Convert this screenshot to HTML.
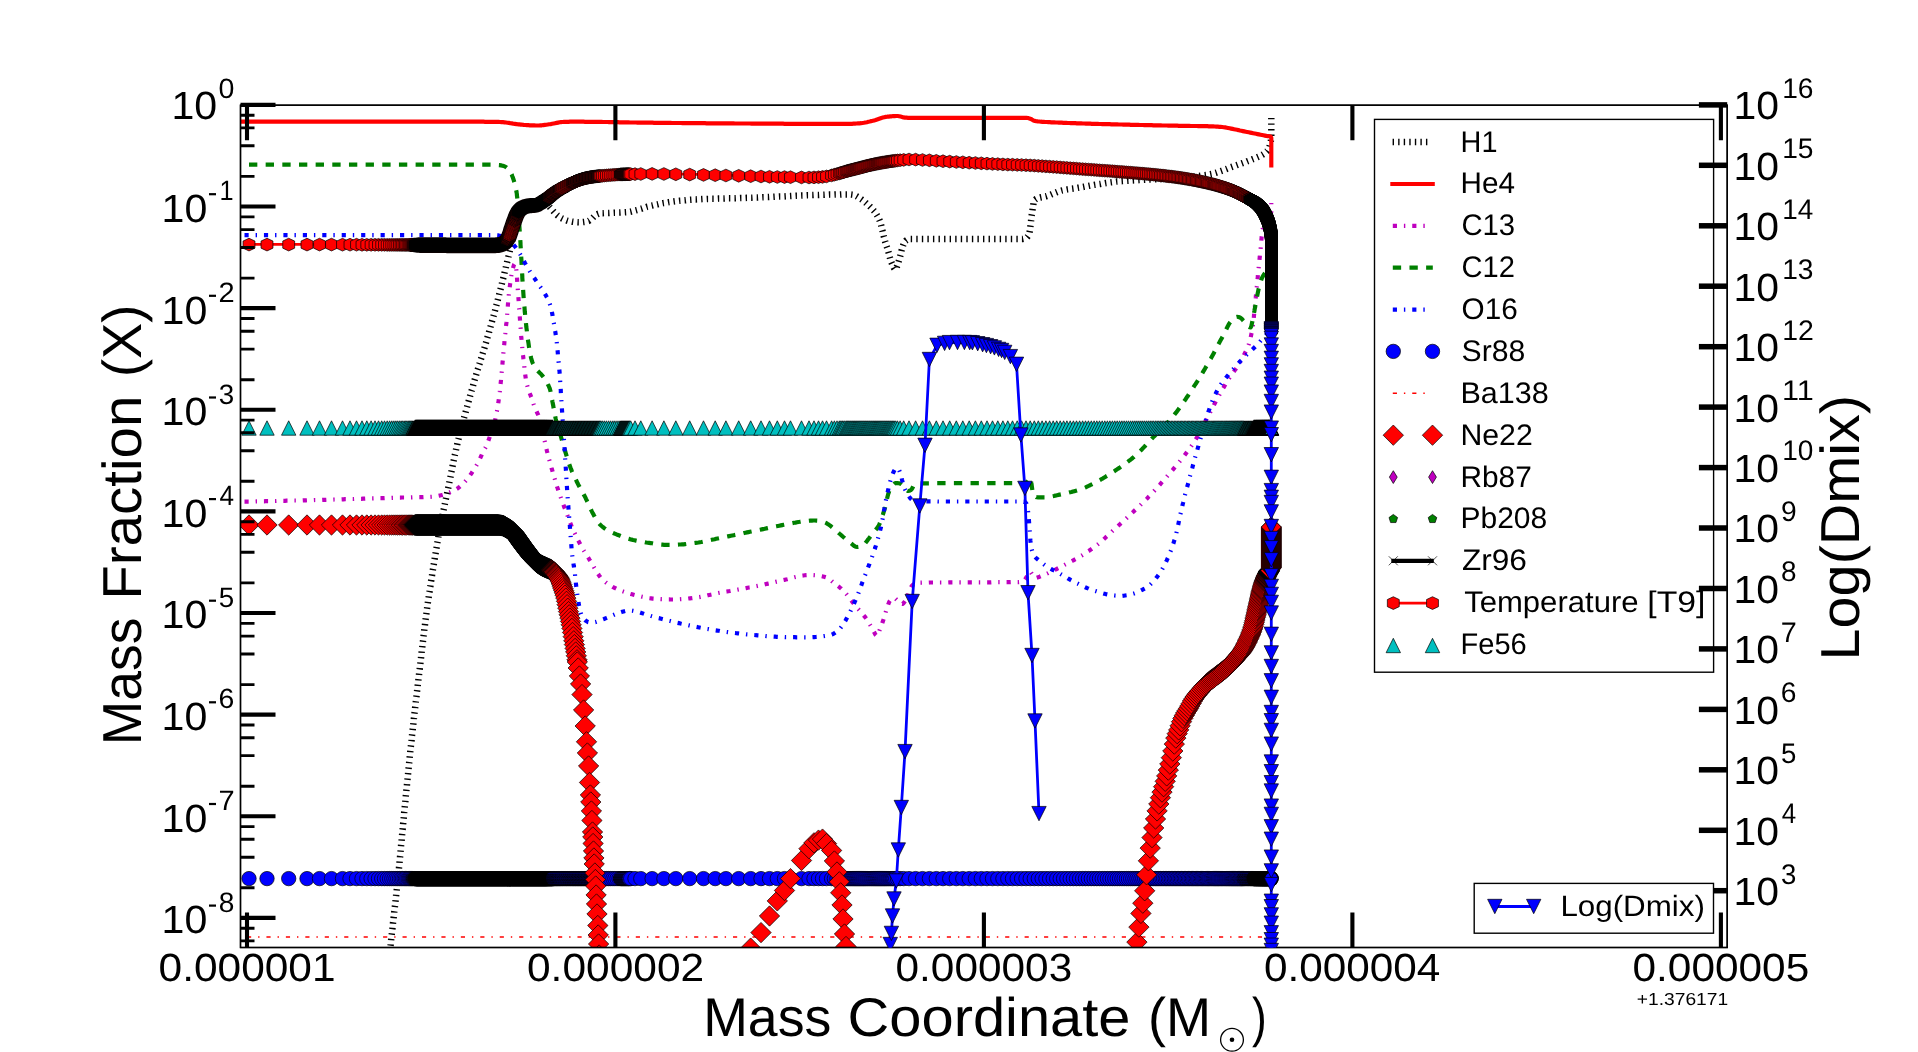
<!DOCTYPE html>
<html><head><meta charset="utf-8"><title>Abundance profile</title>
<style>html,body{margin:0;padding:0;background:#fff;}svg{display:block;will-change:transform;}text{font-family:"Liberation Sans",sans-serif;}</style></head>
<body>
<svg width="1918" height="1052" viewBox="0 0 1918 1052" font-family="'Liberation Sans', sans-serif" text-rendering="geometricPrecision">
<rect width="1918" height="1052" fill="#fff"/>
<defs>
<clipPath id="ax"><rect x="240.5" y="105.2" width="1486.7" height="842.3"/></clipPath>
<marker id="mh" markerUnits="userSpaceOnUse" markerWidth="30" markerHeight="30" refX="0" refY="0" viewBox="-15 -15 30 30" overflow="visible"><polygon points="0,-6.35 5.95,-3.55 5.95,3.55 0,6.35 -5.95,3.55 -5.95,-3.55" fill="#f00" stroke="#000" stroke-width="0.70" stroke-linejoin="round"/></marker>
<marker id="mD" markerUnits="userSpaceOnUse" markerWidth="30" markerHeight="30" refX="0" refY="0" viewBox="-15 -15 30 30" overflow="visible"><polygon points="0,-10.17 10.17,0 0,10.17 -10.17,0" fill="#f00" stroke="#000" stroke-width="0.70"/></marker>
<marker id="mo" markerUnits="userSpaceOnUse" markerWidth="30" markerHeight="30" refX="0" refY="0" viewBox="-15 -15 30 30" overflow="visible"><circle r="7.19" fill="#00f" stroke="#000" stroke-width="0.70"/></marker>
<marker id="mu" markerUnits="userSpaceOnUse" markerWidth="30" markerHeight="30" refX="0" refY="0" viewBox="-15 -15 30 30" overflow="visible"><polygon points="0,-7.19 7.19,7.19 -7.19,7.19" fill="#00bfbf" stroke="#000" stroke-width="0.70"/></marker>
<marker id="mv" markerUnits="userSpaceOnUse" markerWidth="30" markerHeight="30" refX="0" refY="0" viewBox="-15 -15 30 30" overflow="visible"><polygon points="0,7.19 7.19,-7.19 -7.19,-7.19" fill="#00f" stroke="#000" stroke-width="0.70"/></marker>
<marker id="mhj" markerUnits="userSpaceOnUse" markerWidth="30" markerHeight="30" refX="0" refY="0" viewBox="-15 -15 30 30" overflow="visible"><polygon points="0,-6.25 5.85,-3.50 5.85,3.50 0,6.25 -5.85,3.50 -5.85,-3.50" fill="#f00" stroke="#000" stroke-width="0.90" stroke-linejoin="round"/></marker>
<marker id="mDj" markerUnits="userSpaceOnUse" markerWidth="30" markerHeight="30" refX="0" refY="0" viewBox="-15 -15 30 30" overflow="visible"><polygon points="0,-10.03 10.03,0 0,10.03 -10.03,0" fill="#f00" stroke="#000" stroke-width="0.90"/></marker>
<marker id="moj" markerUnits="userSpaceOnUse" markerWidth="30" markerHeight="30" refX="0" refY="0" viewBox="-15 -15 30 30" overflow="visible"><circle r="7.09" fill="#00f" stroke="#000" stroke-width="0.90"/></marker>
<marker id="muj" markerUnits="userSpaceOnUse" markerWidth="30" markerHeight="30" refX="0" refY="0" viewBox="-15 -15 30 30" overflow="visible"><polygon points="0,-7.09 7.09,7.09 -7.09,7.09" fill="#00bfbf" stroke="#000" stroke-width="0.90"/></marker>
<marker id="mvj" markerUnits="userSpaceOnUse" markerWidth="30" markerHeight="30" refX="0" refY="0" viewBox="-15 -15 30 30" overflow="visible"><polygon points="0,7.09 7.09,-7.09 -7.09,-7.09" fill="#00f" stroke="#000" stroke-width="0.90"/></marker>
<marker id="mhk" markerUnits="userSpaceOnUse" markerWidth="30" markerHeight="30" refX="0" refY="0" viewBox="-15 -15 30 30" overflow="visible"><polygon points="0,-5.95 5.55,-3.35 5.55,3.35 0,5.95 -5.55,3.35 -5.55,-3.35" fill="#f00" stroke="#000" stroke-width="1.50" stroke-linejoin="round"/></marker>
<marker id="mDk" markerUnits="userSpaceOnUse" markerWidth="30" markerHeight="30" refX="0" refY="0" viewBox="-15 -15 30 30" overflow="visible"><polygon points="0,-9.61 9.61,0 0,9.61 -9.61,0" fill="#f00" stroke="#000" stroke-width="1.50"/></marker>
<marker id="mok" markerUnits="userSpaceOnUse" markerWidth="30" markerHeight="30" refX="0" refY="0" viewBox="-15 -15 30 30" overflow="visible"><circle r="6.79" fill="#00f" stroke="#000" stroke-width="1.50"/></marker>
<marker id="muk" markerUnits="userSpaceOnUse" markerWidth="30" markerHeight="30" refX="0" refY="0" viewBox="-15 -15 30 30" overflow="visible"><polygon points="0,-6.79 6.79,6.79 -6.79,6.79" fill="#00bfbf" stroke="#000" stroke-width="1.50"/></marker>
<marker id="mvk" markerUnits="userSpaceOnUse" markerWidth="30" markerHeight="30" refX="0" refY="0" viewBox="-15 -15 30 30" overflow="visible"><polygon points="0,6.79 6.79,-6.79 -6.79,-6.79" fill="#00f" stroke="#000" stroke-width="1.50"/></marker>
</defs>
<g clip-path="url(#ax)" fill="none" stroke-linejoin="round">
<polyline points="386,990 386.1,988.5 386.3,987 386.4,985.5 386.6,984 386.7,982.5 386.9,981 387,979.6 387.2,978.1 387.3,976.6 387.5,975.1 387.6,973.6 387.8,972.1 387.9,970.6 388.1,969.1 388.3,967.6 388.4,966.1 388.6,964.6 388.7,963.1 388.9,961.6 389,960.2 389.2,958.7 389.3,957.2 389.5,955.7 389.6,954.2 389.8,952.7 390,951.2 390.1,949.7 390.3,948.2 390.4,946.7 390.6,945.2 390.7,943.7 390.9,942.3 391.1,940.8 391.2,939.3 391.4,937.8 391.5,936.3 391.7,934.8 391.9,933.3 392,931.8 392.2,930.3 392.4,928.8 392.5,927.3 392.7,925.9 392.9,924.4 393,922.9 393.2,921.4 393.4,919.9 393.6,918.4 393.7,916.9 393.9,915.4 394.1,913.9 394.2,912.4 394.4,910.9 394.6,909.5 394.7,908 394.9,906.5 395.1,905 395.2,903.5 395.4,902 395.6,900.5 395.7,899 395.9,897.5 396.1,896 396.2,894.5 396.4,893.1 396.6,891.6 396.7,890.1 396.9,888.6 397,887.1 397.2,885.6 397.4,884.1 397.5,882.6 397.7,881.1 397.8,879.6 398,878.1 398.1,876.6 398.3,875.2 398.4,873.7 398.6,872.2 398.7,870.7 398.9,869.2 399,867.7 399.2,866.2 399.3,864.7 399.5,863.2 399.6,861.7 399.7,860.2 399.9,858.7 400,857.2 400.2,855.7 400.3,854.3 400.5,852.8 400.6,851.3 400.7,849.8 400.9,848.3 401,846.8 401.1,845.3 401.3,843.8 401.4,842.3 401.6,840.8 401.7,839.3 401.8,837.8 402,836.3 402.1,834.8 402.3,833.3 402.4,831.9 402.5,830.4 402.7,828.9 402.8,827.4 403,825.9 403.1,824.4 403.2,822.9 403.4,821.4 403.5,819.9 403.7,818.4 403.8,816.9 404,815.4 404.1,813.9 404.2,812.4 404.4,810.9 404.5,809.5 404.7,808 404.8,806.5 405,805 405.1,803.5 405.3,802 405.4,800.5 405.6,799 405.7,797.5 405.8,796 406,794.5 406.1,793 406.3,791.5 406.4,790 406.6,788.6 406.7,787.1 406.9,785.6 407,784.1 407.2,782.6 407.3,781.1 407.5,779.6 407.6,778.1 407.8,776.6 407.9,775.1 408.1,773.6 408.2,772.1 408.4,770.6 408.5,769.1 408.7,767.7 408.8,766.2 409,764.7 409.1,763.2 409.3,761.7 409.4,760.2 409.6,758.7 409.7,757.2 409.9,755.7 410,754.2 410.2,752.7 410.3,751.2 410.5,749.7 410.7,748.3 410.8,746.8 411,745.3 411.1,743.8 411.3,742.3 411.5,740.8 411.6,739.3 411.8,737.8 411.9,736.3 412.1,734.8 412.3,733.3 412.4,731.9 412.6,730.4 412.8,728.9 412.9,727.4 413.1,725.9 413.3,724.4 413.4,722.9 413.6,721.4 413.8,719.9 413.9,718.4 414.1,716.9 414.3,715.5 414.4,714 414.6,712.5 414.8,711 415,709.5 415.1,708 415.3,706.5 415.5,705 415.7,703.5 415.8,702 416,700.6 416.2,699.1 416.3,697.6 416.5,696.1 416.7,694.6 416.9,693.1 417,691.6 417.2,690.1 417.4,688.6 417.6,687.1 417.7,685.7 417.9,684.2 418.1,682.7 418.3,681.2 418.4,679.7 418.6,678.2 418.8,676.7 419,675.2 419.1,673.7 419.3,672.3 419.5,670.8 419.7,669.3 419.8,667.8 420,666.3 420.2,664.8 420.4,663.3 420.5,661.8 420.7,660.3 420.9,658.8 421.1,657.3 421.2,655.9 421.4,654.4 421.6,652.9 421.7,651.4 421.9,649.9 422.1,648.4 422.3,646.9 422.4,645.4 422.6,643.9 422.8,642.4 423,641 423.2,639.5 423.3,638 423.5,636.5 423.7,635 423.9,633.5 424.1,632 424.2,630.5 424.4,629 424.6,627.6 424.8,626.1 425,624.6 425.2,623.1 425.3,621.6 425.5,620.1 425.7,618.6 425.9,617.1 426.1,615.7 426.3,614.2 426.5,612.7 426.7,611.2 426.9,609.7 427.1,608.2 427.3,606.7 427.5,605.3 427.7,603.8 427.9,602.3 428.1,600.8 428.4,599.3 428.6,597.8 428.8,596.3 429,594.9 429.2,593.4 429.5,591.9 429.7,590.4 429.9,588.9 430.1,587.4 430.4,586 430.6,584.5 430.8,583 431,581.5 431.3,580 431.5,578.5 431.7,577.1 432,575.6 432.2,574.1 432.4,572.6 432.7,571.1 432.9,569.7 433.2,568.2 433.4,566.7 433.6,565.2 433.9,563.7 434.1,562.3 434.3,560.8 434.6,559.3 434.8,557.8 435.1,556.3 435.3,554.8 435.6,553.4 435.8,551.9 436.1,550.4 436.3,548.9 436.6,547.5 436.8,546 437.1,544.5 437.3,543 437.6,541.5 437.8,540.1 438.1,538.6 438.3,537.1 438.6,535.6 438.9,534.2 439.1,532.7 439.4,531.2 439.7,529.7 440,528.3 440.2,526.8 440.5,525.3 440.8,523.8 441.1,522.4 441.4,520.9 441.7,519.4 442,517.9 442.3,516.5 442.6,515 442.9,513.5 443.2,512.1 443.5,510.6 443.8,509.1 444.1,507.7 444.4,506.2 444.7,504.7 445,503.3 445.3,501.8 445.6,500.3 445.9,498.9 446.2,497.4 446.6,495.9 446.9,494.5 447.2,493 447.5,491.5 447.8,490 448.1,488.6 448.4,487.1 448.7,485.6 449,484.2 449.3,482.7 449.6,481.2 449.9,479.8 450.2,478.3 450.5,476.8 450.8,475.3 451.1,473.9 451.3,472.4 451.6,470.9 451.9,469.5 452.2,468 452.5,466.5 452.8,465 453.1,463.6 453.4,462.1 453.7,460.6 454,459.2 454.3,457.7 454.6,456.2 454.9,454.8 455.3,453.3 455.6,451.8 455.9,450.4 456.2,448.9 456.5,447.4 456.9,446 457.2,444.5 457.5,443 457.9,441.6 458.2,440.1 458.6,438.7 458.9,437.2 459.3,435.8 459.6,434.3 460,432.8 460.4,431.4 460.8,429.9 461.1,428.5 461.5,427 461.9,425.6 462.3,424.1 462.7,422.7 463.1,421.2 463.5,419.8 463.9,418.4 464.3,416.9 464.7,415.5 465.1,414 465.5,412.6 465.9,411.1 466.3,409.7 466.7,408.2 467.1,406.8 467.5,405.3 467.9,403.9 468.3,402.5 468.7,401 469.1,399.6 469.5,398.1 469.9,396.7 470.3,395.2 470.7,393.8 471.1,392.3 471.5,390.9 472,389.5 472.4,388 472.8,386.6 473.2,385.1 473.6,383.7 474,382.2 474.4,380.8 474.8,379.4 475.3,377.9 475.7,376.5 476.1,375 476.5,373.6 477,372.2 477.4,370.7 477.8,369.3 478.3,367.9 478.7,366.4 479.1,365 479.6,363.6 480,362.1 480.5,360.7 480.9,359.3 481.4,357.8 481.8,356.4 482.3,355 482.7,353.5 483.2,352.1 483.6,350.7 484,349.2 484.5,347.8 484.9,346.4 485.3,344.9 485.7,343.5 486.2,342 486.6,340.6 487,339.2 487.4,337.7 487.8,336.3 488.2,334.8 488.7,333.4 489.1,331.9 489.5,330.5 489.9,329.1 490.3,327.6 490.7,326.2 491.1,324.7 491.5,323.3 491.9,321.8 492.3,320.4 492.7,318.9 493.1,317.5 493.5,316.1 493.9,314.6 494.3,313.2 494.7,311.7 495.1,310.3 495.5,308.8 495.8,307.4 496.2,305.9 496.6,304.5 497,303 497.4,301.6 497.8,300.1 498.1,298.7 498.5,297.2 498.9,295.8 499.2,294.3 499.6,292.8 500,291.4 500.3,289.9 500.7,288.5 501.1,287 501.4,285.6 501.8,284.1 502.1,282.7 502.5,281.2 502.8,279.7 503.2,278.3 503.6,276.8 503.9,275.4 504.3,273.9 504.6,272.5 505,271 505.3,269.5 505.7,268.1 506,266.6 506.4,265.2 506.7,263.7 507.1,262.2 507.4,260.8 507.8,259.3 508.2,257.9 508.5,256.4 508.9,255 509.2,253.5 509.6,252 509.9,250.6 510.3,249.1 510.6,247.7 511,246.2 511.3,244.8 511.7,243.3 512,241.8 512.4,240.4 512.7,238.9 513.1,237.4 513.4,236 513.7,234.5 514.1,233 514.4,231.6 514.8,230.1 515.2,228.7 515.6,227.2 516.1,225.8 516.5,224.4 517,223 517.6,221.5 518.2,220 518.8,218.6 519.4,217.2 520.1,215.9 520.9,214.6 521.6,213.5 522.5,212.4 523.5,211.3 524.7,210.3 525.9,209.3 527.2,208.4 528.5,207.7 529.9,207 531.2,206.6 532.6,206.1 534.1,205.7 535.6,205.4 537.1,205.1 538.6,204.8 540,204.5 541.6,204.2 543.1,203.9 544.6,203.6 546,203.5 547.1,204 548.2,205.1 549.2,206.5 550.2,207.7 551.2,208.8 552.2,210 553.2,211.1 554.2,212.2 555.3,213.3 556.3,214.4 557.4,215.4 558.6,216.3 559.8,217.2 561.1,218 562.4,218.7 563.7,219.3 565.1,219.9 566.6,220.5 568,220.9 569.4,221.2 570.9,221.4 572.4,221.7 573.9,221.9 575.4,222.1 576.9,222.2 578.4,222.3 579.9,222.3 581.4,222.2 582.9,222.1 584.5,221.9 586,221.6 587.4,221.3 588.8,220.9 590,220.1 591.2,219.1 592.4,218.2 593.5,217.1 594.5,216 595.7,215.1 597,214.3 598.4,213.7 599.8,213.3 601.3,213.2 602.8,213.2 604.3,213.1 605.8,213.1 607.3,213 608.8,213 610.3,212.9 611.8,212.9 613.3,212.8 614.8,212.7 616.3,212.7 617.8,212.6 619.3,212.6 620.8,212.5 622.3,212.4 623.8,212.3 625.3,212.2 626.8,212.1 628.3,212 629.8,211.8 631.2,211.5 632.7,211.1 634.2,210.8 635.6,210.4 637.1,210 638.5,209.6 639.9,209.1 641.4,208.7 642.8,208.2 644.2,207.7 645.7,207.3 647.1,206.8 648.5,206.5 650,206.1 651.4,205.7 652.9,205.4 654.4,205 655.8,204.7 657.3,204.4 658.8,204 660.2,203.7 661.7,203.4 663.2,203.1 664.7,202.9 666.1,202.6 667.6,202.4 669.1,202.1 670.6,201.9 672.1,201.7 673.5,201.5 675,201.3 676.5,201.2 678,201 679.5,200.8 681,200.7 682.5,200.5 684,200.4 685.5,200.3 687,200.1 688.5,200 690,199.8 691.5,199.7 693,199.6 694.5,199.4 695.9,199.4 697.4,199.3 698.9,199.2 700.4,199.2 701.9,199.1 703.4,199 704.9,199 706.4,199 707.9,198.9 709.4,198.9 710.9,198.8 712.4,198.8 713.9,198.8 715.4,198.7 716.9,198.7 718.4,198.6 719.9,198.6 721.4,198.6 722.9,198.5 724.4,198.5 725.9,198.4 727.4,198.4 728.9,198.3 730.4,198.3 731.9,198.3 733.4,198.2 734.9,198.2 736.4,198.1 737.9,198.1 739.4,198.1 740.9,198 742.4,198 743.9,197.9 745.4,197.9 746.9,197.8 748.4,197.8 749.9,197.7 751.4,197.7 752.9,197.6 754.4,197.6 755.9,197.5 757.4,197.5 758.9,197.4 760.4,197.4 761.9,197.3 763.4,197.2 764.9,197.2 766.4,197.1 767.9,197.1 769.4,197 770.9,196.9 772.4,196.9 773.9,196.8 775.4,196.7 776.9,196.7 778.4,196.6 779.9,196.5 781.4,196.5 782.9,196.4 784.4,196.4 785.9,196.3 787.4,196.2 788.9,196.2 790.4,196.1 791.9,196 793.4,196 794.9,195.9 796.4,195.8 797.9,195.8 799.4,195.7 800.9,195.6 802.4,195.5 803.9,195.5 805.4,195.4 806.9,195.3 808.4,195.3 809.9,195.2 811.4,195.1 812.9,195.1 814.4,195 815.9,195 817.4,194.9 818.9,194.9 820.4,194.8 821.9,194.8 823.4,194.8 824.9,194.7 826.4,194.7 827.9,194.7 829.4,194.6 830.9,194.6 832.4,194.6 833.9,194.6 835.4,194.5 836.9,194.5 838.4,194.5 839.9,194.5 841.4,194.4 842.9,194.4 844.4,194.4 845.9,194.4 847.4,194.4 848.9,194.4 850.4,194.4 851.9,194.6 853.4,194.8 854.7,195.2 856.1,196 857.4,196.7 858.7,197.5 860,198.3 861.2,199.1 862.4,200 863.6,201 864.7,201.9 865.9,202.9 867,203.9 868.2,204.8 869.3,205.8 870.4,206.9 871.4,207.9 872.4,209 873.4,210.2 874.4,211.3 875.3,212.5 876.1,213.8 876.9,215.1 877.7,216.4 878.3,217.7 879,219 879.6,220.4 880.1,221.8 880.6,223.3 881,224.7 881.4,226.1 881.7,227.6 882,229.1 882.4,230.5 882.7,232 883.1,233.5 883.5,234.9 883.8,236.4 884.2,237.8 884.5,239.3 884.9,240.7 885.3,242.2 885.8,243.6 886.2,245 886.7,246.5 887.2,247.9 887.6,249.3 888.1,250.7 888.5,252.2 888.9,253.6 889.2,255.1 889.6,256.6 890,258 890.4,259.4 890.9,260.9 891.4,262.3 892,263.7 892.5,265.1 893.2,266.4 894,268.1 894.9,269.3 895.7,269.3 896.4,268.1 897,266.4 897.6,264.8 898.1,263.4 898.6,261.9 899,260.5 899.4,259.1 899.8,257.6 900.2,256.2 900.6,254.7 900.9,253.2 901.3,251.8 901.6,250.3 902,248.9 902.5,247.4 902.9,246 903.4,244.6 904,243.2 904.8,241.8 905.8,240.7 906.9,240 908.4,239.4 909.9,239 911.4,239 912.8,239 914.3,239 915.8,239 917.2,239 918.7,239 920.2,239 921.7,239 923.2,239 924.7,239 926.2,239 927.7,239 929.2,239 930.7,239 932.2,239 933.7,239 935.2,239 936.7,239 938.2,239 939.7,239 941.3,239 942.8,239 944.3,239 945.8,239 947.3,239 948.8,239 950.3,239 951.9,239 953.4,239 954.9,239 956.4,239 957.9,239 959.4,239 960.9,239 962.4,239 963.9,239 965.4,239 966.9,239 968.4,239 969.9,239 971.4,239 972.9,239 974.4,239 976,239 977.5,239 979,239 980.5,239 982,239 983.5,239 985,239 986.5,239 988,239 989.5,239 991,239 992.6,239 994.1,239 995.6,239 997.1,239 998.6,239 1000.1,239 1001.6,239 1003.1,239 1004.6,239 1006.1,239 1007.6,239 1009.1,239 1010.5,239 1012,239 1013.5,239 1015,239 1016.5,239 1018,239 1019.4,239 1020.9,239 1022.4,239 1023.9,238.7 1025.4,238.3 1026.6,237.6 1027.7,236.5 1028.6,235.2 1029.2,233.9 1029.5,232.5 1029.8,231 1030,229.5 1030.2,228 1030.4,226.4 1030.6,225 1030.8,223.5 1031,222 1031.1,220.5 1031.3,219 1031.4,217.5 1031.6,216 1031.8,214.5 1032.1,213 1032.3,211.6 1032.5,210.1 1032.7,208.6 1033,207.1 1033.2,205.6 1033.4,204 1033.6,202.5 1033.9,201.2 1034.7,200 1036,199 1037.3,198.4 1038.7,197.9 1040.1,197.5 1041.6,197.2 1043.2,197 1044.7,196.6 1046.1,196.3 1047.6,195.8 1049,195.3 1050.4,194.8 1051.8,194.2 1053.2,193.6 1054.6,193 1056,192.5 1057.4,191.9 1058.8,191.4 1060.2,191 1061.6,190.6 1063.1,190.3 1064.5,190 1066,189.7 1067.5,189.4 1069,189.2 1070.4,189 1071.9,188.7 1073.4,188.5 1074.9,188.3 1076.4,188.1 1077.9,187.8 1079.4,187.6 1080.9,187.3 1082.3,187.1 1083.8,186.8 1085.3,186.5 1086.8,186.3 1088.2,186 1089.7,185.7 1091.2,185.4 1092.7,185.2 1094.1,184.9 1095.6,184.7 1097.1,184.4 1098.6,184.2 1100.1,184 1101.5,183.7 1103,183.5 1104.5,183.3 1106,183 1107.5,182.8 1109,182.6 1110.4,182.4 1111.9,182.2 1113.4,182 1114.9,181.8 1116.4,181.6 1117.9,181.5 1119.4,181.4 1120.9,181.2 1122.4,181.1 1123.9,181 1125.4,180.9 1126.9,180.8 1128.3,180.7 1129.8,180.6 1131.3,180.5 1132.8,180.4 1134.3,180.3 1135.8,180.3 1137.3,180.2 1138.8,180.1 1140.3,180 1141.8,179.9 1143.3,179.9 1144.8,179.8 1146.3,179.7 1147.8,179.6 1149.3,179.5 1150.8,179.5 1152.3,179.4 1153.8,179.3 1155.3,179.2 1156.8,179.1 1158.3,179 1159.8,178.9 1161.3,178.9 1162.8,178.8 1164.3,178.7 1165.8,178.6 1167.3,178.5 1168.8,178.5 1170.3,178.4 1171.8,178.3 1173.3,178.2 1174.8,178.1 1176.3,178 1177.8,177.9 1179.3,177.8 1180.8,177.6 1182.3,177.5 1183.8,177.4 1185.3,177.3 1186.8,177.2 1188.3,177 1189.8,176.9 1191.3,176.7 1192.8,176.6 1194.3,176.5 1195.8,176.3 1197.3,176.1 1198.8,176 1200.3,175.8 1201.7,175.6 1203.2,175.4 1204.7,175.2 1206.2,175 1207.6,174.7 1209.1,174.5 1210.5,174.2 1212,173.9 1213.4,173.5 1214.9,173.1 1216.3,172.7 1217.7,172.2 1219.1,171.7 1220.6,171.2 1222,170.7 1223.4,170.2 1224.8,169.6 1226.2,169.1 1227.6,168.5 1229,168 1230.5,167.4 1231.9,166.9 1233.3,166.4 1234.7,165.9 1236.1,165.4 1237.5,164.9 1238.9,164.4 1240.4,163.9 1241.8,163.4 1243.2,162.9 1244.6,162.4 1246,161.9 1247.4,161.3 1248.8,160.8 1250.2,160.2 1251.6,159.7 1253,159.1 1254.4,158.6 1255.8,158 1257.1,157.4 1258.5,156.8 1259.9,156.1 1261.2,155.4 1262.5,154.7 1263.8,153.9 1265,153 1266.2,152 1267.3,151 1268.1,149.8 1268.8,148.5 1269.4,147.1 1269.8,145.6 1270.2,144.2 1270.5,142.7 1270.8,141.2 1271.1,139.7 1271.3,138.2 1271.3,136.8 1271.3,135.3 1271.3,133.8 1271.3,132.3 1271.3,130.8 1271.3,129.3 1271.3,127.8 1271.3,126.3 1271.3,124.8 1271.3,123.3 1271.3,121.8 1271.3,120.3 1271.3,118.8 1271.3,118" stroke="#000" stroke-width="6.50" stroke-dasharray="1.39 4.17" />
<polyline points="242,121.6 243.5,121.6 245,121.6 246.5,121.6 248,121.6 249.5,121.6 251,121.6 252.5,121.6 254,121.6 255.5,121.6 257,121.6 258.5,121.6 260,121.6 261.5,121.6 263,121.6 264.5,121.6 266,121.6 267.5,121.6 269,121.6 270.5,121.6 272,121.6 273.5,121.6 275,121.6 276.5,121.6 278,121.6 279.5,121.6 281,121.6 282.5,121.6 284,121.6 285.5,121.6 287,121.6 288.5,121.6 290,121.6 291.5,121.6 293,121.6 294.5,121.6 296,121.6 297.5,121.6 299,121.6 300.5,121.6 302,121.6 303.5,121.6 305,121.6 306.5,121.6 308,121.6 309.5,121.6 311,121.6 312.5,121.6 314,121.6 315.5,121.6 317,121.6 318.5,121.6 320,121.6 321.5,121.6 323,121.6 324.5,121.6 326,121.6 327.5,121.6 329,121.6 330.5,121.6 332,121.6 333.5,121.6 335,121.6 336.5,121.6 338,121.6 339.5,121.6 341,121.6 342.5,121.6 344,121.6 345.5,121.6 347,121.6 348.5,121.6 350,121.6 351.5,121.6 353,121.6 354.5,121.6 356,121.6 357.5,121.6 359,121.6 360.5,121.6 362,121.6 363.5,121.6 365,121.6 366.5,121.6 368,121.6 369.5,121.6 371,121.6 372.5,121.6 374,121.6 375.5,121.6 377,121.6 378.5,121.6 380,121.6 381.5,121.6 383,121.6 384.5,121.6 386,121.6 387.5,121.6 389,121.6 390.5,121.6 392,121.6 393.5,121.6 395,121.6 396.5,121.6 398,121.6 399.5,121.6 401,121.6 402.5,121.6 404,121.6 405.5,121.6 407,121.6 408.5,121.6 410,121.6 411.5,121.6 413,121.6 414.5,121.6 416,121.6 417.5,121.6 419,121.6 420.5,121.6 422,121.6 423.5,121.6 425,121.6 426.5,121.6 428,121.6 429.5,121.6 431,121.6 432.5,121.6 434,121.6 435.5,121.6 437,121.6 438.5,121.6 440,121.6 441.5,121.6 443,121.6 444.5,121.6 446,121.6 447.5,121.6 449,121.6 450.5,121.6 452,121.6 453.5,121.6 455,121.7 456.5,121.7 458,121.7 459.5,121.7 461,121.7 462.5,121.7 464,121.7 465.5,121.7 467,121.7 468.5,121.7 470,121.7 471.5,121.7 473,121.7 474.5,121.7 476,121.7 477.5,121.7 479,121.7 480.5,121.7 482,121.7 483.5,121.7 485,121.8 486.5,121.8 488,121.8 489.5,121.8 491,121.8 492.5,121.8 494,121.8 495.5,121.8 497,121.8 498.5,121.9 500,122 501.5,122.1 503,122.2 504.5,122.3 506,122.5 507.5,122.7 508.9,122.9 510.4,123.2 511.9,123.4 513.4,123.7 514.9,123.9 516.4,124.1 517.8,124.3 519.3,124.4 520.8,124.6 522.3,124.7 523.8,124.9 525.3,125 526.8,125.1 528.3,125.2 529.8,125.3 531.3,125.3 532.8,125.4 534.3,125.4 535.8,125.5 537.3,125.5 538.8,125.5 540.3,125.4 541.8,125.3 543.3,125.1 544.8,124.9 546.3,124.7 547.8,124.5 549.2,124.3 550.7,124.1 552.2,123.8 553.7,123.5 555.1,123.2 556.6,122.9 558.1,122.6 559.6,122.3 561,122.1 562.5,122 564,121.9 565.5,121.9 567,121.8 568.5,121.8 570,121.7 571.5,121.7 573,121.7 574.5,121.7 576,121.7 577.5,121.7 579,121.7 580.5,121.7 582,121.7 583.5,121.7 585,121.8 586.5,121.8 588,121.8 589.5,121.8 591,121.8 592.5,121.8 594,121.8 595.5,121.9 597,121.9 598.5,121.9 600,121.9 601.5,121.9 603,122 604.5,122 606,122 607.5,122 609,122.1 610.5,122.1 612,122.1 613.5,122.1 615,122.2 616.5,122.2 618,122.2 619.5,122.3 621,122.3 622.5,122.3 624,122.3 625.5,122.4 627,122.4 628.5,122.4 630,122.5 631.5,122.5 633,122.5 634.5,122.5 636,122.5 637.5,122.6 639,122.6 640.5,122.6 642,122.6 643.5,122.6 645,122.7 646.5,122.7 648,122.7 649.5,122.7 651,122.7 652.5,122.7 654,122.8 655.5,122.8 657,122.8 658.5,122.8 660,122.8 661.5,122.8 663,122.9 664.5,122.9 666,122.9 667.5,122.9 669,122.9 670.5,122.9 672,123 673.5,123 675,123 676.5,123 678,123 679.5,123 681,123 682.5,123.1 684,123.1 685.5,123.1 687,123.1 688.5,123.1 690,123.1 691.5,123.1 693,123.1 694.5,123.2 696,123.2 697.5,123.2 699,123.2 700.5,123.2 702,123.2 703.5,123.2 705,123.2 706.5,123.3 708,123.3 709.5,123.3 711,123.3 712.5,123.3 714,123.3 715.5,123.3 717,123.3 718.5,123.3 720,123.3 721.5,123.4 723,123.4 724.5,123.4 726,123.4 727.5,123.4 729,123.4 730.5,123.4 732,123.4 733.5,123.4 735,123.5 736.5,123.5 738,123.5 739.5,123.5 741,123.5 742.5,123.5 744,123.5 745.5,123.5 747,123.5 748.5,123.5 750,123.5 751.5,123.6 753,123.6 754.5,123.6 756,123.6 757.5,123.6 759,123.6 760.5,123.6 762,123.6 763.5,123.6 765,123.6 766.5,123.6 768,123.6 769.5,123.7 771,123.7 772.5,123.7 774,123.7 775.5,123.7 777,123.7 778.5,123.7 780,123.7 781.5,123.7 783,123.7 784.5,123.8 786,123.8 787.5,123.8 789,123.8 790.5,123.8 792,123.8 793.5,123.8 795,123.8 796.5,123.8 798,123.8 799.5,123.8 801,123.8 802.5,123.9 804,123.9 805.5,123.9 807,123.9 808.5,123.9 810,123.9 811.5,123.9 813,123.9 814.5,123.9 816,123.9 817.5,123.9 819,123.9 820.5,123.9 822,123.9 823.5,123.9 825,123.9 826.5,123.9 828,123.9 829.5,123.9 831,123.9 832.5,123.9 834,123.9 835.5,123.9 837,123.9 838.5,123.9 840,123.9 841.5,123.9 843,123.8 844.5,123.8 846,123.8 847.5,123.8 849,123.8 850.5,123.8 852,123.8 853.5,123.7 855,123.6 856.5,123.5 858,123.4 859.5,123.3 861,123.2 862.5,123 863.9,122.8 865.4,122.5 866.9,122.2 868.4,121.8 869.8,121.5 871.3,121.1 872.7,120.8 874.2,120.4 875.6,120 877.1,119.5 878.5,119 879.9,118.5 881.4,118 882.8,117.6 884.3,117.2 885.7,116.9 887.2,116.7 888.7,116.6 890.2,116.4 891.7,116.3 893.2,116.1 894.7,116.1 896.2,116 897.7,116 899.1,116.2 900.6,116.6 902.1,117 903.5,117.4 905,117.6 906.5,117.7 908,117.8 909.5,117.9 911,117.9 912.5,117.9 914,117.9 915.5,117.9 917,117.9 918.5,117.9 920,117.9 921.5,117.9 923,117.9 924.5,117.9 926,117.9 927.5,117.9 929,117.9 930.5,117.9 932,117.9 933.5,117.9 935,117.9 936.5,117.9 938,117.9 939.5,117.9 941,117.9 942.5,117.9 944,117.9 945.5,117.9 947,117.9 948.5,117.9 950,117.9 951.5,117.9 953,117.9 954.5,117.9 956,117.9 957.5,117.9 959,117.9 960.5,117.9 962,117.9 963.5,117.9 965,117.9 966.5,117.9 968,117.9 969.5,117.9 971,117.9 972.5,117.9 974,117.9 975.5,117.9 977,117.9 978.5,117.9 980,117.9 981.5,117.9 983,117.9 984.5,117.9 986,117.9 987.5,117.9 989,117.9 990.5,117.9 992,117.9 993.5,117.9 995,117.9 996.5,117.9 998,117.9 999.5,117.9 1001,117.9 1002.5,117.9 1004,117.9 1005.5,117.9 1007,117.9 1008.5,117.9 1010,117.9 1011.6,117.9 1013.1,117.9 1014.6,117.9 1016.1,117.9 1017.6,117.9 1019.1,117.9 1020.6,117.9 1022.1,117.9 1023.6,117.9 1025,117.9 1026.5,117.9 1028,118 1029.4,118.4 1030.9,118.9 1032.2,119.7 1033.5,120.5 1034.8,120.9 1036.3,121.2 1037.8,121.4 1039.3,121.5 1040.8,121.7 1042.3,121.8 1043.8,121.9 1045.3,122 1046.8,122 1048.3,122.1 1049.8,122.2 1051.3,122.3 1052.8,122.3 1054.3,122.4 1055.8,122.5 1057.3,122.5 1058.8,122.6 1060.3,122.7 1061.8,122.7 1063.3,122.8 1064.8,122.9 1066.3,122.9 1067.8,123 1069.3,123 1070.8,123.1 1072.3,123.1 1073.8,123.2 1075.3,123.2 1076.8,123.3 1078.3,123.3 1079.8,123.4 1081.3,123.4 1082.8,123.5 1084.3,123.5 1085.8,123.6 1087.3,123.6 1088.8,123.7 1090.3,123.7 1091.8,123.8 1093.3,123.8 1094.8,123.9 1096.3,123.9 1097.8,123.9 1099.3,124 1100.8,124 1102.3,124.1 1103.8,124.1 1105.3,124.1 1106.8,124.2 1108.3,124.2 1109.8,124.2 1111.3,124.3 1112.8,124.3 1114.3,124.4 1115.8,124.4 1117.3,124.4 1118.8,124.5 1120.3,124.5 1121.8,124.5 1123.3,124.6 1124.8,124.6 1126.3,124.7 1127.8,124.7 1129.3,124.7 1130.8,124.8 1132.3,124.8 1133.8,124.8 1135.3,124.9 1136.8,124.9 1138.3,124.9 1139.8,125 1141.3,125 1142.8,125 1144.3,125.1 1145.8,125.1 1147.3,125.1 1148.8,125.2 1150.3,125.2 1151.8,125.2 1153.3,125.3 1154.8,125.3 1156.3,125.3 1157.8,125.4 1159.3,125.4 1160.8,125.4 1162.3,125.5 1163.8,125.5 1165.3,125.5 1166.8,125.5 1168.3,125.6 1169.8,125.6 1171.3,125.6 1172.8,125.7 1174.3,125.7 1175.8,125.7 1177.3,125.7 1178.8,125.8 1180.3,125.8 1181.8,125.8 1183.3,125.9 1184.8,125.9 1186.3,125.9 1187.8,125.9 1189.3,125.9 1190.8,126 1192.3,126 1193.8,126 1195.3,126 1196.8,126 1198.3,126.1 1199.8,126.1 1201.3,126.1 1202.8,126.1 1204.3,126.2 1205.8,126.2 1207.3,126.2 1208.8,126.3 1210.3,126.3 1211.8,126.4 1213.3,126.4 1214.8,126.5 1216.3,126.6 1217.8,126.7 1219.3,126.8 1220.7,126.9 1222.2,127 1223.7,127.2 1225.2,127.4 1226.7,127.7 1228.1,128 1229.6,128.3 1231.1,128.6 1232.6,128.9 1234,129.2 1235.5,129.5 1237,129.8 1238.4,130.1 1239.9,130.5 1241.4,130.8 1242.8,131.1 1244.3,131.4 1245.8,131.7 1247.2,132 1248.7,132.3 1250.2,132.6 1251.6,132.9 1253.1,133.2 1254.6,133.5 1256.1,133.8 1257.5,134.1 1259,134.4 1260.5,134.7 1261.9,135 1263.4,135.3 1264.9,135.6 1266.4,135.9 1267.9,136.1 1269.4,136.3 1270.7,136.6 1271.3,137.9 1271.3,139.2 1271.3,140.5 1271.3,141.8 1271.3,143.2 1271.3,144.5 1271.3,145.9 1271.3,147.3 1271.3,148.8 1271.3,150.2 1271.3,151.7 1271.3,153.3 1271.3,154.8 1271.3,156.4 1271.3,158 1271.3,159.7 1271.3,161.4 1271.3,163.1 1271.3,164.9 1271.3,165.5" stroke="#f00" stroke-width="4.17" stroke-linecap="square"/>
<polyline points="244.5,501.7 246,501.7 247.5,501.6 249,501.6 250.5,501.6 252,501.5 253.5,501.5 255,501.5 256.5,501.4 258,501.4 259.5,501.4 261,501.3 262.5,501.3 264,501.3 265.5,501.2 267,501.2 268.5,501.2 270,501.1 271.5,501.1 273,501.1 274.5,501 276,501 277.5,500.9 279,500.9 280.5,500.9 282,500.8 283.5,500.8 285,500.8 286.5,500.7 288,500.7 289.5,500.7 291,500.6 292.5,500.6 294,500.5 295.5,500.5 297,500.5 298.5,500.4 300,500.4 301.5,500.4 303,500.3 304.5,500.3 306,500.3 307.5,500.2 309,500.2 310.5,500.1 312,500.1 313.5,500.1 315,500 316.5,500 318,499.9 319.5,499.9 321,499.9 322.5,499.8 324,499.8 325.5,499.8 327,499.7 328.5,499.7 330,499.6 331.5,499.6 333,499.6 334.5,499.5 336,499.5 337.5,499.4 339,499.4 340.5,499.4 342,499.3 343.5,499.3 345,499.2 346.5,499.2 348,499.1 349.5,499.1 351,499.1 352.5,499 354,499 355.5,498.9 357,498.9 358.5,498.8 360,498.8 361.5,498.8 363,498.7 364.5,498.7 366,498.6 367.5,498.6 369,498.5 370.5,498.5 372,498.4 373.5,498.4 375,498.3 376.5,498.3 378,498.3 379.5,498.2 381,498.2 382.5,498.1 384,498.1 385.5,498 387,498 388.5,497.9 389.9,497.9 391.4,497.9 392.9,497.8 394.4,497.8 395.9,497.7 397.4,497.7 398.9,497.6 400.4,497.6 401.9,497.5 403.4,497.5 404.9,497.5 406.4,497.4 408,497.4 409.5,497.4 411,497.4 412.5,497.3 414,497.3 415.5,497.3 417,497.2 418.5,497.2 420,497.2 421.5,497.1 423,497.1 424.5,497 426,497 427.5,496.9 429,496.9 430.4,496.8 431.9,496.7 433.4,496.6 434.9,496.4 436.4,496.2 437.9,495.9 439.4,495.6 440.8,495.3 442.3,494.9 443.7,494.5 445.1,494 446.6,493.5 448,493 449.4,492.5 450.8,491.9 452.2,491.4 453.5,490.7 454.9,490 456.1,489.3 457.4,488.5 458.6,487.6 459.8,486.6 460.9,485.6 462,484.6 463.1,483.6 464.2,482.5 465.2,481.4 466.2,480.3 467.2,479.2 468.1,478 469,476.8 469.9,475.6 470.7,474.4 471.6,473.1 472.4,471.8 473.2,470.6 474,469.3 474.8,468 475.6,466.8 476.4,465.5 477.2,464.2 478,462.9 478.6,461.6 479.3,460.3 479.9,458.9 480.5,457.5 481.1,456.1 481.7,454.8 482.3,453.4 483,452 483.7,450.7 484.4,449.4 485.2,448.1 485.9,446.8 486.5,445.4 487.1,444 487.6,442.6 488.2,441.2 488.7,439.8 489.2,438.4 489.7,437 490.1,435.6 490.6,434.1 491.1,432.7 491.6,431.3 492.1,429.9 492.6,428.5 493.1,427 493.5,425.6 494,424.2 494.4,422.7 494.8,421.3 495.2,419.8 495.5,418.4 495.8,416.9 496.1,415.5 496.4,414 496.7,412.5 497,411 497.2,409.5 497.5,408.1 497.7,406.6 498,405.1 498.2,403.6 498.4,402.1 498.6,400.7 498.8,399.2 499,397.7 499.2,396.2 499.4,394.7 499.6,393.2 499.8,391.7 499.9,390.2 500.1,388.7 500.3,387.3 500.4,385.8 500.6,384.3 500.7,382.8 500.9,381.3 501,379.8 501.1,378.3 501.3,376.8 501.4,375.3 501.6,373.8 501.7,372.3 501.9,370.8 502,369.3 502.1,367.8 502.3,366.3 502.4,364.9 502.5,363.4 502.6,361.9 502.8,360.4 502.9,358.9 503,357.4 503.2,355.9 503.3,354.4 503.4,352.9 503.6,351.4 503.7,349.9 503.8,348.4 504,346.9 504.1,345.4 504.3,343.9 504.4,342.4 504.5,340.9 504.7,339.5 504.8,338 505,336.5 505.1,335 505.3,333.5 505.4,332 505.6,330.5 505.7,329 505.9,327.5 506,326 506.2,324.5 506.4,323 506.5,321.5 506.7,320.1 506.8,318.6 506.9,317.1 507.1,315.6 507.2,314.1 507.3,312.6 507.5,311.1 507.6,309.6 507.7,308.1 507.8,306.6 507.9,305.1 508,303.6 508.1,302.1 508.3,300.6 508.4,299.1 508.5,297.6 508.7,296.1 508.8,294.7 509,293.2 509.2,291.7 509.3,290.2 509.5,288.7 509.7,287.2 509.9,285.7 510.1,284.2 510.3,282.7 510.5,281.2 510.7,279.8 511,278.3 511.2,276.8 511.4,275.3 511.7,273.8 512,272.4 512.3,270.9 512.6,269.4 513,268 513.5,266.3 514.1,264.5 514.7,263.5 515.1,263.9 515.5,265.2 515.9,267 516.2,268.9 516.4,270.5 516.5,272 516.7,273.5 516.8,275 516.9,276.5 517,278 517.1,279.5 517.2,281 517.3,282.5 517.4,284 517.5,285.5 517.6,286.9 517.7,288.4 517.8,289.9 517.9,291.4 518.1,292.9 518.2,294.4 518.3,295.9 518.4,297.4 518.5,298.9 518.6,300.4 518.7,301.9 518.8,303.4 518.9,304.9 519,306.4 519.1,307.9 519.3,309.4 519.4,310.9 519.5,312.4 519.6,313.9 519.7,315.4 519.8,316.9 519.9,318.4 520,319.9 520.1,321.4 520.2,322.9 520.3,324.3 520.4,325.8 520.5,327.3 520.7,328.8 520.8,330.3 520.9,331.8 521,333.3 521.1,334.8 521.2,336.3 521.3,337.8 521.5,339.3 521.6,340.8 521.7,342.3 521.9,343.8 522,345.3 522.2,346.8 522.3,348.3 522.5,349.8 522.6,351.2 522.8,352.7 522.9,354.2 523.1,355.7 523.3,357.2 523.4,358.7 523.6,360.2 523.8,361.7 523.9,363.2 524.1,364.7 524.3,366.2 524.4,367.7 524.6,369.2 524.7,370.7 524.9,372.1 525.1,373.6 525.3,375.1 525.5,376.6 525.7,378.1 525.9,379.6 526.2,381 526.5,382.5 526.8,384 527.2,385.4 527.6,386.9 528,388.3 528.4,389.8 528.9,391.2 529.4,392.6 530,394 530.6,395.4 531.1,396.7 531.7,398.2 532.1,399.6 532.6,401 533.1,402.4 533.5,403.9 534,405.3 534.5,406.7 535,408.1 535.6,409.5 536.3,410.8 536.9,412.2 537.6,413.6 538.2,414.9 538.8,416.3 539.2,417.7 539.6,419.1 540,420.6 540.4,422 540.8,423.5 541.1,424.9 541.4,426.4 541.7,427.9 542.1,429.4 542.4,430.8 542.7,432.3 543,433.8 543.3,435.2 543.7,436.7 544,438.2 544.3,439.6 544.7,441.1 545,442.6 545.3,444 545.7,445.5 546,446.9 546.3,448.4 546.7,449.9 547,451.3 547.4,452.8 547.8,454.2 548.1,455.7 548.5,457.1 548.9,458.6 549.3,460 549.7,461.5 550.1,462.9 550.5,464.4 550.9,465.8 551.3,467.3 551.7,468.7 552.2,470.1 552.6,471.6 553,473 553.4,474.5 553.8,475.9 554.3,477.3 554.7,478.8 555.1,480.2 555.5,481.7 556,483.1 556.4,484.5 556.9,486 557.3,487.4 557.8,488.8 558.2,490.2 558.7,491.7 559.2,493.1 559.7,494.5 560.2,495.9 560.7,497.3 561.2,498.7 561.7,500.2 562.2,501.6 562.7,503 563.3,504.4 563.8,505.8 564.3,507.2 564.9,508.6 565.4,510 565.9,511.4 566.4,512.8 567,514.2 567.5,515.6 568,517 568.5,518.4 569,519.8 569.6,521.2 570.1,522.6 570.7,524 571.2,525.4 571.8,526.8 572.4,528.2 573,529.6 573.6,530.9 574.2,532.3 574.9,533.6 575.5,535 576.2,536.4 576.8,537.7 577.5,539 578.2,540.4 578.9,541.7 579.6,543 580.3,544.4 581,545.7 581.7,547 582.5,548.3 583.2,549.6 584,550.9 584.8,552.1 585.6,553.4 586.4,554.7 587.2,556 588,557.2 588.8,558.5 589.6,559.8 590.4,561 591.2,562.3 592,563.6 592.7,564.9 593.5,566.2 594.2,567.6 595,568.9 595.7,570.2 596.5,571.5 597.3,572.8 598.1,574 598.9,575.2 599.8,576.4 600.7,577.6 601.7,578.6 602.8,579.7 603.9,580.7 605.1,581.7 606.2,582.7 607.4,583.6 608.6,584.4 609.9,585.3 611.2,586 612.5,586.8 613.8,587.5 615.2,588.1 616.6,588.8 617.9,589.4 619.3,590 620.7,590.6 622.1,591.1 623.5,591.6 624.9,592.1 626.3,592.6 627.8,593.1 629.2,593.5 630.6,593.9 632.1,594.3 633.5,594.7 635,595.1 636.4,595.4 637.9,595.7 639.4,596.1 640.8,596.4 642.3,596.8 643.8,597.1 645.3,597.4 646.7,597.7 648.2,598 649.7,598.2 651.2,598.4 652.7,598.6 654.1,598.7 655.6,598.8 657.1,598.9 658.6,599 660.1,599.1 661.6,599.2 663.1,599.2 664.6,599.3 666.1,599.4 667.6,599.4 669.1,599.4 670.6,599.5 672.1,599.5 673.6,599.5 675.1,599.5 676.6,599.5 678.1,599.4 679.6,599.3 681.1,599.2 682.6,599.1 684.1,599 685.6,598.8 687.1,598.7 688.6,598.5 690.1,598.3 691.6,598.2 693.1,598 694.6,597.8 696,597.6 697.5,597.4 699,597.1 700.5,596.9 701.9,596.6 703.4,596.3 704.9,596 706.3,595.7 707.8,595.3 709.3,595 710.7,594.7 712.2,594.4 713.7,594 715.2,593.7 716.6,593.4 718.1,593.1 719.6,592.8 721,592.5 722.5,592.3 724,592 725.5,591.7 726.9,591.5 728.4,591.2 729.9,591 731.4,590.7 732.9,590.4 734.3,590.2 735.8,589.9 737.3,589.7 738.8,589.4 740.3,589.2 741.7,588.9 743.2,588.6 744.7,588.4 746.2,588.1 747.6,587.8 749.1,587.5 750.6,587.3 752.1,587 753.5,586.7 755,586.4 756.5,586.1 757.9,585.8 759.4,585.5 760.9,585.2 762.3,584.9 763.8,584.6 765.3,584.2 766.7,583.9 768.2,583.6 769.7,583.3 771.1,582.9 772.6,582.6 774,582.3 775.5,581.9 777,581.6 778.4,581.3 779.9,580.9 781.4,580.6 782.8,580.2 784.3,579.9 785.7,579.5 787.2,579.2 788.7,578.8 790.1,578.5 791.6,578.1 793,577.6 794.5,577.2 795.9,576.9 797.4,576.5 798.8,576.2 800.3,576 801.8,575.7 803.3,575.5 804.8,575.3 806.3,575.1 807.7,575 809.2,575 810.7,575 812.3,575.1 813.8,575.2 815.2,575.3 816.7,575.4 818.2,575.5 819.8,575.8 821.3,576.1 822.7,576.4 824.2,576.8 825.6,577.3 826.9,577.7 828.2,578.4 829.5,579.2 830.7,580.2 831.8,581.2 833,582.2 834.2,583.1 835.4,584.1 836.6,585 837.8,585.9 839,586.8 840.1,587.8 841.3,588.7 842.3,589.8 843.4,590.8 844.4,591.9 845.4,593 846.4,594.1 847.3,595.3 848.2,596.5 849.2,597.7 850.1,598.9 851,600.1 851.9,601.3 852.8,602.5 853.8,603.7 854.7,604.8 855.7,606 856.7,607.1 857.6,608.3 858.6,609.4 859.6,610.5 860.6,611.7 861.6,612.8 862.6,613.9 863.5,615.1 864.5,616.3 865.4,617.4 866.3,618.6 867.1,619.9 867.9,621.1 868.7,622.4 869.5,623.7 870.2,625 871,626.3 871.7,627.6 872.5,628.9 873.4,630.6 874.2,632.2 875,633.8 875.8,635.1 876.6,635.9 877.3,635.9 877.9,635.1 878.5,633.6 879.1,631.9 879.6,630.1 880.2,628.6 880.7,627.2 881.3,625.8 881.8,624.4 882.3,623 882.8,621.5 883.3,620.1 883.8,618.7 884.2,617.3 884.7,615.8 885.1,614.4 885.5,612.9 885.9,611.5 886.3,610.1 886.8,608.6 887.3,607.2 887.8,605.7 888.3,604.2 888.9,602.7 889.5,601.4 890.3,600.3 891.3,599.3 892.7,598.4 894,598 895.3,598.5 896.5,599.6 897.6,600.7 898.9,601.7 900.2,602.8 901.4,603.7 902.6,604 903.6,603.1 904.6,601.7 905.4,600.4 906.1,599 906.7,597.7 907.3,596.3 907.9,594.9 908.4,593.5 909,592 909.5,590.5 910.1,589.1 910.7,587.8 911.4,586.5 912.3,585.4 913.5,584.4 914.8,583.6 916.1,583.1 917.6,582.8 919.1,582.7 920.6,582.7 922.1,582.6 923.6,582.6 925.1,582.6 926.5,582.6 928,582.6 929.5,582.5 931,582.5 932.5,582.5 934,582.5 935.5,582.5 937,582.5 938.5,582.5 940.1,582.5 941.6,582.5 943.1,582.5 944.6,582.5 946.1,582.5 947.6,582.5 949.1,582.4 950.6,582.4 952.1,582.4 953.6,582.4 955.1,582.4 956.6,582.4 958.1,582.4 959.6,582.4 961.1,582.4 962.6,582.4 964.1,582.4 965.6,582.4 967.1,582.4 968.6,582.4 970.1,582.3 971.6,582.3 973.1,582.3 974.6,582.3 976.1,582.3 977.6,582.3 979.1,582.3 980.6,582.3 982.1,582.3 983.6,582.3 985.1,582.3 986.6,582.3 988.1,582.3 989.6,582.3 991.1,582.3 992.6,582.2 994.1,582.2 995.6,582.2 997.1,582.2 998.6,582.2 1000.1,582.2 1001.7,582.2 1003.2,582.2 1004.8,582.2 1006.4,582.2 1008,582.2 1009.6,582.2 1011.2,582.1 1012.7,582.1 1014.3,582.1 1015.8,582.1 1017.2,582.1 1018.7,582.1 1020,582 1021.3,582 1022.5,581.9 1023.7,581.1 1024.7,579.8 1025.7,578.4 1026.5,577.2 1027.2,575.9 1028,574.5 1028.8,573 1029.6,571.7 1030.5,571.7 1031.3,573 1032.2,574.6 1033.2,575.9 1034.2,577.3 1035.3,578 1036.6,577.8 1038.1,577.3 1039.6,576.7 1041,576.1 1042.4,575.6 1043.7,575 1045.1,574.4 1046.5,573.8 1047.9,573.2 1049.2,572.5 1050.6,571.9 1051.9,571.3 1053.3,570.6 1054.6,569.9 1056,569.3 1057.3,568.6 1058.7,567.9 1060,567.2 1061.3,566.6 1062.7,565.9 1064,565.2 1065.3,564.5 1066.7,563.8 1068,563.1 1069.3,562.4 1070.7,561.7 1072,561 1073.3,560.3 1074.6,559.6 1075.9,558.9 1077.2,558.1 1078.5,557.4 1079.8,556.6 1081.1,555.8 1082.4,555.1 1083.6,554.3 1084.9,553.5 1086.2,552.6 1087.4,551.8 1088.7,551 1089.9,550.1 1091.2,549.3 1092.4,548.4 1093.6,547.5 1094.8,546.7 1096,545.8 1097.2,544.8 1098.4,543.9 1099.5,543 1100.7,542 1101.8,541 1102.9,540 1104,539 1105.1,538 1106.2,536.9 1107.3,535.9 1108.4,534.9 1109.5,533.8 1110.6,532.8 1111.7,531.8 1112.8,530.7 1113.9,529.7 1115,528.7 1116.1,527.7 1117.2,526.7 1118.3,525.7 1119.4,524.7 1120.5,523.7 1121.6,522.7 1122.7,521.6 1123.9,520.6 1125,519.6 1126.1,518.6 1127.2,517.6 1128.3,516.6 1129.4,515.5 1130.5,514.5 1131.5,513.5 1132.6,512.5 1133.7,511.4 1134.8,510.4 1135.9,509.4 1137,508.3 1138.1,507.3 1139.2,506.3 1140.3,505.2 1141.3,504.2 1142.4,503.1 1143.5,502.1 1144.5,501 1145.6,500 1146.7,498.9 1147.7,497.8 1148.7,496.7 1149.8,495.7 1150.8,494.6 1151.8,493.5 1152.8,492.4 1153.9,491.3 1154.9,490.2 1155.9,489 1156.9,487.9 1157.9,486.8 1158.9,485.7 1159.9,484.6 1160.9,483.4 1161.8,482.3 1162.8,481.2 1163.8,480 1164.8,478.9 1165.8,477.8 1166.8,476.7 1167.8,475.5 1168.7,474.4 1169.7,473.3 1170.7,472.1 1171.7,471 1172.7,469.9 1173.7,468.7 1174.6,467.6 1175.6,466.4 1176.6,465.3 1177.5,464.1 1178.5,463 1179.4,461.8 1180.4,460.6 1181.3,459.5 1182.2,458.3 1183.2,457.1 1184.1,455.9 1185,454.7 1185.9,453.5 1186.8,452.3 1187.7,451.1 1188.6,449.9 1189.5,448.7 1190.4,447.5 1191.2,446.3 1192.1,445 1192.9,443.8 1193.8,442.5 1194.6,441.3 1195.4,440 1196.2,438.7 1196.9,437.5 1197.7,436.2 1198.4,434.9 1199.1,433.6 1199.8,432.3 1200.6,430.9 1201.2,429.6 1201.9,428.3 1202.6,426.9 1203.3,425.6 1204,424.2 1204.7,422.9 1205.3,421.6 1206,420.2 1206.7,418.9 1207.4,417.5 1208.1,416.2 1208.8,414.9 1209.5,413.6 1210.2,412.2 1210.9,410.9 1211.6,409.6 1212.3,408.2 1212.9,406.9 1213.6,405.6 1214.3,404.2 1215,402.9 1215.7,401.6 1216.4,400.2 1217.1,398.9 1217.8,397.6 1218.6,396.3 1219.3,395 1220,393.7 1220.8,392.4 1221.5,391.1 1222.3,389.8 1223,388.5 1223.8,387.2 1224.5,385.9 1225.3,384.6 1226.1,383.3 1226.9,382 1227.7,380.8 1228.5,379.5 1229.3,378.2 1230.1,377 1230.9,375.7 1231.7,374.5 1232.6,373.3 1233.5,372 1234.4,370.8 1235.3,369.6 1236.2,368.4 1237.1,367.2 1237.9,366 1238.7,364.7 1239.5,363.4 1240.2,362.1 1240.9,360.8 1241.7,359.5 1242.4,358.2 1243.1,356.8 1243.8,355.5 1244.4,354.2 1245.1,352.8 1245.8,351.5 1246.5,350.1 1247.1,348.8 1247.7,347.4 1248.2,346 1248.7,344.6 1249.1,343.1 1249.5,341.7 1249.9,340.2 1250.3,338.8 1250.7,337.3 1251,335.9 1251.3,334.4 1251.6,332.9 1251.9,331.5 1252.2,330 1252.5,328.5 1252.7,327 1252.9,325.5 1253.1,324 1253.3,322.6 1253.5,321.1 1253.6,319.6 1253.8,318.1 1253.9,316.6 1254,315.1 1254.2,313.6 1254.3,312.1 1254.4,310.6 1254.6,309.1 1254.7,307.6 1254.9,306.1 1255,304.6 1255.2,303.1 1255.3,301.7 1255.5,300.2 1255.6,298.7 1255.8,297.2 1255.9,295.7 1256.1,294.2 1256.2,292.7 1256.4,291.2 1256.5,289.7 1256.7,288.2 1256.8,286.7 1257,285.2 1257.1,283.7 1257.2,282.2 1257.4,280.8 1257.5,279.3 1257.7,277.8 1257.8,276.3 1257.9,274.8 1258.1,273.3 1258.2,271.8 1258.4,270.3 1258.5,268.8 1258.7,267.3 1258.8,265.8 1259,264.3 1259.1,262.8 1259.3,261.3 1259.5,259.9 1259.6,258.4 1259.8,256.9 1259.9,255.4 1260.1,253.9 1260.2,252.4 1260.4,250.9 1260.6,249.4 1260.7,247.9 1260.8,246.4 1261,244.9 1261.1,243.4 1261.2,241.9 1261.3,240.4 1261.5,238.9 1261.6,237.4 1261.8,235.9 1261.9,234.4 1262.1,233 1262.3,231.5 1262.5,230 1262.8,228.5 1263.1,227.1 1263.5,225.6 1263.9,224.2 1264.4,222.7 1264.9,221.3 1265.4,219.9 1266,218.5 1266.7,217.1 1267.4,215.8 1268.3,214.7 1269.7,213.7 1271,212.7 1271.3,211.6 1271.3,210.4 1271.3,209 1271.3,207.5 1271.3,205.9 1271.3,204.2 1271.3,203" stroke="#bf00bf" stroke-width="4.17" stroke-dasharray="4.17 6.94 1.39 6.94" />
<polyline points="249,164.7 250.5,164.7 252,164.7 253.5,164.7 255,164.7 256.5,164.7 258,164.7 259.5,164.7 261,164.7 262.5,164.7 264,164.7 265.5,164.7 267,164.7 268.5,164.7 270,164.7 271.5,164.7 273,164.7 274.5,164.7 276,164.7 277.5,164.7 279,164.7 280.5,164.7 282,164.7 283.5,164.7 285,164.7 286.5,164.7 288,164.7 289.5,164.7 291,164.7 292.5,164.7 294,164.7 295.5,164.7 297,164.7 298.5,164.7 300,164.7 301.5,164.7 303,164.7 304.5,164.7 306,164.7 307.5,164.7 309,164.7 310.5,164.7 312,164.7 313.5,164.7 315,164.7 316.5,164.7 318,164.7 319.5,164.7 321,164.7 322.5,164.7 324,164.7 325.5,164.7 327,164.7 328.5,164.7 330,164.7 331.5,164.7 333,164.7 334.5,164.7 336,164.7 337.5,164.7 339,164.7 340.5,164.7 342,164.7 343.5,164.7 345,164.7 346.5,164.7 348,164.7 349.5,164.7 351,164.7 352.5,164.7 354,164.7 355.5,164.7 357,164.7 358.5,164.7 360,164.7 361.5,164.7 363,164.7 364.5,164.7 366,164.7 367.5,164.7 369,164.7 370.5,164.7 372,164.7 373.5,164.7 375,164.7 376.5,164.7 378,164.7 379.5,164.7 381,164.7 382.5,164.7 384,164.7 385.5,164.7 387,164.7 388.5,164.7 390,164.7 391.5,164.7 393,164.7 394.5,164.7 396,164.7 397.5,164.7 399,164.7 400.5,164.7 402,164.7 403.5,164.7 405,164.7 406.5,164.7 408,164.7 409.5,164.7 411,164.7 412.5,164.7 414,164.7 415.5,164.7 417,164.7 418.5,164.7 420,164.7 421.5,164.7 423,164.7 424.5,164.7 426,164.7 427.5,164.7 429,164.7 430.5,164.7 432,164.7 433.5,164.7 435,164.7 436.5,164.7 438,164.7 439.5,164.7 441,164.7 442.5,164.7 444,164.7 445.5,164.7 447,164.7 448.5,164.7 450,164.7 451.5,164.7 453,164.7 454.5,164.7 456,164.7 457.5,164.7 459,164.7 460.5,164.7 462,164.7 463.5,164.7 465,164.7 466.5,164.7 468,164.7 469.5,164.7 471,164.7 472.5,164.7 474,164.7 475.5,164.7 477,164.7 478.5,164.7 480,164.7 481.5,164.7 483,164.7 484.5,164.7 486,164.7 487.5,164.7 489,164.7 490.5,164.7 492,164.7 493.5,164.8 495,164.8 496.5,164.9 498,165 499.5,165.1 501.1,165.4 502.5,165.7 503.9,166.1 505.2,166.6 506.5,167.5 507.7,168.5 508.7,169.7 509.6,170.8 510.4,172 511.1,173.4 511.8,174.8 512.3,176.2 512.9,177.6 513.3,179 513.8,180.4 514.2,181.9 514.6,183.3 515,184.8 515.4,186.3 515.7,187.7 516,189.2 516.3,190.7 516.5,192.2 516.8,193.7 516.9,195.1 517.1,196.6 517.3,198.1 517.4,199.6 517.6,201.1 517.7,202.6 517.8,204.1 517.9,205.6 518,207.1 518.1,208.6 518.3,210.1 518.4,211.6 518.5,213.1 518.6,214.6 518.7,216.1 518.8,217.6 518.9,219.1 519,220.6 519.1,222.1 519.2,223.6 519.3,225.1 519.4,226.5 519.5,228 519.6,229.5 519.7,231 519.8,232.5 519.9,234 520,235.5 520.1,237 520.2,238.5 520.3,240 520.4,241.5 520.5,243 520.5,244.5 520.6,246 520.7,247.5 520.8,249 520.9,250.5 521,252 521.1,253.5 521.1,255 521.2,256.5 521.3,258 521.4,259.5 521.5,261 521.5,262.5 521.6,264 521.7,265.5 521.8,267 521.9,268.5 521.9,270 522,271.5 522.1,273 522.2,274.5 522.3,276 522.3,277.5 522.4,279 522.5,280.5 522.6,282 522.7,283.5 522.8,284.9 522.9,286.4 523,287.9 523.1,289.4 523.2,290.9 523.3,292.4 523.4,293.9 523.5,295.4 523.6,296.9 523.7,298.4 523.9,299.9 524,301.4 524.1,302.9 524.2,304.4 524.3,305.9 524.5,307.4 524.6,308.9 524.7,310.4 524.8,311.9 525,313.4 525.1,314.9 525.3,316.4 525.4,317.8 525.5,319.3 525.7,320.8 525.9,322.3 526,323.8 526.2,325.3 526.3,326.8 526.5,328.3 526.7,329.8 526.9,331.3 527,332.8 527.2,334.3 527.4,335.7 527.6,337.2 527.8,338.7 528,340.2 528.2,341.7 528.5,343.2 528.7,344.7 528.9,346.2 529.1,347.7 529.4,349.2 529.6,350.7 529.9,352.1 530.2,353.6 530.5,355.1 530.8,356.5 531.1,358 531.5,359.4 531.9,360.8 532.4,362.2 533,363.6 533.7,365 534.4,366.4 535.1,367.7 535.9,368.9 536.8,370 537.9,371.1 539,372.1 540.1,373.2 541.2,374.2 542.1,375.4 543.1,376.6 544,377.8 544.8,379.1 545.6,380.3 546.4,381.6 547.1,382.9 547.8,384.3 548.5,385.6 549.1,387 549.7,388.4 550.1,389.8 550.5,391.2 550.8,392.7 551.1,394.1 551.4,395.6 551.6,397.1 551.9,398.6 552.2,400.1 552.4,401.6 552.7,403 553,404.5 553.3,406 553.5,407.5 553.8,408.9 554.1,410.4 554.3,411.9 554.6,413.4 554.9,414.8 555.2,416.3 555.5,417.8 555.8,419.2 556.2,420.7 556.5,422.1 556.9,423.6 557.3,425 557.8,426.5 558.2,427.9 558.6,429.3 559.1,430.8 559.5,432.2 560,433.6 560.4,435.1 560.9,436.5 561.3,438 561.7,439.4 562.1,440.8 562.5,442.3 562.9,443.7 563.4,445.2 563.8,446.6 564.2,448 564.6,449.5 565.1,450.9 565.5,452.4 565.9,453.8 566.4,455.2 566.8,456.7 567.3,458.1 567.7,459.5 568.2,461 568.6,462.4 569.1,463.8 569.6,465.2 570.1,466.6 570.6,468 571.2,469.4 571.7,470.8 572.3,472.2 572.9,473.6 573.6,474.9 574.2,476.3 574.8,477.6 575.5,479 576.2,480.3 576.8,481.7 577.5,483 578.2,484.4 578.9,485.7 579.6,487 580.3,488.3 581,489.7 581.8,491 582.5,492.3 583.2,493.6 583.9,494.9 584.7,496.2 585.4,497.5 586,498.9 586.7,500.2 587.3,501.6 588,503 588.6,504.3 589.2,505.7 589.8,507.1 590.4,508.4 591.1,509.8 591.7,511.1 592.4,512.5 593.1,513.8 593.8,515.1 594.6,516.5 595.3,517.8 596.1,519.1 596.9,520.4 597.7,521.7 598.6,522.9 599.5,524 600.5,525 601.6,526 602.8,527 604,527.9 605.2,528.7 606.5,529.6 607.8,530.3 609.1,531.1 610.5,531.8 611.8,532.4 613.2,533 614.6,533.6 616,534.2 617.4,534.8 618.8,535.3 620.2,535.8 621.6,536.4 623,536.9 624.4,537.4 625.8,537.9 627.2,538.4 628.7,538.8 630.1,539.3 631.6,539.6 633,540 634.5,540.3 635.9,540.6 637.4,540.9 638.9,541.2 640.3,541.5 641.8,541.7 643.3,542 644.8,542.2 646.3,542.5 647.8,542.7 649.2,542.9 650.7,543.1 652.2,543.3 653.7,543.6 655.2,543.8 656.7,544 658.2,544.3 659.7,544.5 661.2,544.6 662.6,544.7 664.1,544.8 665.6,544.8 667.1,544.8 668.6,544.8 670.1,544.8 671.6,544.7 673.1,544.7 674.6,544.7 676.1,544.6 677.6,544.6 679.1,544.5 680.6,544.5 682.1,544.4 683.6,544.3 685.1,544.2 686.6,544 688.1,543.9 689.6,543.7 691.1,543.5 692.6,543.3 694.1,543.1 695.6,542.9 697,542.7 698.5,542.5 700,542.2 701.5,542 702.9,541.7 704.4,541.4 705.9,541.1 707.3,540.8 708.8,540.5 710.3,540.1 711.7,539.8 713.2,539.5 714.7,539.2 716.1,538.8 717.6,538.5 719.1,538.2 720.5,537.9 722,537.6 723.5,537.3 725,537 726.4,536.7 727.9,536.4 729.4,536.1 730.8,535.8 732.3,535.5 733.8,535.2 735.2,534.9 736.7,534.6 738.2,534.3 739.6,534 741.1,533.7 742.6,533.4 744.1,533 745.5,532.7 747,532.4 748.5,532.1 749.9,531.8 751.4,531.5 752.9,531.2 754.3,530.9 755.8,530.6 757.3,530.3 758.7,530 760.2,529.7 761.7,529.4 763.1,529.1 764.6,528.8 766.1,528.4 767.6,528.1 769,527.8 770.5,527.5 772,527.2 773.4,526.9 774.9,526.6 776.4,526.3 777.8,526 779.3,525.7 780.8,525.4 782.2,525.1 783.7,524.8 785.2,524.5 786.7,524.2 788.1,524 789.6,523.7 791.1,523.4 792.6,523.1 794,522.8 795.5,522.6 797,522.3 798.5,522 799.9,521.8 801.4,521.5 802.9,521.3 804.4,521.2 805.9,521 807.4,520.9 808.9,520.8 810.4,520.6 811.9,520.6 813.4,520.5 814.9,520.5 816.4,520.6 817.9,520.7 819.4,520.9 820.8,521.1 822.3,521.5 823.7,522 825.1,522.6 826.5,523.2 827.7,524 829,524.8 830.2,525.7 831.4,526.7 832.5,527.6 833.7,528.6 834.9,529.5 836,530.5 837.1,531.5 838.2,532.5 839.3,533.5 840.5,534.5 841.6,535.5 842.7,536.5 843.9,537.5 845,538.5 846.1,539.5 847.3,540.4 848.5,541.3 849.7,542.3 850.9,543.2 852.1,544.2 853.3,545.3 854.6,546.2 855.9,546.8 857.2,547 858.7,546.8 860.3,546.5 861.7,546.1 862.9,545.5 864,544.6 865,543.5 866,542.2 867,540.9 867.9,539.7 868.9,538.5 869.8,537.3 870.7,536.1 871.6,534.9 872.5,533.7 873.4,532.5 874.4,531.4 875.4,530.2 876.3,529.1 877.3,527.9 878.1,526.7 878.8,525.4 879.4,524.1 880,522.7 880.5,521.3 881,519.8 881.5,518.4 882,517 882.5,515.5 883,514.1 883.5,512.7 883.9,511.3 884.4,509.8 884.8,508.4 885.2,507 885.6,505.5 885.9,504 886.2,502.6 886.6,501.1 886.9,499.6 887.2,498.1 887.5,496.7 887.9,495.2 888.3,493.8 888.8,492.4 889.3,491 889.9,489.6 890.6,488.2 891.3,486.9 892.2,485.8 893.3,484.6 894.5,483.5 895.9,483 897.3,483.1 898.9,483.3 900.3,483.6 901.5,484.2 902.7,485.2 903.8,486.4 904.8,487.5 905.9,488.8 906.8,490.2 907.9,491 909.3,490.8 910.7,490.2 911.7,489.3 912.5,487.9 913.2,486.4 914.2,485.4 915.4,484.5 916.8,483.8 918.3,483.4 919.7,483.4 921.1,483.4 922.5,483.3 924,483.3 925.5,483.3 926.9,483.3 928.4,483.3 929.9,483.3 931.4,483.3 932.9,483.3 934.4,483.3 935.9,483.2 937.4,483.2 938.9,483.2 940.5,483.2 942,483.2 943.5,483.2 945.1,483.2 946.6,483.2 948.1,483.2 949.7,483.2 951.2,483.2 952.7,483.2 954.2,483.2 955.7,483.2 957.3,483.2 958.8,483.2 960.3,483.2 961.8,483.2 963.3,483.2 964.8,483.2 966.3,483.2 967.8,483.2 969.3,483.2 970.8,483.2 972.3,483.2 973.8,483.2 975.3,483.2 976.8,483.2 978.3,483.2 979.8,483.2 981.3,483.2 982.8,483.2 984.3,483.2 985.8,483.2 987.3,483.2 988.8,483.2 990.3,483.2 991.8,483.2 993.3,483.2 994.8,483.2 996.3,483.2 997.8,483.2 999.3,483.2 1000.8,483.2 1002.3,483.2 1003.8,483.2 1005.3,483.2 1006.9,483.2 1008.4,483.2 1010,483.2 1011.5,483.2 1013,483.2 1014.5,483.2 1016.1,483.2 1017.5,483.2 1019,483.2 1020.5,483.2 1021.9,483.2 1023.3,483.2 1024.7,483.1 1026.2,482.5 1027.4,481.5 1028.4,480.4 1029.3,478.7 1029.9,477.5 1030.3,477.9 1030.7,479.2 1031,481 1031.3,482.9 1031.6,484.5 1031.8,486 1032,487.6 1032.2,489.1 1032.4,490.6 1032.7,492 1033.1,493.3 1033.9,494.8 1035,496.1 1036.2,497.1 1037.4,497.3 1038.8,497.3 1040.3,497.3 1041.9,497.3 1043.5,497.3 1045,497.3 1046.5,497.3 1048,497.1 1049.5,496.9 1050.9,496.6 1052.4,496.3 1053.9,496 1055.4,495.6 1056.8,495.3 1058.3,494.9 1059.8,494.6 1061.2,494.3 1062.7,494 1064.2,493.7 1065.7,493.4 1067.1,493 1068.6,492.7 1070.1,492.3 1071.5,492 1073,491.6 1074.4,491.2 1075.9,490.8 1077.3,490.4 1078.7,489.9 1080.1,489.5 1081.5,489 1082.9,488.4 1084.3,487.9 1085.7,487.3 1087,486.7 1088.4,486 1089.8,485.3 1091.1,484.7 1092.5,484 1093.8,483.3 1095.1,482.6 1096.5,481.9 1097.8,481.2 1099.1,480.5 1100.4,479.8 1101.7,479 1103,478.3 1104.3,477.5 1105.6,476.7 1106.9,475.9 1108.2,475.2 1109.4,474.4 1110.7,473.5 1112,472.7 1113.2,471.9 1114.5,471.1 1115.7,470.3 1117,469.4 1118.2,468.6 1119.5,467.8 1120.7,466.9 1121.9,466 1123.2,465.2 1124.4,464.3 1125.6,463.4 1126.8,462.5 1128,461.6 1129.2,460.7 1130.4,459.8 1131.6,458.9 1132.7,457.9 1133.9,457 1135,456 1136.1,455 1137.2,454 1138.3,453 1139.4,451.9 1140.4,450.9 1141.5,449.8 1142.5,448.7 1143.5,447.6 1144.6,446.5 1145.6,445.4 1146.6,444.3 1147.6,443.2 1148.6,442.1 1149.7,441 1150.7,439.9 1151.7,438.8 1152.8,437.7 1153.8,436.6 1154.9,435.6 1155.9,434.5 1157,433.4 1158.1,432.4 1159.1,431.3 1160.2,430.2 1161.3,429.2 1162.3,428.1 1163.4,427 1164.4,425.9 1165.5,424.9 1166.5,423.8 1167.5,422.7 1168.5,421.6 1169.5,420.5 1170.5,419.3 1171.5,418.2 1172.4,417.1 1173.4,415.9 1174.3,414.8 1175.2,413.6 1176.2,412.4 1177.1,411.2 1178,410 1178.9,408.8 1179.7,407.6 1180.6,406.4 1181.5,405.1 1182.4,403.9 1183.2,402.7 1184.1,401.4 1184.9,400.2 1185.8,399 1186.6,397.7 1187.4,396.5 1188.3,395.2 1189.1,393.9 1189.9,392.7 1190.8,391.4 1191.6,390.2 1192.4,388.9 1193.2,387.7 1194,386.4 1194.8,385.2 1195.7,383.9 1196.5,382.6 1197.3,381.4 1198.1,380.1 1198.8,378.8 1199.6,377.5 1200.4,376.3 1201.2,375 1202,373.7 1202.8,372.4 1203.5,371.1 1204.3,369.8 1205.1,368.5 1205.8,367.2 1206.6,365.9 1207.3,364.6 1208.1,363.3 1208.8,362 1209.6,360.7 1210.3,359.4 1211.1,358.1 1211.8,356.8 1212.5,355.5 1213.2,354.2 1213.9,352.9 1214.6,351.6 1215.3,350.2 1216,348.9 1216.7,347.6 1217.4,346.2 1218.1,344.9 1218.8,343.6 1219.5,342.3 1220.2,340.9 1220.9,339.6 1221.7,338.3 1222.4,337 1223.1,335.7 1223.8,334.3 1224.5,333 1225.2,331.6 1225.9,330.2 1226.6,328.8 1227.2,327.4 1227.9,326 1228.6,324.7 1229.4,323.4 1230.2,322.2 1231.1,321 1232,320 1233.1,319 1234.3,317.9 1235.7,317.1 1237,316.8 1238.5,317 1240,317.5 1241.1,318.2 1242.2,319.3 1243.2,320.6 1244.2,321.7 1245.2,322.9 1246.1,324.1 1247.1,325.2 1248.2,326.2 1249.7,327.2 1250.7,327.4 1251.2,326.4 1251.7,324.6 1252,322.9 1252.4,321.4 1252.7,320 1253,318.5 1253.3,317 1253.5,315.5 1253.8,314 1254.1,312.6 1254.4,311.1 1254.6,309.6 1254.9,308.1 1255.2,306.7 1255.4,305.2 1255.7,303.7 1256,302.2 1256.3,300.8 1256.5,299.3 1256.8,297.8 1257.1,296.4 1257.4,294.9 1257.7,293.4 1258,291.9 1258.3,290.5 1258.6,289 1259,287.5 1259.3,286.1 1259.7,284.6 1260.1,283.2 1260.6,281.8 1261.1,280.3 1261.6,278.9 1262.2,277.5 1262.9,276.2 1263.6,274.9 1264.5,273.7 1265.5,272.5 1266.5,271.5 1267.6,270.5 1268.8,269.6 1270.1,268.7 1271.3,268" stroke="#008000" stroke-width="4.17" stroke-dasharray="8.33 8.33" />
<polyline points="244.5,235.2 246,235.2 247.5,235.2 249,235.2 250.5,235.2 252,235.2 253.5,235.2 255,235.2 256.5,235.2 258,235.2 259.5,235.2 261,235.2 262.5,235.2 264,235.2 265.5,235.2 267,235.2 268.5,235.2 270,235.2 271.5,235.2 273,235.2 274.5,235.2 276,235.2 277.5,235.2 279,235.2 280.5,235.2 282,235.2 283.5,235.2 285,235.2 286.5,235.2 288,235.2 289.5,235.2 291,235.2 292.5,235.2 294,235.2 295.5,235.2 297,235.2 298.5,235.2 300,235.2 301.5,235.2 303,235.2 304.5,235.2 306,235.2 307.5,235.2 309,235.2 310.5,235.2 312,235.2 313.5,235.2 315,235.2 316.5,235.2 318,235.2 319.5,235.2 321,235.2 322.5,235.2 324,235.2 325.5,235.2 327,235.2 328.5,235.2 330,235.2 331.5,235.2 333,235.2 334.5,235.2 336,235.2 337.5,235.2 339,235.2 340.5,235.2 342,235.2 343.5,235.2 345,235.2 346.5,235.2 348,235.2 349.5,235.2 351,235.2 352.5,235.2 354,235.2 355.5,235.2 357,235.2 358.5,235.2 360,235.2 361.5,235.2 363,235.2 364.5,235.2 366,235.2 367.5,235.2 369,235.2 370.5,235.2 372,235.2 373.5,235.2 375,235.2 376.5,235.2 378,235.2 379.5,235.2 381,235.2 382.5,235.2 384,235.2 385.5,235.2 387,235.2 388.5,235.2 390,235.2 391.5,235.2 393,235.2 394.5,235.2 396,235.2 397.5,235.2 399,235.2 400.5,235.2 402,235.2 403.5,235.2 405,235.2 406.5,235.2 408,235.2 409.5,235.2 411,235.2 412.5,235.2 414,235.2 415.5,235.2 417,235.2 418.5,235.2 420,235.2 421.5,235.2 423,235.2 424.5,235.2 426,235.2 427.5,235.2 429.1,235.2 430.6,235.2 432.1,235.2 433.6,235.2 435.1,235.2 436.6,235.2 438.1,235.2 439.6,235.2 441.1,235.2 442.6,235.2 444.1,235.2 445.6,235.2 447.1,235.2 448.6,235.2 450.1,235.2 451.6,235.2 453.1,235.2 454.6,235.2 456.1,235.2 457.6,235.2 459.1,235.2 460.6,235.2 462.1,235.2 463.6,235.2 465.1,235.2 466.6,235.2 468.1,235.2 469.6,235.2 471.1,235.2 472.6,235.2 474.1,235.2 475.6,235.2 477.1,235.2 478.6,235.2 480.1,235.2 481.6,235.2 483.1,235.2 484.6,235.2 486.1,235.2 487.6,235.2 489,235.2 490.5,235.2 492,235.2 493.5,235.2 495,235.2 496.5,235.3 498,235.4 499.5,235.7 501,236 502.4,236.4 503.8,236.8 505.2,237.4 506.5,238.2 507.7,239.1 508.9,240.1 510.1,241 511.1,242 512.1,243.1 513.1,244.2 514.1,245.4 515,246.6 515.9,247.8 516.8,249.1 517.7,250.3 518.5,251.6 519.3,252.8 520.1,254.1 520.9,255.4 521.6,256.7 522.3,258 523,259.3 523.7,260.7 524.4,262 525.1,263.3 525.9,264.7 526.6,266 527.3,267.3 528.1,268.6 528.9,269.8 529.7,271.1 530.5,272.4 531.3,273.6 532.2,274.9 533,276.1 533.8,277.4 534.7,278.6 535.5,279.8 536.4,281.1 537.2,282.3 538,283.6 538.9,284.8 539.7,286.1 540.6,287.3 541.4,288.5 542.3,289.8 543.1,291 543.9,292.3 544.7,293.5 545.5,294.8 546.2,296.1 547,297.4 547.7,298.8 548.3,300.1 548.9,301.5 549.4,302.9 549.9,304.3 550.4,305.7 550.8,307.2 551.2,308.7 551.5,310.1 551.8,311.6 552.1,313 552.4,314.5 552.6,316 552.9,317.5 553.1,319 553.4,320.4 553.6,321.9 553.9,323.4 554.1,324.9 554.4,326.4 554.6,327.8 554.9,329.3 555.1,330.8 555.4,332.3 555.6,333.8 555.8,335.2 556,336.7 556.2,338.2 556.4,339.7 556.6,341.2 556.8,342.7 556.9,344.2 557.1,345.7 557.2,347.2 557.4,348.7 557.5,350.1 557.7,351.6 557.8,353.1 557.9,354.6 558.1,356.1 558.2,357.6 558.4,359.1 558.5,360.6 558.6,362.1 558.8,363.6 558.9,365.1 559.1,366.6 559.2,368.1 559.3,369.6 559.5,371.1 559.6,372.6 559.7,374 559.8,375.5 559.9,377 560,378.5 560.1,380 560.2,381.5 560.3,383 560.4,384.5 560.5,386 560.6,387.5 560.7,389 560.8,390.5 560.8,392 560.9,393.5 561,395 561.1,396.5 561.2,398 561.3,399.5 561.4,401 561.5,402.5 561.6,404 561.7,405.5 561.8,407 561.9,408.5 562,410 562.1,411.5 562.2,413 562.3,414.5 562.4,416 562.5,417.5 562.6,419 562.7,420.4 562.8,421.9 562.9,423.4 563,424.9 563.1,426.4 563.2,427.9 563.3,429.4 563.4,430.9 563.5,432.4 563.6,433.9 563.7,435.4 563.8,436.9 563.9,438.4 564,439.9 564.1,441.4 564.2,442.9 564.3,444.4 564.4,445.9 564.5,447.4 564.6,448.9 564.7,450.4 564.8,451.9 564.9,453.4 565,454.9 565,456.4 565.1,457.9 565.2,459.4 565.3,460.9 565.4,462.4 565.5,463.9 565.6,465.4 565.7,466.9 565.8,468.4 565.9,469.8 566,471.3 566.1,472.8 566.1,474.3 566.2,475.8 566.3,477.3 566.4,478.8 566.5,480.3 566.6,481.8 566.7,483.3 566.8,484.8 566.9,486.3 567,487.8 567.1,489.3 567.2,490.8 567.3,492.3 567.4,493.8 567.5,495.3 567.6,496.8 567.7,498.3 567.8,499.8 567.9,501.3 568,502.8 568.1,504.3 568.3,505.8 568.4,507.3 568.5,508.8 568.6,510.3 568.7,511.8 568.8,513.2 569,514.7 569.1,516.2 569.2,517.7 569.3,519.2 569.4,520.7 569.5,522.2 569.7,523.7 569.8,525.2 569.9,526.7 570,528.2 570.1,529.7 570.3,531.2 570.4,532.7 570.5,534.2 570.6,535.7 570.7,537.2 570.8,538.7 570.9,540.2 571,541.7 571.2,543.2 571.3,544.7 571.4,546.2 571.5,547.6 571.6,549.1 571.8,550.6 571.9,552.1 572.1,553.6 572.2,555.1 572.4,556.6 572.6,558.1 572.8,559.6 573,561 573.3,562.5 573.5,564 573.7,565.5 574,567 574.2,568.5 574.4,570 574.6,571.4 574.8,572.9 575,574.4 575.1,575.9 575.3,577.4 575.5,578.9 575.6,580.4 575.8,581.9 575.9,583.4 576.1,584.9 576.2,586.4 576.4,587.8 576.6,589.3 576.8,590.8 577,592.3 577.2,593.8 577.4,595.3 577.6,596.8 577.8,598.3 578,599.8 578.3,601.2 578.5,602.7 578.8,604.2 579.1,605.7 579.4,607.1 579.7,608.6 580,610 580.4,611.5 580.8,613 581.3,614.4 581.9,615.8 582.6,617.1 583.5,618.3 584.5,619.5 585.5,620.5 586.8,621.4 588.2,622.1 589.6,622.4 591.1,622.5 592.6,622.5 594.1,622.4 595.5,622.1 597,621.6 598.4,621.1 599.8,620.6 601.2,620.1 602.6,619.5 604,619 605.4,618.4 606.8,617.8 608.2,617.2 609.6,616.6 611,616.1 612.3,615.5 613.7,614.9 615.1,614.3 616.5,613.7 617.9,613.2 619.3,612.7 620.7,612.3 622.2,611.8 623.6,611.4 625.1,611 626.6,610.6 628.1,610.4 629.5,610.4 631,610.5 632.5,610.7 634,611 635.5,611.4 636.9,611.7 638.4,612 639.8,612.4 641.3,612.9 642.7,613.4 644.1,613.9 645.5,614.3 647,614.8 648.4,615.2 649.8,615.6 651.3,616.1 652.7,616.5 654.2,616.9 655.6,617.3 657.1,617.7 658.5,618.1 660,618.4 661.4,618.8 662.9,619.2 664.3,619.6 665.8,619.9 667.2,620.3 668.7,620.7 670.1,621 671.6,621.4 673.1,621.8 674.5,622.1 676,622.5 677.4,622.8 678.9,623.1 680.4,623.5 681.8,623.8 683.3,624.1 684.7,624.4 686.2,624.8 687.7,625.1 689.1,625.4 690.6,625.7 692.1,626 693.6,626.3 695,626.6 696.5,626.9 698,627.2 699.4,627.5 700.9,627.8 702.4,628.1 703.9,628.3 705.3,628.6 706.8,628.9 708.3,629.1 709.8,629.4 711.3,629.7 712.7,629.9 714.2,630.2 715.7,630.4 717.2,630.6 718.7,630.8 720.1,631.1 721.6,631.3 723.1,631.5 724.6,631.7 726.1,631.9 727.6,632.1 729,632.3 730.5,632.5 732,632.7 733.5,632.9 735,633 736.5,633.2 738,633.4 739.5,633.6 741,633.7 742.5,633.9 744,634.1 745.4,634.2 746.9,634.4 748.4,634.5 749.9,634.6 751.4,634.8 752.9,634.9 754.4,635 755.9,635.2 757.4,635.3 758.9,635.4 760.4,635.5 761.9,635.7 763.4,635.8 764.9,635.9 766.4,636.1 767.9,636.2 769.4,636.3 770.9,636.4 772.4,636.5 773.9,636.6 775.3,636.7 776.8,636.8 778.3,636.9 779.8,637 781.3,637 782.8,637.1 784.3,637.1 785.8,637.2 787.3,637.2 788.8,637.2 790.3,637.2 791.8,637.2 793.3,637.2 794.8,637.2 796.3,637.3 797.8,637.3 799.3,637.3 800.8,637.3 802.3,637.3 803.8,637.3 805.3,637.3 806.8,637.3 808.3,637.3 809.8,637.3 811.3,637.3 812.8,637.2 814.3,637.1 815.8,637 817.3,636.9 818.8,636.7 820.3,636.5 821.8,636.4 823.3,636.2 824.8,636 826.3,635.8 827.8,635.6 829.3,635.3 830.7,635 832.1,634.5 833.4,633.8 834.7,633 836,632.1 837.2,631.2 838.4,630.2 839.4,629.2 840.4,628.1 841.3,626.9 842.2,625.7 843.1,624.4 843.9,623.2 844.7,621.9 845.5,620.6 846.2,619.3 846.9,618 847.6,616.7 848.3,615.3 849,614 849.7,612.6 850.4,611.3 851,610 851.7,608.6 852.3,607.3 853,605.9 853.6,604.5 854.2,603.2 854.8,601.8 855.4,600.4 856,599 856.6,597.7 857.2,596.3 857.7,594.9 858.3,593.5 858.8,592.1 859.4,590.7 859.9,589.3 860.4,587.9 860.9,586.5 861.4,585.1 861.9,583.6 862.4,582.2 863,580.8 863.5,579.4 864,578 864.5,576.6 865.1,575.2 865.6,573.8 866.2,572.4 866.7,571 867.2,569.6 867.8,568.2 868.3,566.8 868.9,565.4 869.4,564 869.9,562.6 870.4,561.2 870.9,559.8 871.5,558.4 872,557 872.5,555.6 873,554.1 873.5,552.7 874,551.3 874.5,549.9 875,548.5 875.4,547 875.9,545.6 876.3,544.2 876.8,542.8 877.2,541.3 877.6,539.9 878,538.4 878.4,537 878.8,535.5 879.2,534.1 879.6,532.6 880,531.2 880.3,529.7 880.7,528.3 881,526.8 881.3,525.3 881.6,523.9 881.9,522.4 882.2,520.9 882.5,519.5 882.8,518 883,516.5 883.3,515 883.5,513.5 883.8,512.1 884,510.6 884.3,509.1 884.5,507.6 884.8,506.1 885.1,504.7 885.4,503.2 885.6,501.7 885.9,500.3 886.2,498.8 886.5,497.3 886.8,495.9 887.2,494.4 887.5,492.9 887.8,491.5 888.1,490 888.5,488.5 888.8,487.1 889.2,485.6 889.6,484.2 889.9,482.7 890.3,481.2 890.7,479.8 891.1,478.3 891.6,476.9 892.1,475.5 892.6,474.1 893.2,472.7 893.9,471.3 894.6,470 895.6,468.8 896.8,467.8 897.9,468.3 898.9,469.7 899.5,471 900,472.4 900.5,473.9 900.9,475.4 901.3,476.8 901.7,478.3 902,479.7 902.4,481.2 902.7,482.7 903.1,484.1 903.5,485.6 904,487 904.6,488.3 905.2,489.7 905.9,491.1 906.6,492.4 907.4,493.7 908.1,495 908.9,496.3 909.8,497.6 910.7,498.7 911.8,499.7 913.1,500.6 914.5,501.1 915.9,501.2 917.3,501.2 918.7,501.3 920.1,501.3 921.6,501.3 923,501.3 924.5,501.3 926,501.4 927.5,501.4 928.9,501.4 930.4,501.4 932,501.4 933.5,501.4 935,501.4 936.5,501.4 938.1,501.5 939.6,501.5 941.1,501.5 942.7,501.5 944.2,501.5 945.7,501.5 947.3,501.5 948.8,501.5 950.4,501.5 951.9,501.5 953.4,501.5 955,501.5 956.5,501.5 958,501.5 959.5,501.5 961,501.5 962.5,501.5 964,501.5 965.5,501.5 967,501.5 968.5,501.5 970,501.5 971.5,501.5 973,501.5 974.5,501.5 976,501.5 977.5,501.5 979,501.5 980.5,501.5 982,501.5 983.5,501.5 985,501.5 986.5,501.5 988,501.5 989.5,501.5 991,501.5 992.5,501.5 994,501.5 995.5,501.5 997,501.5 998.5,501.5 1000,501.5 1001.5,501.5 1003,501.5 1004.6,501.5 1006.1,501.5 1007.6,501.5 1009.2,501.5 1010.7,501.5 1012.3,501.5 1013.8,501.5 1015.3,501.5 1016.8,501.5 1018.3,501.5 1019.8,501.5 1021.2,501.5 1022.6,501.5 1024,501.6 1025.4,502.4 1026.3,503.4 1026.8,504.8 1027.2,506.3 1027.5,507.8 1027.8,509.3 1028,510.8 1028.2,512.3 1028.3,513.7 1028.5,515.2 1028.6,516.7 1028.8,518.2 1028.9,519.7 1029,521.2 1029.1,522.7 1029.2,524.2 1029.4,525.7 1029.5,527.2 1029.6,528.7 1029.7,530.2 1029.8,531.7 1029.9,533.2 1030,534.7 1030.1,536.2 1030.2,537.8 1030.3,539.2 1030.4,540.7 1030.6,542.2 1030.7,543.7 1030.9,545.2 1031.1,546.7 1031.4,548.1 1031.8,549.6 1032.2,551 1032.7,552.5 1033.2,553.9 1033.8,555.2 1034.6,556.4 1035.6,557.5 1036.7,558.6 1037.9,559.5 1039.1,560.5 1040.3,561.5 1041.5,562.4 1042.7,563.3 1043.8,564.3 1045.1,565.2 1046.3,566 1047.5,566.9 1048.8,567.7 1050.1,568.4 1051.4,569.1 1052.7,569.8 1054.1,570.5 1055.4,571.1 1056.8,571.8 1058.1,572.6 1059.4,573.3 1060.7,574.1 1062,574.8 1063.3,575.6 1064.6,576.4 1065.9,577.1 1067.1,577.9 1068.4,578.7 1069.7,579.4 1071,580.2 1072.3,580.9 1073.7,581.6 1075,582.3 1076.3,583 1077.7,583.6 1079,584.3 1080.4,584.9 1081.7,585.6 1083.1,586.2 1084.5,586.9 1085.8,587.5 1087.2,588.1 1088.6,588.6 1090,589.2 1091.4,589.7 1092.8,590.2 1094.2,590.7 1095.6,591.1 1097.1,591.6 1098.5,592 1100,592.5 1101.4,592.9 1102.9,593.3 1104.3,593.7 1105.8,594.1 1107.3,594.4 1108.7,594.7 1110.2,594.9 1111.7,595.1 1113.2,595.3 1114.7,595.5 1116.2,595.6 1117.7,595.8 1119.2,595.9 1120.6,595.9 1122.1,595.9 1123.6,595.7 1125.1,595.5 1126.6,595.3 1128.1,595 1129.6,594.6 1131,594.3 1132.5,593.9 1133.9,593.5 1135.3,593 1136.7,592.4 1138.1,591.8 1139.5,591.2 1140.8,590.6 1142.2,589.9 1143.5,589.2 1144.9,588.5 1146.2,587.7 1147.4,586.8 1148.6,586 1149.7,585 1150.8,584 1151.8,583 1152.9,581.9 1153.9,580.8 1154.9,579.6 1155.9,578.4 1156.8,577.2 1157.7,576 1158.6,574.8 1159.5,573.5 1160.3,572.3 1161.1,571.1 1161.9,569.8 1162.6,568.5 1163.3,567.2 1164.1,565.9 1164.7,564.5 1165.4,563.2 1166.1,561.8 1166.7,560.5 1167.3,559.1 1168,557.7 1168.5,556.3 1169.1,554.9 1169.7,553.5 1170.2,552.1 1170.8,550.7 1171.3,549.3 1171.8,547.9 1172.3,546.5 1172.8,545.1 1173.3,543.7 1173.8,542.2 1174.2,540.8 1174.7,539.4 1175.1,537.9 1175.5,536.5 1175.9,535 1176.3,533.6 1176.6,532.1 1177,530.7 1177.3,529.2 1177.6,527.8 1177.9,526.3 1178.2,524.8 1178.5,523.3 1178.8,521.9 1179.1,520.4 1179.4,518.9 1179.7,517.4 1180,516 1180.3,514.5 1180.7,513.1 1181,511.6 1181.3,510.1 1181.7,508.7 1182,507.2 1182.4,505.8 1182.7,504.3 1183.1,502.8 1183.4,501.4 1183.8,499.9 1184.1,498.5 1184.5,497 1184.9,495.6 1185.2,494.1 1185.6,492.7 1186,491.2 1186.4,489.8 1186.8,488.3 1187.2,486.9 1187.6,485.4 1188,484 1188.4,482.5 1188.8,481.1 1189.2,479.6 1189.6,478.2 1189.9,476.7 1190.3,475.3 1190.7,473.8 1191.1,472.4 1191.5,470.9 1191.9,469.5 1192.3,468 1192.6,466.6 1193,465.1 1193.4,463.7 1193.8,462.2 1194.2,460.8 1194.6,459.3 1195,457.9 1195.4,456.5 1195.8,455 1196.2,453.6 1196.6,452.1 1197.1,450.7 1197.5,449.2 1197.9,447.8 1198.3,446.4 1198.7,444.9 1199.1,443.5 1199.6,442 1200,440.6 1200.4,439.2 1200.8,437.7 1201.2,436.3 1201.6,434.8 1202,433.4 1202.4,431.9 1202.8,430.5 1203.2,429 1203.6,427.6 1204,426.1 1204.4,424.7 1204.8,423.2 1205.2,421.8 1205.7,420.4 1206.1,418.9 1206.5,417.5 1207,416.1 1207.5,414.7 1207.9,413.2 1208.4,411.8 1208.9,410.4 1209.4,409 1209.9,407.5 1210.4,406.1 1210.9,404.7 1211.5,403.3 1212,401.9 1212.6,400.6 1213.2,399.2 1213.8,397.8 1214.4,396.4 1215,395 1215.7,393.7 1216.3,392.3 1217,391 1217.7,389.7 1218.5,388.4 1219.2,387.1 1220,385.9 1220.8,384.6 1221.7,383.4 1222.6,382.2 1223.5,381 1224.4,379.8 1225.3,378.6 1226.3,377.4 1227.2,376.2 1228.2,375.1 1229.1,373.9 1230.1,372.7 1231,371.6 1232,370.4 1233,369.3 1234,368.2 1235,367 1236,365.9 1237,364.8 1238,363.7 1239,362.6 1240,361.5 1241.1,360.4 1242.1,359.4 1243.2,358.3 1244.2,357.2 1245.3,356.1 1246.3,355.1 1247.4,354.1 1248.5,353 1249.6,352 1250.7,351 1251.8,350 1252.9,349 1254,347.9 1255.1,346.9 1256.2,345.9 1257.2,344.8 1258.3,343.7 1259.3,342.6 1260.2,341.4 1261.2,340.3 1262.1,339.1 1263.1,338 1264.1,336.9 1265.2,335.8 1266.2,334.7 1267.3,333.7 1268.4,332.6 1269.5,331.6 1270.6,330.6 1271.3,330" stroke="#00f" stroke-width="4.17" stroke-dasharray="4.17 6.94 1.39 6.94" />
<polyline points="249,878.6 267,878.6 288.7,878.6 307,878.6 319.5,878.6 331.5,878.6 342.5,878.6 350,878.6 356.5,878.6 362,878.6 366.8,878.6 371.1,878.6 375,878.6 378.5,878.6 381.7,878.6 384.5,878.6 387.2,878.6 389.6,878.6 391.8,878.6 393.9,878.6 395.9,878.6 397.7,878.6 399.5,878.6 401.1,878.6 402.6,878.6 404.1,878.6 405.5,878.6 406.8,878.6 408.1,878.6 409.2,878.6 410.2,878.6 411.2,878.6 412.1,878.6" stroke="none" marker-start="url(#mo)" marker-mid="url(#mo)" marker-end="url(#mo)"/>
<polyline points="412.8,878.6 413.5,878.6 414.1,878.6 414.6,878.6" stroke="none" marker-start="url(#moj)" marker-mid="url(#moj)" marker-end="url(#moj)"/>
<polyline points="415,878.6 415.4,878.6 415.8,878.6 416.2,878.6 416.5,878.6 416.8,878.6 417,878.6 417.3,878.6 417.5,878.6 417.8,878.6 418,878.6 418.3,878.6 418.5,878.6 418.8,878.6 419,878.6 419.3,878.6 419.5,878.6 419.8,878.6 420,878.6 420.3,878.6 420.5,878.6 420.8,878.6 421,878.6 421.3,878.6 421.5,878.6 421.8,878.6 422,878.6 422.3,878.6 422.5,878.6 422.8,878.6 423,878.6 423.3,878.6 423.5,878.6 423.8,878.6 424,878.6 424.3,878.6 424.5,878.6 424.8,878.6 425,878.6 425.3,878.6 425.5,878.6 425.8,878.6 426,878.6 426.3,878.6 426.5,878.6 426.8,878.6 427,878.6 427.3,878.6 427.5,878.6 427.8,878.6 428,878.6 428.3,878.6 428.5,878.6 428.8,878.6 429,878.6 429.3,878.6 429.5,878.6 429.8,878.6 430,878.6 430.3,878.6 430.5,878.6 430.8,878.6 431,878.6 431.3,878.6 431.5,878.6 431.8,878.6 432,878.6 432.3,878.6 432.5,878.6 432.8,878.6 433,878.6 433.3,878.6 433.5,878.6 433.8,878.6 434,878.6 434.3,878.6 434.5,878.6 434.8,878.6 435,878.6 435.3,878.6 435.5,878.6 435.8,878.6 436,878.6 436.3,878.6 436.5,878.6 436.8,878.6 437,878.6 437.3,878.6 437.5,878.6 437.8,878.6 438,878.6 438.3,878.6 438.5,878.6 438.8,878.6 439,878.6 439.3,878.6 439.5,878.6 439.8,878.6 440,878.6 440.3,878.6 440.5,878.6 440.8,878.6 441,878.6 441.3,878.6 441.5,878.6 441.8,878.6 442,878.6 442.3,878.6 442.5,878.6 442.8,878.6 443,878.6 443.3,878.6 443.5,878.6 443.8,878.6 444,878.6 444.3,878.6 444.5,878.6 444.8,878.6 445,878.6 445.3,878.6 445.5,878.6 445.8,878.6 446,878.6 446.3,878.6 446.5,878.6 446.8,878.6 447,878.6 447.3,878.6 447.5,878.6 447.8,878.6 448,878.6 448.3,878.6 448.5,878.6 448.8,878.6 449,878.6 449.3,878.6 449.5,878.6 449.8,878.6 450,878.6 450.3,878.6 450.5,878.6 450.8,878.6 451,878.6 451.3,878.6 451.5,878.6 451.8,878.6 452,878.6 452.3,878.6 452.5,878.6 452.8,878.6 453,878.6 453.3,878.6 453.5,878.6 453.8,878.6 454,878.6 454.3,878.6 454.5,878.6 454.8,878.6 455,878.6 455.3,878.6 455.5,878.6 455.8,878.6 456,878.6 456.3,878.6 456.5,878.6 456.8,878.6 457,878.6 457.3,878.6 457.5,878.6 457.8,878.6 458,878.6 458.3,878.6 458.5,878.6 458.8,878.6 459,878.6 459.3,878.6 459.5,878.6 459.8,878.6 460,878.6 460.3,878.6 460.5,878.6 460.8,878.6 461,878.6 461.3,878.6 461.5,878.6 461.8,878.6 462,878.6 462.3,878.6 462.5,878.6 462.8,878.6 463,878.6 463.3,878.6 463.5,878.6 463.8,878.6 464,878.6 464.3,878.6 464.5,878.6 464.8,878.6 465,878.6 465.3,878.6 465.5,878.6 465.8,878.6 466,878.6 466.3,878.6 466.5,878.6 466.8,878.6 467,878.6 467.3,878.6 467.5,878.6 467.8,878.6 468,878.6 468.3,878.6 468.5,878.6 468.8,878.6 469,878.6 469.3,878.6 469.5,878.6 469.8,878.6 470,878.6 470.3,878.6 470.5,878.6 470.8,878.6 471,878.6 471.3,878.6 471.5,878.6 471.8,878.6 472,878.6 472.3,878.6 472.5,878.6 472.8,878.6 473,878.6 473.3,878.6 473.5,878.6 473.8,878.6 474,878.6 474.3,878.6 474.5,878.6 474.8,878.6 475,878.6 475.3,878.6 475.5,878.6 475.8,878.6 476,878.6 476.3,878.6 476.5,878.6 476.8,878.6 477,878.6 477.3,878.6 477.5,878.6 477.8,878.6 478,878.6 478.3,878.6 478.5,878.6 478.8,878.6 479,878.6 479.3,878.6 479.5,878.6 479.8,878.6 480,878.6 480.3,878.6 480.5,878.6 480.8,878.6 481,878.6 481.3,878.6 481.5,878.6 481.8,878.6 482,878.6 482.3,878.6 482.5,878.6 482.8,878.6 483,878.6 483.3,878.6 483.5,878.6 483.8,878.6 484,878.6 484.3,878.6 484.5,878.6 484.8,878.6 485,878.6 485.3,878.6 485.5,878.6 485.8,878.6 486,878.6 486.3,878.6 486.5,878.6 486.8,878.6 487,878.6 487.3,878.6 487.5,878.6 487.8,878.6 488,878.6 488.3,878.6 488.5,878.6 488.8,878.6 489,878.6 489.3,878.6 489.5,878.6 489.8,878.6 490,878.6 490.3,878.6 490.5,878.6 490.8,878.6 491,878.6 491.3,878.6 491.5,878.6 491.8,878.6 492,878.6 492.3,878.6 492.5,878.6 492.8,878.6 493,878.6 493.3,878.6 493.5,878.6 493.8,878.6 494,878.6 494.3,878.6 494.5,878.6 494.8,878.6 495,878.6 495.3,878.6 495.5,878.6 495.8,878.6 496,878.6 496.3,878.6 496.5,878.6 496.8,878.6 497,878.6 497.3,878.6 497.5,878.6 497.8,878.6 498,878.6 498.3,878.6 498.5,878.6 498.8,878.6 499,878.6 499.3,878.6 499.5,878.6 499.8,878.6 500,878.6 500.3,878.6 500.5,878.6 500.8,878.6 501,878.6 501.3,878.6 501.5,878.6 501.8,878.6 502,878.6 502.3,878.6 502.5,878.6 502.8,878.6 503,878.6 503.3,878.6 503.5,878.6 503.8,878.6 504,878.6 504.3,878.6 504.5,878.6 504.8,878.6 505,878.6 505.3,878.6 505.5,878.6 505.8,878.6 506,878.6 506.3,878.6 506.5,878.6 506.8,878.6 507,878.6 507.3,878.6 507.5,878.6 507.8,878.6 508,878.6 508.3,878.6 508.5,878.6 508.8,878.6 509,878.6 509.3,878.6 509.5,878.6 509.8,878.6 510,878.6 510.3,878.6 510.5,878.6 510.8,878.6 511,878.6 511.3,878.6 511.5,878.6 511.8,878.6 512,878.6 512.3,878.6 512.5,878.6 512.8,878.6 513,878.6 513.3,878.6 513.5,878.6 513.8,878.6 514,878.6 514.3,878.6 514.5,878.6 514.8,878.6 515,878.6 515.3,878.6 515.5,878.6 515.8,878.6 516,878.6 516.3,878.6 516.5,878.6 516.8,878.6 517,878.6 517.3,878.6 517.5,878.6 517.8,878.6 518,878.6 518.3,878.6 518.5,878.6 518.8,878.6 519,878.6 519.3,878.6 519.5,878.6 519.8,878.6 520,878.6 520.3,878.6 520.5,878.6 520.8,878.6 521,878.6 521.3,878.6 521.5,878.6 521.8,878.6 522,878.6 522.3,878.6 522.5,878.6 522.8,878.6 523,878.6 523.3,878.6 523.5,878.6 523.8,878.6 524,878.6 524.3,878.6 524.5,878.6 524.8,878.6 525,878.6 525.3,878.6 525.5,878.6 525.8,878.6 526,878.6 526.3,878.6 526.5,878.6 526.8,878.6 527,878.6 527.3,878.6 527.5,878.6 527.8,878.6 528,878.6 528.3,878.6 528.5,878.6 528.8,878.6 529,878.6 529.3,878.6 529.5,878.6 529.8,878.6 530,878.6 530.3,878.6 530.5,878.6 530.8,878.6 531,878.6 531.3,878.6 531.5,878.6 531.8,878.6 532,878.6 532.3,878.6 532.5,878.6 532.8,878.6 533,878.6 533.3,878.6 533.5,878.6 533.8,878.6 534,878.6 534.3,878.6 534.5,878.6 534.8,878.6 535,878.6 535.3,878.6 535.5,878.6 535.8,878.6 536,878.6 536.3,878.6 536.5,878.6 536.8,878.6 537,878.6 537.3,878.6 537.5,878.6 537.8,878.6 538,878.6 538.3,878.6 538.5,878.6 538.8,878.6 539,878.6 539.3,878.6 539.5,878.6 539.8,878.6 540,878.6 540.3,878.6 540.5,878.6 540.8,878.6 541,878.6 541.3,878.6 541.5,878.6 541.8,878.6 542,878.6 542.3,878.6 542.5,878.6 542.8,878.6 543,878.6 543.3,878.6 543.5,878.6 543.8,878.6 544,878.6 544.3,878.6 544.5,878.6 544.8,878.6 545,878.6 545.3,878.6 545.5,878.6 545.8,878.6 546.1,878.6 546.4,878.6 546.6,878.6 546.9,878.6 547.2,878.6 547.5,878.6 547.8,878.6 548.2,878.6 548.5,878.6 548.8,878.6 549.2,878.6 549.5,878.6 549.9,878.6 550.3,878.6 550.7,878.6 551,878.6 551.4,878.6 551.9,878.6 552.3,878.6 552.7,878.6" stroke="none" marker-start="url(#mok)" marker-mid="url(#mok)" marker-end="url(#mok)"/>
<polyline points="553.2,878.6 553.6,878.6 554.1,878.6 554.6,878.6 555,878.6 555.5,878.6 556.1,878.6 556.6,878.6 557.1,878.6 557.6,878.6 558.2,878.6 558.8,878.6 559.3,878.6 559.9,878.6 560.5,878.6 561.1,878.6 561.8,878.6 562.4,878.6 563,878.6 563.7,878.6 564.4,878.6 565.1,878.6 565.8,878.6 566.5,878.6 567.1,878.6 567.8,878.6 568.5,878.6 569.2,878.6 569.9,878.6 570.5,878.6 571.2,878.6 571.9,878.6 572.5,878.6 573.2,878.6 573.8,878.6 574.4,878.6 575.1,878.6 575.7,878.6 576.3,878.6 577,878.6 577.6,878.6 578.2,878.6 578.8,878.6 579.4,878.6 580,878.6 580.6,878.6 581.2,878.6 581.8,878.6 582.4,878.6 583,878.6 583.6,878.6 584.2,878.6 584.8,878.6 585.4,878.6 586,878.6 586.6,878.6 587.2,878.6 587.8,878.6 588.4,878.6 589,878.6 589.6,878.6 590.2,878.6 590.8,878.6 591.4,878.6 592,878.6 592.6,878.6 593.2,878.6 593.8,878.6 594.4,878.6 595,878.6 595.6,878.6 596.2,878.6 596.8,878.6 597.4,878.6 598,878.6 598.6,878.6 599.2,878.6" stroke="none" marker-start="url(#moj)" marker-mid="url(#moj)" marker-end="url(#moj)"/>
<polyline points="599.9,878.6 600.9,878.6 602.4,878.6 604.3,878.6 606.4,878.6 608.6,878.6 610.7,878.6 612.9,878.6 614.9,878.6 617,878.6 619,878.6" stroke="none" marker-start="url(#mo)" marker-mid="url(#mo)" marker-end="url(#mo)"/>
<polyline points="620.4,878.6 621,878.6 621.5,878.6 622,878.6 622.5,878.6 623,878.6 623.5,878.6 624,878.6 624.5,878.6 625,878.6 625.5,878.6 626,878.6 626.5,878.6 627,878.6 627.5,878.6 628,878.6 628.5,878.6 629,878.6" stroke="none" marker-start="url(#moj)" marker-mid="url(#moj)" marker-end="url(#moj)"/>
<polyline points="629.5,878.6 630.7,878.6 635,878.6 640.8,878.6 652.1,878.6 663.9,878.6 675.8,878.6 689.7,878.6 703.5,878.6 715.2,878.6 725.9,878.6 738.7,878.6 750.7,878.6 761,878.6 769.5,878.6 777.3,878.6 784.5,878.6 790.5,878.6 801.5,878.6 809,878.6 814,878.6 818.5,878.6 822.5,878.6 826.5,878.6 831.6,878.6 834.4,878.6 837,878.6 839.3,878.6 840.7,878.6 842,878.6 843,878.6 844.5,878.6 846,878.6 847,878.6 848,878.6 849,878.6 850.1,878.6 851.1,878.6 852.2,878.6 853.2,878.6 854.3,878.6 855.3,878.6 856.4,878.6 857.4,878.6 858.5,878.6 859.5,878.6 860.6,878.6 861.6,878.6 862.7,878.6 863.7,878.6 864.8,878.6 865.8,878.6 866.9,878.6 867.9,878.6 869,878.6 870,878.6 871.1,878.6 872.1,878.6 873.2,878.6 874.2,878.6 875.3,878.6 876.3,878.6 877.4,878.6 878.4,878.6 879.5,878.6 880.5,878.6 881.6,878.6 882.6,878.6 883.7,878.6 884.7,878.6 885.8,878.6 886.8,878.6 887.9,878.6 888.9,878.6 890,878.6 891,878.6 892.1,878.6 893.1,878.6 894.2,878.6 895.7,878.6 897.5,878.6 900.1,878.6 903.7,878.6 909,878.6 915.6,878.6 922.5,878.6 929.4,878.6 936.3,878.6 943,878.6 949.7,878.6 956.3,878.6 962.8,878.6 969.2,878.6 975.4,878.6 981.3,878.6 987,878.6 992.5,878.6 997.8,878.6 1002.9,878.6 1007.8,878.6 1012.5,878.6 1017.2,878.6 1021.6,878.6 1026,878.6 1030.2,878.6 1034.3,878.6 1038.3,878.6 1042.1,878.6 1045.9,878.6 1049.6,878.6 1053.2,878.6 1056.7,878.6 1060.2,878.6 1063.6,878.6 1066.9,878.6 1070.2,878.6 1073.4,878.6 1076.5,878.6 1079.6,878.6 1082.6,878.6 1085.5,878.6 1088.4,878.6 1091.3,878.6 1094.1,878.6 1096.8,878.6 1099.5,878.6 1102.2,878.6 1104.8,878.6 1107.4,878.6 1109.9,878.6 1112.4,878.6 1114.8,878.6 1117.2,878.6 1119.6,878.6 1121.9,878.6 1124.1,878.6 1126.4,878.6 1128.5,878.6 1130.7,878.6 1132.8,878.6 1134.9,878.6 1136.9,878.6 1138.9,878.6 1140.9,878.6 1142.8,878.6 1144.7,878.6 1146.6,878.6 1148.4,878.6 1150.2,878.6 1152,878.6 1153.7,878.6 1155.5,878.6 1157.1,878.6 1158.8,878.6 1160.4,878.6 1162,878.6 1163.6,878.6 1165.2,878.6 1166.7,878.6 1168.3,878.6 1169.8,878.6 1171.3,878.6 1172.8,878.6 1174.3,878.6 1175.8,878.6 1177.2,878.6 1178.7,878.6 1180.1,878.6 1181.5,878.6 1182.9,878.6 1184.3,878.6 1185.7,878.6 1187.1,878.6 1188.5,878.6 1189.8,878.6 1191.2,878.6 1192.5,878.6 1193.8,878.6 1195.1,878.6 1196.4,878.6 1197.7,878.6 1198.9,878.6 1200.2,878.6 1201.5,878.6 1202.7,878.6 1203.9,878.6 1205.1,878.6 1206.3,878.6 1207.5,878.6 1208.7,878.6 1209.8,878.6 1211,878.6 1212.1,878.6 1213.3,878.6 1214.4,878.6 1215.5,878.6 1216.6,878.6 1217.7,878.6 1218.7,878.6 1219.8,878.6 1220.9,878.6 1221.9,878.6 1222.9,878.6 1224,878.6 1225,878.6 1226,878.6 1226.9,878.6 1227.9,878.6 1228.9,878.6 1229.8,878.6 1230.8,878.6 1231.7,878.6 1232.6,878.6 1233.5,878.6 1234.4,878.6 1235.3,878.6 1236.1,878.6 1237,878.6 1237.8,878.6 1238.6,878.6 1239.5,878.6 1240.3,878.6 1241.1,878.6 1241.8,878.6 1242.6,878.6 1243.4,878.6" stroke="none" marker-start="url(#mo)" marker-mid="url(#mo)" marker-end="url(#mo)"/>
<polyline points="1244.1,878.6 1244.8,878.6 1245.5,878.6 1246.2,878.6 1246.9,878.6 1247.5,878.6 1248.2,878.6 1248.8,878.6 1249.4,878.6 1250.1,878.6 1250.7,878.6 1251.2,878.6 1251.8,878.6 1252.3,878.6 1252.8,878.6 1253.3,878.6" stroke="none" marker-start="url(#moj)" marker-mid="url(#moj)" marker-end="url(#moj)"/>
<polyline points="1253.8,878.6 1254.2,878.6 1254.6,878.6 1255,878.6 1255.4,878.6 1255.8,878.6 1256.2,878.6 1256.5,878.6 1256.8,878.6 1257.2,878.6 1257.5,878.6 1257.8,878.6 1258.2,878.6 1258.5,878.6 1258.8,878.6 1259.1,878.6 1259.4,878.6 1259.7,878.6 1260,878.6 1260.2,878.6 1260.5,878.6 1260.8,878.6 1261.1,878.6 1261.3,878.6 1261.6,878.6 1261.9,878.6 1262.1,878.6 1262.4,878.6 1262.6,878.6 1262.8,878.6 1263.1,878.6 1263.3,878.6 1263.6,878.6 1263.8,878.6 1264.1,878.6 1264.3,878.6 1264.5,878.6 1264.8,878.6 1265,878.6 1265.2,878.6 1265.5,878.6 1265.7,878.6 1265.9,878.6 1266.2,878.6 1266.4,878.6 1266.6,878.6 1266.8,878.6 1267.1,878.6 1267.3,878.6 1267.5,878.6 1267.7,878.6 1268,878.6 1268.2,878.6 1268.4,878.6 1268.6,878.6 1268.8,878.6 1269,878.6 1269.2,878.6 1269.5,878.6 1269.7,878.6 1269.9,878.6 1270.1,878.6 1270.3,878.6 1270.5,878.6 1270.7,878.6 1270.9,878.6 1271.1,878.6 1271.3,878.6" stroke="none" marker-start="url(#mok)" marker-mid="url(#mok)" marker-end="url(#mok)"/>
<line x1="247" y1="937.0" x2="1271.3" y2="937.0" stroke="#f00" stroke-width="1.39" stroke-dasharray="4.17 6.94 1.39 6.94"/>
<polyline points="249,525 267,525 288.7,525 307,525 319.5,525 331.5,525 342.5,525 350,525 356.5,525 362,525 366.8,525 371.1,525 375,525 378.5,525 381.7,525 384.5,525 387.2,525 389.6,525 391.8,525 393.9,525 395.9,525 397.7,525 399.5,525 401.1,525 402.6,525 404.1,525 405.5,525 406.8,525 408.1,525 409.2,525 410.2,525 411.2,525 412.1,525" stroke="none" marker-start="url(#mD)" marker-mid="url(#mD)" marker-end="url(#mD)"/>
<polyline points="412.8,525 413.5,525 414.1,525 414.6,525" stroke="none" marker-start="url(#mDj)" marker-mid="url(#mDj)" marker-end="url(#mDj)"/>
<polyline points="415,525 415.4,525 415.8,525 416.2,525 416.5,525 416.8,525 417,525 417.3,525 417.5,525 417.8,525 418,525 418.3,525 418.5,525 418.8,525 419,525 419.3,525 419.5,525 419.8,525 420,525 420.3,525 420.5,525 420.8,525 421,525 421.3,525 421.5,525 421.8,525 422,525 422.3,525 422.5,525 422.8,525 423,525 423.3,525 423.5,525 423.8,525 424,525 424.3,525 424.5,525 424.8,525 425,525 425.3,525 425.5,525 425.8,525 426,525 426.3,525 426.5,525 426.8,525 427,525 427.3,525 427.5,525 427.8,525 428,525 428.3,525 428.5,525 428.8,525 429,525 429.3,525 429.5,525 429.8,525 430,525 430.3,525 430.5,525 430.8,525 431,525 431.3,525 431.5,525 431.8,525 432,525 432.3,525 432.5,525 432.8,525 433,525 433.3,525 433.5,525 433.8,525 434,525 434.3,525 434.5,525 434.8,525 435,525 435.3,525 435.5,525 435.8,525 436,525 436.3,525 436.5,525 436.8,525 437,525 437.3,525 437.5,525 437.8,525 438,525 438.3,525 438.5,525 438.8,525 439,525 439.3,525 439.5,525 439.8,525 440,525 440.3,525 440.5,525 440.8,525 441,525 441.3,525 441.5,525 441.8,525 442,525 442.3,525 442.5,525 442.8,525 443,525 443.3,525 443.5,525 443.8,525 444,525 444.3,525 444.5,525 444.8,525 445,525 445.3,525 445.5,525 445.8,525 446,525 446.3,525 446.5,525 446.8,525 447,525 447.3,525 447.5,525 447.8,525 448,525 448.3,525 448.5,525 448.8,525 449,525 449.3,525 449.5,525 449.8,525 450,525 450.3,525 450.5,525 450.8,525 451,525 451.3,525 451.5,525 451.8,525 452,525 452.3,525 452.5,525 452.8,525 453,525 453.3,525 453.5,525 453.8,525 454,525 454.3,525 454.5,525 454.8,525 455,525 455.3,525 455.5,525 455.8,525 456,525 456.3,525 456.5,525 456.8,525 457,525 457.3,525 457.5,525 457.8,525 458,525 458.3,525 458.5,525 458.8,525 459,525 459.3,525 459.5,525 459.8,525 460,525 460.3,525 460.5,525 460.8,525 461,525 461.3,525 461.5,525 461.8,525 462,525 462.3,525 462.5,525 462.8,525 463,525 463.3,525 463.5,525 463.8,525 464,525 464.3,525 464.5,525 464.8,525 465,525 465.3,525 465.5,525 465.8,525 466,525 466.3,525 466.5,525 466.8,525 467,525 467.3,525 467.5,525 467.8,525 468,525 468.3,525 468.5,525 468.8,525 469,525 469.3,525 469.5,525 469.8,525 470,525 470.3,525 470.5,525 470.8,525 471,525 471.3,525 471.5,525 471.8,525 472,525 472.3,525 472.5,525 472.8,525 473,525 473.3,525 473.5,525 473.8,525 474,525 474.3,525 474.5,525 474.8,525 475,525 475.3,525 475.5,525 475.8,525 476,525 476.3,525 476.5,525 476.8,525 477,525 477.3,525 477.5,525 477.8,525 478,525 478.3,525 478.5,525 478.8,525 479,525 479.3,525 479.5,525 479.8,525 480,525 480.3,525 480.5,525 480.8,525 481,525 481.3,525 481.5,525 481.8,525 482,525 482.3,525 482.5,525 482.8,525 483,525 483.3,525 483.5,525 483.8,525 484,525 484.3,525 484.5,525 484.8,525 485,525 485.3,525 485.5,525 485.8,525 486,525 486.3,525 486.5,525 486.8,525 487,525 487.3,525 487.5,525 487.8,525 488,525 488.3,525 488.5,525 488.8,525 489,525 489.3,525 489.5,525 489.8,525 490,525 490.3,525 490.5,525 490.8,525 491,525 491.3,525 491.5,525 491.8,525 492,525 492.3,525 492.5,525 492.8,525 493,525 493.3,525 493.5,525 493.8,525 494,525 494.3,525 494.5,525 494.8,525 495,525 495.3,525 495.5,525 495.8,525 496,525 496.3,525 496.5,525 496.8,525 497,525 497.3,525 497.5,525 497.8,525 498,525 498.3,525 498.5,525.1 498.8,525.1 499,525.1 499.3,525.1 499.5,525.1 499.8,525.2 500,525.2 500.3,525.2 500.5,525.3 500.8,525.3 501,525.3 501.3,525.4 501.5,525.4 501.8,525.5 502,525.5 502.3,525.6 502.5,525.6 502.8,525.7 503,525.8 503.3,525.9 503.5,526 503.8,526.1 504,526.2 504.3,526.4 504.5,526.5 504.8,526.7 505,526.8 505.3,527 505.5,527.1 505.8,527.3 506,527.4 506.3,527.6 506.5,527.7 506.8,527.9 507,528 507.3,528.2 507.5,528.3 507.8,528.4 508,528.6 508.3,528.7 508.5,528.9 508.8,529 509,529.2 509.3,529.3 509.5,529.5 509.8,529.6 510,529.8 510.3,529.9 510.5,530.1 510.8,530.3 511,530.4 511.3,530.6 511.5,530.8 511.8,531 512,531.2 512.3,531.4 512.5,531.6 512.8,531.8 513,532 513.3,532.3 513.5,532.5 513.8,532.8 514,533.1 514.3,533.4 514.5,533.7 514.8,534.1 515,534.4 515.3,534.8 515.5,535.1 515.8,535.5 516,535.8 516.3,536.2 516.5,536.6 516.8,537 517,537.3 517.3,537.7 517.5,538.1 517.8,538.4 518,538.8 518.3,539.1 518.5,539.4 518.8,539.8 519,540.1 519.3,540.5 519.5,540.8 519.8,541.2 520,541.6 520.3,541.9 520.5,542.3 520.8,542.6 521,543 521.3,543.3 521.5,543.7 521.8,544 522,544.4 522.3,544.7 522.5,545.1 522.8,545.4 523,545.8 523.3,546.1 523.5,546.4 523.8,546.8 524,547.1 524.3,547.4 524.5,547.8 524.8,548.1 525,548.4 525.3,548.8 525.5,549.1 525.8,549.4 526,549.7 526.3,550.1 526.5,550.4 526.8,550.7 527,551 527.3,551.4 527.5,551.7 527.8,552 528,552.3 528.3,552.7 528.5,553 528.8,553.3 529,553.6 529.3,554 529.5,554.3 529.8,554.6 530,554.9 530.3,555.2 530.5,555.5 530.8,555.8 531,556.1 531.3,556.4 531.5,556.7 531.8,557 532,557.3 532.3,557.6 532.5,557.9 532.8,558.2 533,558.5 533.3,558.7 533.5,559 533.8,559.3 534,559.6 534.3,559.8 534.5,560.1 534.8,560.4 535,560.6 535.3,560.9 535.5,561.1 535.8,561.3 536,561.5 536.3,561.7 536.5,562 536.8,562.2 537,562.4 537.3,562.6 537.5,562.8 537.8,562.9 538,563.1 538.3,563.3 538.5,563.5 538.8,563.7 539,563.9 539.3,564 539.5,564.2 539.8,564.4 540,564.5 540.3,564.7 540.5,564.8 540.8,565 541,565.1 541.3,565.3 541.5,565.4 541.8,565.6 542,565.7 542.3,565.8 542.5,566 542.8,566.1 543,566.2 543.3,566.3 543.5,566.4 543.8,566.6 544,566.7 544.3,566.8 544.5,566.9 544.8,567 545,567.1 545.3,567.2 545.5,567.3 545.8,567.5 546.1,567.6 546.4,567.7 546.6,567.8 546.9,568 547.2,568.1 547.5,568.2 547.8,568.4 548.2,568.5 548.5,568.6 548.8,568.8 549.2,568.9 549.5,569.1 549.9,569.2 550.3,569.4 550.7,569.5 551,569.7" stroke="none" marker-start="url(#mDk)" marker-mid="url(#mDk)" marker-end="url(#mDk)"/>
<polyline points="551.4,569.9 551.9,570.2 552.3,570.4 552.7,570.7 553.2,571 553.6,571.4 554.1,571.8" stroke="none" marker-start="url(#mDj)" marker-mid="url(#mDj)" marker-end="url(#mDj)"/>
<polyline points="554.6,572.3 555,572.9 555.5,573.5 556.1,574.1 556.6,574.7 557.1,575.4 557.6,576.1 558.2,576.9 558.8,577.8 559.3,578.7 559.9,579.9 560.5,581.2 561.1,582.9 561.8,584.7 562.4,586.7 563,588.6 563.7,590.6 564.4,592.8 565.1,595.2 565.8,598.1 566.5,601.3 567.1,604.7 567.8,608.2 568.5,611.6 569.2,614.8 569.9,618.1 570.5,621.4 571.2,624.8 571.9,628.4 572.5,632.5 573.2,636.7 573.8,640.8 574.4,644.6 575.1,648.4 575.7,652 576.3,655.8 577,659.8 577.3,662 578.2,668 579.4,676 580.6,684 582,694.6 583.6,710 585.2,726 586.5,741.8 587.4,753 588.6,766 589.5,782.5 590.4,795 590.8,802 591.4,811 591.9,820.5 592.5,832 592.8,837 593.1,843.5 593.5,851 593.9,858 594.2,864 594.9,873 595.4,879.5 595.7,886 596.1,895 596.5,904 597,914 597.8,925.5 598.2,935 598.6,944 599.1,955 602.4,1027.3 604.3,1069.4 606.4,1124.9 608.6,1175 610.7,1211.3 612.9,1243 614.9,1273.7 617,1303.2 619,1331.3 620.4,1350.3 621,1357.7 621.5,1364.1 622,1370.5 622.5,1376.7 623,1382.9 623.5,1388.9 624,1394.8 624.5,1400.6 625,1406.3 625.5,1411.9 626,1417.3 626.5,1422.6 627,1427.7 627.5,1432.7 628,1437.6 628.5,1442.3 629,1446.9 629.5,1451.3 630.7,1461.5 635,1488.3 640.8,1499.9 652.1,1488.6 663.9,1458.7 675.8,1414.4 689.7,1350.9 703.5,1279.1 715.2,1174.2 725.9,1067 738.7,982.4 750.7,948.1 761,932.6 769.5,916 777.3,900.9 784.5,890.5 790.5,878.6 801.5,860.5 809,848.7 814,842.8 818.5,840.1 822.5,839.1 826.5,843.6 831.6,850.5 834.4,861 837,872 839.3,881.8 840.7,892.8 842,905 843,919 844.5,934 846,946.5 847,957.2 848,970.2 849,986.4 850.1,1006 851.1,1027.7 852.2,1049.8 853.2,1070.8 854.3,1089.4 855.3,1104.3 856.4,1118 857.4,1131.5 858.5,1144.8 859.5,1158 860.6,1171 861.6,1183.9 862.7,1196.5 863.7,1209 864.8,1221.3 865.8,1233.4 866.9,1245.3 867.9,1257 869,1268.5 870,1279.8 871.1,1290.9 872.1,1301.8 873.2,1312.5 874.2,1322.9 875.3,1333.1 876.3,1343.1 877.4,1352.9 878.4,1362.4 879.5,1371.7 880.5,1380.7 881.6,1389.5 882.6,1398.1 883.7,1406.4 884.7,1414.4 885.8,1422.2 886.8,1429.7 887.9,1437 888.9,1443.9 890,1450.6 891,1457 892.1,1463.2 893.1,1469 894.2,1474.8 895.7,1481.9 897.5,1490.4 900.1,1500.4 903.7,1512.9 909,1531.1 915.6,1552.5 922.5,1573.9 929.4,1593.8 936.3,1612.1 943,1628.7 949.7,1643.7 956.3,1656.9 962.8,1668.5 969.2,1678.1 975.4,1685.8 981.3,1691.7 987,1696 992.5,1698.6 997.8,1699.9 1002.9,1699.5 1007.8,1696.6 1012.5,1691.3 1017.2,1684 1021.6,1674.8 1026,1664.2 1030.2,1652.3 1034.3,1639.4 1038.3,1625.6 1042.1,1611 1045.9,1595.8 1049.6,1580 1053.2,1563.7 1056.7,1547 1060.2,1529.9 1063.6,1512.6 1066.9,1495 1070.2,1477.4 1073.4,1459.6 1076.5,1441.9 1079.6,1424.1 1082.6,1406.5 1085.5,1388.9 1088.4,1371.3 1091.3,1354 1094.1,1336.7 1096.8,1319.7 1099.5,1302.8 1102.2,1284.8 1104.8,1263.3 1107.4,1239.3 1109.9,1213.6 1112.4,1186.9 1114.8,1159.7 1117.2,1132.8 1119.6,1106.7 1121.9,1081.8 1124.1,1058.5 1126.4,1036.9 1128.5,1016 1130.7,995.8 1132.8,976.7 1134.9,959 1136.9,942.1 1138.9,927.1 1140.9,913.4 1142.8,903.2 1144.7,890.8 1146.6,874.8 1148.4,860.8 1150.2,848.1 1152,837.6 1153.7,828 1155.5,819 1157.1,810.9 1158.8,804 1160.4,797.7 1162,792.1 1163.6,786.7 1165.2,781.3 1166.7,775.9 1168.3,770.1 1169.8,764 1171.3,757.7 1172.8,751 1174.3,744.1 1175.8,738.1 1177.2,733.7 1178.7,729.9 1180.1,725.8 1181.5,721.7 1182.9,718.3 1184.3,715.5 1185.7,713 1187.1,710.7 1188.5,708.5 1189.8,706.1 1191.2,703.6 1192.5,701 1193.8,698.9 1195.1,697 1196.4,695.3 1197.7,693.7 1198.9,692.2 1200.2,690.8 1201.5,689.3 1202.7,687.9 1203.9,686.5 1205.1,685.2 1206.3,684 1207.5,682.9 1208.7,681.9 1209.8,680.9 1211,680 1212.1,679.1 1213.3,678.3 1214.4,677.4 1215.5,676.5 1216.6,675.7 1217.7,674.9 1218.7,674.1 1219.8,673.3 1220.9,672.5 1221.9,671.7 1222.9,670.9 1224,670 1225,669.2 1226,668.3 1226.9,667.4 1227.9,666.5 1228.9,665.6 1229.8,664.7 1230.8,663.7 1231.7,662.8 1232.6,661.9 1233.5,660.9 1234.4,659.9 1235.3,659 1236.1,658 1237,657 1237.8,656.1 1238.6,655.1 1239.5,654.2 1240.3,653.2 1241.1,652.2 1241.8,651.2 1242.6,650.1 1243.4,648.9 1244.1,647.7 1244.8,646.5 1245.5,645.1 1246.2,643.8 1246.9,642.4 1247.5,641 1248.2,639.6 1248.8,638.2 1249.4,636.9 1250.1,635.5 1250.7,634.1 1251.2,632.6 1251.8,631.1 1252.3,629.6 1252.8,628 1253.3,626.3 1253.8,624.4 1254.2,622.6 1254.6,620.8 1255,619 1255.4,617.3 1255.8,615.8 1256.2,614.2 1256.5,612.7 1256.8,611.1 1257.2,609.6 1257.5,608.1 1257.8,606.7 1258.2,605.2 1258.5,603.8 1258.8,602.5 1259.1,601.2 1259.4,599.9 1259.7,598.6 1260,597.3 1260.2,596.1 1260.5,594.9 1260.8,593.8 1261.1,592.7 1261.3,591.6 1261.6,590.6 1261.9,589.7 1262.1,588.8 1262.4,587.9 1262.6,587 1262.8,586.1 1263.1,585.3 1263.3,584.5 1263.6,583.7 1263.8,583 1264.1,582.2" stroke="none" marker-start="url(#mD)" marker-mid="url(#mD)" marker-end="url(#mD)"/>
<polyline points="1264.3,581.6 1264.5,580.9 1264.8,580.3 1265,579.6 1265.2,579 1265.5,578.5 1265.7,577.9 1265.9,577.4 1266.2,576.8 1266.4,576.3 1266.6,575.8 1266.8,575.3 1267.1,574.9 1267.3,574.4 1267.5,574 1267.7,573.5 1268,573.1" stroke="none" marker-start="url(#mDj)" marker-mid="url(#mDj)" marker-end="url(#mDj)"/>
<polyline points="1268.2,572.7 1268.4,572.3 1268.6,572 1268.8,571.6 1269,571.2 1269.2,570.9 1269.5,570.6" stroke="none" marker-start="url(#mDk)" marker-mid="url(#mDk)" marker-end="url(#mDk)"/>
<polyline points="1271.3,568 1271.3,567.5 1271.3,567 1271.3,566.5 1271.3,566 1271.3,565.5 1271.3,565 1271.3,564.5 1271.3,564 1271.3,563.5 1271.3,563 1271.3,562.5 1271.3,562 1271.3,561.5 1271.3,561 1271.3,560.5 1271.3,560 1271.3,559.5 1271.3,559 1271.3,558.5 1271.3,558 1271.3,557.5 1271.3,557 1271.3,556.5 1271.3,556 1271.3,555.5 1271.3,555 1271.3,554.5 1271.3,554 1271.3,553.5 1271.3,553 1271.3,552.5 1271.3,552 1271.3,551.5 1271.3,551 1271.3,550.5 1271.3,550 1271.3,549.5 1271.3,549 1271.3,548.5 1271.3,548 1271.3,547.5 1271.3,547 1271.3,546.5 1271.3,546 1271.3,545.5 1271.3,545 1271.3,544.5 1271.3,544 1271.3,543.5 1271.3,543 1271.3,542.5 1271.3,542 1271.3,541.5 1271.3,541 1271.3,540.5 1271.3,540 1271.3,539.5 1271.3,539 1271.3,538.5 1271.3,538 1271.3,537.5 1271.3,537 1271.3,536.5 1271.3,536 1271.3,535.5 1271.3,535 1271.3,534.5 1271.3,534 1271.3,533.5 1271.3,533 1271.3,532.5 1271.3,532 1271.3,531.5 1271.3,531 1271.3,530.5 1271.3,530 1271.3,529.5 1271.3,529 1271.3,528.5 1271.3,528 1271.3,527.5 1271.3,527" stroke="none" marker-start="url(#mDj)" marker-mid="url(#mDj)" marker-end="url(#mDj)"/>
<polyline points="244.5,244.3 246,244.3 247.5,244.3 249,244.3 250.5,244.3 252,244.3 253.5,244.3 255,244.3 256.5,244.3 258,244.3 259.5,244.3 261,244.3 262.5,244.3 264,244.3 265.5,244.3 267,244.3 268.5,244.3 270,244.3 271.5,244.3 273,244.3 274.5,244.3 276,244.3 277.5,244.3 279,244.3 280.5,244.3 282,244.3 283.5,244.3 285,244.3 286.5,244.3 288,244.3 289.5,244.3 291,244.3 292.5,244.3 294,244.3 295.5,244.3 297,244.3 298.5,244.3 300,244.3 301.5,244.3 303,244.3 304.5,244.3 306,244.3 307.5,244.3 309,244.3 310.5,244.3 312,244.3 313.5,244.3 315,244.3 316.5,244.3 318,244.3 319.5,244.3 321,244.3 322.5,244.3 324,244.3 325.5,244.3 327,244.3 328.5,244.3 330,244.3 331.5,244.3 333,244.4 334.5,244.4 336,244.4 337.5,244.4 339,244.4 340.5,244.4 342,244.4 343.5,244.4 345,244.4 346.5,244.4 348,244.4 349.5,244.4 351,244.4 352.5,244.4 354,244.4 355.5,244.4 357,244.4 358.5,244.4 360,244.4 361.5,244.4 363,244.5 364.5,244.5 366,244.5 367.5,244.5 369,244.5 370.5,244.5 372,244.5 373.5,244.5 375,244.5 376.5,244.5 378,244.5 379.5,244.5 381,244.5 382.5,244.5 384,244.5 385.5,244.5 387,244.6 388.5,244.6 390,244.6 391.5,244.6 393,244.6 394.5,244.6 396,244.6 397.5,244.6 399,244.6 400.5,244.6 402,244.6 403.5,244.6 405,244.6 406.5,244.6 408,244.6 409.5,244.6 411,244.6 412.5,244.7 414,244.7 415.5,244.7 417,244.7 418.5,244.7 420,244.7 421.5,244.7 423,244.7 424.5,244.7 426,244.7 427.5,244.7 429,244.7 430.5,244.8 432,244.8 433.5,244.8 435,244.8 436.5,244.8 438,244.8 439.5,244.8 441,244.8 442.5,244.8 444,244.8 445.5,244.8 447,244.9 448.5,244.9 450,244.9 451.5,244.9 453,244.9 454.5,244.9 456,244.9 457.5,244.9 459,244.9 460.5,244.9 462,244.9 463.5,244.9 465,244.9 466.5,244.9 468,245 469.5,245 471,245 472.5,245 474,245 475.5,245 477,245 478.5,245 480,245 481.5,245 483,245 484.5,245 486,245 487.5,245 489,245 490.5,245 492,245 493.5,244.9 495,244.9 496.5,244.8 498,244.7 499.5,244.4 500.9,244 502.4,243.5 503.7,242.9 504.9,242.1 505.9,241 506.8,239.7 507.7,238.5 508.4,237.2 509.1,235.8 509.6,234.4 510.1,233 510.5,231.6 511,230.1 511.4,228.7 511.9,227.3 512.4,225.8 512.9,224.4 513.3,223 513.9,221.6 514.4,220.2 514.9,218.8 515.4,217.4 516,216 516.5,214.6 517.2,213.2 518,211.9 518.8,210.7 519.8,209.6 520.9,208.6 522.1,207.7 523.5,206.9 524.8,206.4 526.3,205.9 527.7,205.6 529.2,205.4 530.7,205.2 532.2,205.1 533.8,205 535.3,204.9 536.7,204.7 538.1,204.1 539.4,203.3 540.7,202.6 542,201.8 543.2,201 544.5,200.2 545.7,199.3 547,198.5 548.2,197.6 549.4,196.7 550.5,195.7 551.7,194.7 552.8,193.8 554,192.9 555.2,192 556.5,191.2 557.7,190.4 559,189.6 560.3,188.8 561.6,188.1 562.9,187.3 564.2,186.6 565.6,185.9 566.9,185.2 568.2,184.5 569.6,183.9 570.9,183.2 572.3,182.6 573.6,182 575,181.4 576.4,180.8 577.8,180.2 579.2,179.7 580.6,179.3 582.1,178.8 583.5,178.4 585,178 586.4,177.7 587.9,177.4 589.4,177.1 590.9,176.8 592.3,176.6 593.8,176.4 595.3,176.2 596.8,176 598.3,175.9 599.8,175.7 601.3,175.6 602.8,175.4 604.3,175.3 605.8,175.2 607.2,175 608.7,174.9 610.2,174.8 611.7,174.7 613.2,174.6 614.7,174.5 616.2,174.4 617.7,174.3 619.2,174.2 620.7,174.1 622.2,174.1 623.7,174 625.2,174 626.7,173.9 628.2,173.9 629.7,173.9 631.2,173.8 632.7,173.8 634.2,173.8 635.7,173.8 637.2,173.7 638.7,173.7 640.2,173.7 641.7,173.7 643.2,173.7 644.7,173.6 646.2,173.6 647.7,173.6 649.2,173.6 650.7,173.6 652.2,173.6 653.7,173.6 655.2,173.6 656.7,173.6 658.2,173.6 659.7,173.7 661.2,173.7 662.7,173.7 664.2,173.7 665.7,173.8 667.2,173.8 668.7,173.8 670.2,173.9 671.7,173.9 673.2,173.9 674.7,174 676.2,174 677.7,174 679.2,174.1 680.7,174.1 682.2,174.1 683.7,174.2 685.2,174.2 686.7,174.2 688.2,174.3 689.7,174.3 691.2,174.3 692.7,174.4 694.2,174.4 695.7,174.4 697.2,174.4 698.7,174.5 700.2,174.5 701.7,174.6 703.2,174.6 704.7,174.6 706.2,174.7 707.7,174.7 709.2,174.7 710.7,174.8 712.2,174.8 713.7,174.8 715.2,174.9 716.7,174.9 718.2,175 719.7,175 721.2,175 722.7,175.1 724.2,175.1 725.7,175.2 727.2,175.2 728.7,175.2 730.2,175.3 731.7,175.3 733.2,175.4 734.7,175.4 736.2,175.5 737.7,175.5 739.2,175.6 740.7,175.6 742.2,175.7 743.7,175.7 745.2,175.7 746.7,175.8 748.2,175.8 749.7,175.9 751.2,175.9 752.7,176 754.2,176 755.7,176 757.2,176.1 758.7,176.1 760.2,176.2 761.7,176.2 763.2,176.3 764.7,176.3 766.2,176.4 767.7,176.4 769.2,176.4 770.7,176.5 772.2,176.5 773.7,176.6 775.2,176.6 776.7,176.6 778.2,176.7 779.7,176.7 781.2,176.8 782.7,176.8 784.2,176.8 785.7,176.9 787.2,176.9 788.7,176.9 790.2,176.9 791.7,177 793.2,177 794.7,177 796.2,177.1 797.7,177.1 799.2,177.1 800.7,177.1 802.2,177.1 803.7,177.2 805.2,177.2 806.7,177.2 808.2,177.2 809.7,177.2 811.2,177.2 812.7,177.2 814.2,177.1 815.7,177 817.2,177 818.7,176.9 820.2,176.8 821.7,176.7 823.2,176.5 824.6,176.4 826.1,176.1 827.6,175.9 829.1,175.6 830.6,175.3 832,175 833.5,174.6 834.9,174.3 836.4,173.9 837.8,173.5 839.3,173.1 840.7,172.7 842.2,172.2 843.6,171.8 845,171.4 846.5,170.9 847.9,170.5 849.4,170.2 850.8,169.8 852.3,169.4 853.7,169.1 855.2,168.7 856.6,168.3 858.1,167.9 859.5,167.6 861,167.2 862.4,166.8 863.9,166.4 865.3,166 866.8,165.7 868.2,165.3 869.7,164.9 871.2,164.6 872.6,164.3 874.1,164 875.6,163.7 877,163.4 878.5,163.1 880,162.8 881.5,162.5 882.9,162.3 884.4,162 885.9,161.8 887.4,161.5 888.9,161.3 890.3,161.1 891.8,160.9 893.3,160.7 894.8,160.5 896.3,160.3 897.8,160.1 899.3,160 900.8,159.8 902.3,159.7 903.8,159.6 905.3,159.5 906.8,159.4 908.3,159.3 909.8,159.2 911.2,159.2 912.7,159.2 914.2,159.2 915.7,159.3 917.2,159.4 918.7,159.4 920.2,159.5 921.7,159.6 923.2,159.7 924.7,159.8 926.2,159.9 927.7,159.9 929.2,160 930.7,160.1 932.2,160.2 933.7,160.3 935.2,160.4 936.7,160.5 938.2,160.6 939.7,160.7 941.2,160.8 942.7,160.9 944.2,161 945.7,161.1 947.2,161.2 948.7,161.2 950.2,161.3 951.7,161.4 953.2,161.5 954.7,161.6 956.2,161.7 957.7,161.8 959.2,161.8 960.7,161.9 962.2,162 963.7,162.1 965.2,162.2 966.7,162.3 968.2,162.3 969.7,162.4 971.2,162.5 972.7,162.6 974.2,162.7 975.7,162.7 977.1,162.8 978.6,162.9 980.1,163 981.6,163.1 983.1,163.1 984.6,163.2 986.1,163.3 987.6,163.4 989.1,163.4 990.6,163.5 992.1,163.6 993.6,163.6 995.1,163.7 996.6,163.8 998.1,163.9 999.6,163.9 1001.1,164 1002.6,164.1 1004.1,164.1 1005.6,164.2 1007.1,164.2 1008.6,164.3 1010.1,164.4 1011.6,164.4 1013.1,164.5 1014.6,164.5 1016.1,164.6 1017.6,164.6 1019.1,164.7 1020.6,164.7 1022.1,164.8 1023.6,164.8 1025.1,164.9 1026.6,164.9 1028.1,165 1029.6,165.1 1031.1,165.1 1032.6,165.2 1034.1,165.3 1035.6,165.4 1037.1,165.5 1038.6,165.6 1040.1,165.7 1041.6,165.8 1043.1,165.9 1044.6,166 1046.1,166.1 1047.6,166.2 1049.1,166.3 1050.6,166.4 1052.1,166.5 1053.5,166.6 1055,166.7 1056.5,166.8 1058,166.9 1059.5,167.1 1061,167.2 1062.5,167.3 1064,167.4 1065.5,167.5 1067,167.6 1068.5,167.7 1070,167.9 1071.5,168 1073,168.1 1074.5,168.2 1076,168.3 1077.5,168.4 1079,168.5 1080.5,168.6 1082,168.7 1083.5,168.8 1085,169 1086.5,169.1 1088,169.2 1089.5,169.3 1090.9,169.4 1092.4,169.5 1093.9,169.6 1095.4,169.7 1096.9,169.8 1098.4,169.9 1099.9,170 1101.4,170.1 1102.9,170.2 1104.4,170.3 1105.9,170.4 1107.4,170.6 1108.9,170.7 1110.4,170.8 1111.9,170.9 1113.4,171 1114.9,171.1 1116.4,171.2 1117.9,171.3 1119.4,171.5 1120.9,171.6 1122.4,171.7 1123.9,171.8 1125.4,171.9 1126.9,172 1128.3,172.1 1129.8,172.3 1131.3,172.4 1132.8,172.5 1134.3,172.6 1135.8,172.7 1137.3,172.9 1138.8,173 1140.3,173.1 1141.8,173.2 1143.3,173.4 1144.8,173.5 1146.3,173.6 1147.8,173.8 1149.3,173.9 1150.8,174.1 1152.3,174.2 1153.7,174.4 1155.2,174.5 1156.7,174.7 1158.2,174.8 1159.7,175 1161.2,175.1 1162.7,175.3 1164.2,175.5 1165.7,175.7 1167.2,175.8 1168.7,176 1170.2,176.2 1171.6,176.4 1173.1,176.6 1174.6,176.8 1176.1,177 1177.6,177.2 1179.1,177.4 1180.6,177.6 1182,177.8 1183.5,178 1185,178.3 1186.5,178.5 1188,178.8 1189.4,179 1190.9,179.3 1192.4,179.6 1193.9,179.8 1195.3,180.1 1196.8,180.4 1198.3,180.7 1199.8,181 1201.2,181.3 1202.7,181.6 1204.2,182 1205.6,182.3 1207.1,182.6 1208.5,182.9 1210,183.3 1211.5,183.7 1212.9,184 1214.4,184.4 1215.8,184.8 1217.3,185.2 1218.7,185.6 1220.1,186 1221.6,186.5 1223,186.9 1224.4,187.4 1225.9,187.9 1227.3,188.3 1228.7,188.9 1230.1,189.4 1231.5,189.9 1232.9,190.5 1234.3,191 1235.6,191.6 1237,192.3 1238.4,192.9 1239.7,193.6 1241.1,194.2 1242.4,194.9 1243.7,195.6 1245,196.4 1246.4,197.1 1247.7,197.8 1249,198.5 1250.3,199.2 1251.7,199.9 1253,200.7 1254.2,201.5 1255.4,202.3 1256.6,203.2 1257.8,204.2 1258.9,205.3 1259.9,206.3 1260.9,207.4 1261.9,208.6 1262.7,209.8 1263.6,211.1 1264.3,212.4 1265,213.7 1265.6,215.1 1266.3,216.5 1266.9,217.8 1267.5,219.2 1268,220.6 1268.5,222 1268.9,223.5 1269.3,224.9 1269.7,226.4 1270,227.8 1270.4,229.3 1270.7,230.8 1270.9,232.2 1271.1,233.7 1271.2,235.2 1271.3,236.7 1271.3,238.2 1271.3,239.7 1271.3,241.2 1271.3,242.7 1271.3,244.2 1271.3,245.7 1271.3,247.2 1271.3,248.7 1271.3,250.2 1271.3,251.7 1271.3,253.2 1271.3,254.7 1271.3,256.2 1271.3,257.7 1271.3,259.2 1271.3,260.7 1271.3,262.2 1271.3,263.7 1271.3,265.2 1271.3,266.7 1271.3,268.2 1271.3,269.7 1271.3,271.2 1271.3,272.7 1271.3,274.2 1271.3,275.7 1271.3,277.2 1271.3,278.7 1271.3,280.2 1271.3,281.7 1271.3,283.2 1271.3,284.7 1271.3,286.2 1271.3,287.7 1271.3,289.2 1271.3,290.7 1271.3,292.2 1271.3,293.7 1271.3,295.2 1271.3,296.7 1271.3,298.2 1271.3,299.7 1271.3,301.2 1271.3,302.7 1271.3,304.2 1271.3,305.7 1271.3,307.2 1271.3,308.7 1271.3,310.2 1271.3,311.7 1271.3,313.2 1271.3,314.7 1271.3,316.2 1271.3,317.7 1271.3,319.2 1271.3,320.7 1271.3,322.2 1271.3,323.7 1271.3,325.2 1271.3,326.7 1271.3,328.2 1271.3,329.7 1271.3,330" stroke="#f00" stroke-width="2.78"/>
<polygon points="409.5,251.8 411.0,252.0 412.5,252.1 414.0,252.3 415.5,252.5 417.0,252.7 418.5,252.8 420.0,253.0 421.5,253.0 423.0,253.0 424.5,253.0 426.0,253.0 427.5,253.0 429.0,253.0 430.5,253.1 432.0,253.1 433.5,253.1 435.0,253.1 436.5,253.1 438.0,253.1 439.5,253.1 441.0,253.1 442.5,253.1 444.0,253.1 445.5,253.1 447.0,253.2 448.5,253.2 450.0,253.2 451.5,253.2 453.0,253.2 454.5,253.2 456.0,253.2 457.5,253.2 459.0,253.2 460.5,253.2 462.0,253.2 463.5,253.2 465.0,253.2 466.5,253.2 468.0,253.3 469.5,253.3 471.0,253.3 472.5,253.3 474.0,253.3 475.5,253.3 477.0,253.3 478.5,253.3 480.0,253.3 481.5,253.3 483.0,253.3 484.5,253.3 486.0,253.3 487.5,253.3 489.0,253.3 490.5,253.3 492.1,253.3 493.7,253.2 495.3,253.2 497.0,253.1 499.1,252.9 501.2,252.5 503.2,252.0 505.3,251.3 507.7,250.2 510.1,248.4 512.1,246.4 513.4,244.6 514.4,243.0 515.4,241.2 516.3,239.4 517.0,237.6 517.6,235.8 518.1,234.2 518.5,232.9 518.9,231.5 519.4,230.1 519.9,228.8 520.3,227.4 520.8,226.0 521.3,224.7 521.8,223.3 522.3,221.9 522.8,220.5 523.3,219.3 523.7,218.3 524.1,217.4 524.6,216.6 525.0,216.0 525.4,215.5 525.9,215.1 526.4,214.7 527.0,214.3 527.5,214.1 528.2,213.8 529.2,213.6 530.2,213.3 531.4,213.2 532.8,213.0 534.3,212.9 536.1,212.7 538.6,212.2 541.3,211.2 543.1,210.1 544.4,209.3 545.9,208.4 547.2,207.5 548.5,206.6 549.8,205.7 551.1,204.7 552.5,203.7 553.8,202.6 555.1,201.5 556.2,200.5 557.2,199.6 558.1,198.9 559.1,198.1 560.2,197.3 561.3,196.6 562.5,195.8 563.7,195.1 564.9,194.3 566.1,193.6 567.4,192.9 568.7,192.2 562.5,180.5 561.1,181.2 559.7,181.9 558.3,182.6 556.9,183.4 555.5,184.2 554.1,185.0 552.7,185.8 551.3,186.7 549.9,187.7 548.4,188.7 547.1,189.8 545.9,190.8 544.9,191.6 543.9,192.3 542.9,193.1 541.7,193.8 540.5,194.6 539.3,195.3 538.1,196.1 537.0,196.7 535.7,197.4 534.8,197.9 534.8,197.9 534.4,197.9 533.2,197.9 531.7,198.0 530.1,198.0 528.2,198.2 526.3,198.5 524.3,198.9 522.2,199.4 520.0,200.4 517.9,201.5 516.0,202.8 514.2,204.5 512.6,206.2 511.3,208.0 510.3,209.9 509.3,211.7 508.6,213.5 508.0,215.0 507.5,216.4 507.0,217.8 506.4,219.3 505.9,220.8 505.4,222.2 504.9,223.7 504.4,225.2 503.9,226.6 503.4,228.1 503.0,229.7 502.6,231.0 502.2,232.1 501.8,233.0 501.4,233.9 500.9,234.8 500.3,235.7 499.8,236.4 499.7,236.6 499.8,236.4 499.4,236.6 498.7,236.9 497.7,237.1 496.9,237.3 496.0,237.3 494.7,237.4 493.3,237.5 491.9,237.5 490.5,237.5 489.0,237.5 487.5,237.5 486.0,237.5 484.5,237.5 483.0,237.5 481.5,237.5 480.0,237.5 478.5,237.5 477.0,237.5 475.5,237.5 474.0,237.5 472.5,237.5 471.0,237.5 469.5,237.5 468.0,237.5 466.5,237.4 465.0,237.4 463.5,237.4 462.0,237.4 460.5,237.4 459.0,237.4 457.5,237.4 456.0,237.4 454.5,237.4 453.0,237.4 451.5,237.4 450.0,237.4 448.5,237.4 447.0,237.4 445.5,237.3 444.0,237.3 442.5,237.3 441.0,237.3 439.5,237.3 438.0,237.3 436.5,237.3 435.0,237.3 433.5,237.3 432.0,237.3 430.5,237.3 429.0,237.2 427.5,237.2 426.0,237.2 424.5,237.2 423.0,237.2 421.5,237.2 420.0,237.2 418.5,237.3 417.0,237.5 415.5,237.7 414.0,237.8 412.5,238.0 411.0,238.1 409.5,238.3" fill="#0a0000" stroke="none"/>
<polyline points="249,244.6 267,244.6 288.7,244.6 307,244.6 319.5,244.6 331.5,244.6 342.5,244.7 350,244.7 356.5,244.7 362,244.8 366.8,244.8 371.1,244.8 375,244.8 378.5,244.8 381.7,244.8 384.5,244.8 387.2,244.9 389.6,244.9 391.8,244.9 393.9,244.9 395.9,244.9 397.7,244.9 399.5,244.9 401.1,244.9 402.6,244.9 404.1,244.9 405.5,244.9 406.8,244.9 408.1,244.9 409.2,244.9 410.2,244.9 411.2,244.9 412.1,245" stroke="none" marker-start="url(#mh)" marker-mid="url(#mh)" marker-end="url(#mh)"/>
<polyline points="412.8,245 413.5,245 414.1,245 414.6,245" stroke="none" marker-start="url(#mhj)" marker-mid="url(#mhj)" marker-end="url(#mhj)"/>
<polyline points="415,245 415.4,245 415.8,245 416.2,245 416.5,245 416.8,245 417,245 417.3,245 417.5,245 417.8,245 418,245 418.3,245 418.5,245 418.8,245 419,245 419.3,245 419.5,245 419.8,245 420,245 420.3,245 420.5,245 420.8,245 421,245 421.3,245 421.5,245 421.8,245 422,245 422.3,245 422.5,245 422.8,245 423,245 423.3,245 423.5,245 423.8,245 424,245 424.3,245 424.5,245 424.8,245 425,245 425.3,245 425.5,245 425.8,245 426,245 426.3,245 426.5,245 426.8,245 427,245 427.3,245 427.5,245 427.8,245 428,245 428.3,245 428.5,245 428.8,245 429,245 429.3,245 429.5,245 429.8,245.1 430,245.1 430.3,245.1 430.5,245.1 430.8,245.1 431,245.1 431.3,245.1 431.5,245.1 431.8,245.1 432,245.1 432.3,245.1 432.5,245.1 432.8,245.1 433,245.1 433.3,245.1 433.5,245.1 433.8,245.1 434,245.1 434.3,245.1 434.5,245.1 434.8,245.1 435,245.1 435.3,245.1 435.5,245.1 435.8,245.1 436,245.1 436.3,245.1 436.5,245.1 436.8,245.1 437,245.1 437.3,245.1 437.5,245.1 437.8,245.1 438,245.1 438.3,245.1 438.5,245.1 438.8,245.1 439,245.1 439.3,245.1 439.5,245.1 439.8,245.1 440,245.1 440.3,245.1 440.5,245.1 440.8,245.1 441,245.1 441.3,245.1 441.5,245.1 441.8,245.1 442,245.1 442.3,245.1 442.5,245.1 442.8,245.1 443,245.1 443.3,245.1 443.5,245.1 443.8,245.1 444,245.1 444.3,245.1 444.5,245.1 444.8,245.1 445,245.1 445.3,245.1 445.5,245.1 445.8,245.1 446,245.1 446.3,245.1 446.5,245.1 446.8,245.2 447,245.2 447.3,245.2 447.5,245.2 447.8,245.2 448,245.2 448.3,245.2 448.5,245.2 448.8,245.2 449,245.2 449.3,245.2 449.5,245.2 449.8,245.2 450,245.2 450.3,245.2 450.5,245.2 450.8,245.2 451,245.2 451.3,245.2 451.5,245.2 451.8,245.2 452,245.2 452.3,245.2 452.5,245.2 452.8,245.2 453,245.2 453.3,245.2 453.5,245.2 453.8,245.2 454,245.2 454.3,245.2 454.5,245.2 454.8,245.2 455,245.2 455.3,245.2 455.5,245.2 455.8,245.2 456,245.2 456.3,245.2 456.5,245.2 456.8,245.2 457,245.2 457.3,245.2 457.5,245.2 457.8,245.2 458,245.2 458.3,245.2 458.5,245.2 458.8,245.2 459,245.2 459.3,245.2 459.5,245.2 459.8,245.2 460,245.2 460.3,245.2 460.5,245.2 460.8,245.2 461,245.2 461.3,245.2 461.5,245.2 461.8,245.2 462,245.2 462.3,245.2 462.5,245.2 462.8,245.2 463,245.2 463.3,245.2 463.5,245.2 463.8,245.2 464,245.2 464.3,245.2 464.5,245.2 464.8,245.2 465,245.2 465.3,245.2 465.5,245.2 465.8,245.2 466,245.2 466.3,245.2 466.5,245.2 466.8,245.2 467,245.3 467.3,245.3 467.5,245.3 467.8,245.3 468,245.3 468.3,245.3 468.5,245.3 468.8,245.3 469,245.3 469.3,245.3 469.5,245.3 469.8,245.3 470,245.3 470.3,245.3 470.5,245.3 470.8,245.3 471,245.3 471.3,245.3 471.5,245.3 471.8,245.3 472,245.3 472.3,245.3 472.5,245.3 472.8,245.3 473,245.3 473.3,245.3 473.5,245.3 473.8,245.3 474,245.3 474.3,245.3 474.5,245.3 474.8,245.3 475,245.3 475.3,245.3 475.5,245.3 475.8,245.3 476,245.3 476.3,245.3 476.5,245.3 476.8,245.3 477,245.3 477.3,245.3 477.5,245.3 477.8,245.3 478,245.3 478.3,245.3 478.5,245.3 478.8,245.3 479,245.3 479.3,245.3 479.5,245.3 479.8,245.3 480,245.3 480.3,245.3 480.5,245.3 480.8,245.3 481,245.3 481.3,245.3 481.5,245.3 481.8,245.3 482,245.3 482.3,245.3 482.5,245.3 482.8,245.3 483,245.3 483.3,245.3 483.5,245.3 483.8,245.3 484,245.3 484.3,245.3 484.5,245.3 484.8,245.3 485,245.3 485.3,245.3 485.5,245.3 485.8,245.3 486,245.3 486.3,245.3 486.5,245.3 486.8,245.3 487,245.3 487.3,245.3 487.5,245.3 487.8,245.3 488,245.3 488.3,245.3 488.5,245.3 488.8,245.3 489,245.3 489.3,245.3 489.5,245.3 489.8,245.3 490,245.3 490.3,245.3 490.5,245.3 490.8,245.3 491,245.3 491.3,245.3 491.5,245.3 491.8,245.3 492,245.3 492.3,245.3 492.5,245.3 492.8,245.3 493,245.3 493.3,245.3 493.5,245.2 493.8,245.2 494,245.2 494.3,245.2 494.5,245.2 494.8,245.2 495,245.2 495.3,245.2 495.5,245.2 495.8,245.2 496,245.1 496.3,245.1 496.5,245.1 496.8,245.1 497,245.1 497.3,245.1 497.5,245.1 497.8,245 498,245 498.3,245 498.5,244.9 498.8,244.9 499,244.8 499.3,244.7 499.5,244.7 499.8,244.6 500,244.6 500.3,244.5 500.5,244.4 500.8,244.4 501,244.3 501.3,244.2 501.5,244.1 501.8,244.1 502,244 502.3,243.9 502.5,243.8 502.8,243.7 503,243.6 503.3,243.4 503.5,243.3 503.8,243.2 504,243 504.3,242.9 504.5,242.7 504.8,242.5 505,242.3 505.3,242 505.5,241.7 505.8,241.4 506,241.1 506.3,240.8 506.5,240.5 506.8,240.1 507,239.7" stroke="none" marker-start="url(#mhk)" marker-mid="url(#mhk)" marker-end="url(#mhk)"/>
<polyline points="507.3,239.4 507.5,239 507.8,238.6 508,238.1 508.3,237.7 508.5,237.2 508.8,236.7 509,236.1 509.3,235.6" stroke="none" marker-start="url(#mhj)" marker-mid="url(#mhj)" marker-end="url(#mhj)"/>
<polyline points="509.5,235 509.8,234.2 510,233.5 510.3,232.6 510.5,231.8 510.8,231 511,230.2 511.3,229.4 511.5,228.7 511.8,227.9 512,227.1 512.3,226.4 512.5,225.6 512.8,224.9 513,224.2 513.3,223.5 513.5,222.8 513.8,222.1 514,221.4" stroke="none" marker-start="url(#mh)" marker-mid="url(#mh)" marker-end="url(#mh)"/>
<polyline points="514.3,220.7 514.5,220 514.8,219.4 515,218.7 515.3,218 515.5,217.4 515.8,216.7 516,216 516.3,215.4 516.5,214.8 516.8,214.3 517,213.8 517.3,213.4 517.5,212.9 517.8,212.5 518,212.1" stroke="none" marker-start="url(#mhj)" marker-mid="url(#mhj)" marker-end="url(#mhj)"/>
<polyline points="518.3,211.7 518.5,211.4 518.8,211.1 519,210.8 519.3,210.5 519.5,210.2 519.8,209.9 520,209.7 520.3,209.4 520.5,209.2 520.8,209 521,208.8 521.3,208.6 521.5,208.4 521.8,208.2 522,208.1 522.3,207.9 522.5,207.8 522.8,207.6 523,207.5 523.3,207.3 523.5,207.2 523.8,207.1 524,207 524.3,206.9 524.5,206.8 524.8,206.7 525,206.6 525.3,206.5 525.5,206.4 525.8,206.4 526,206.3 526.3,206.2 526.5,206.2 526.8,206.1 527,206.1 527.3,206 527.5,205.9 527.8,205.9 528,205.9 528.3,205.8 528.5,205.8 528.8,205.7 529,205.7 529.3,205.7 529.5,205.6 529.8,205.6 530,205.6 530.3,205.6 530.5,205.5 530.8,205.5 531,205.5 531.3,205.5 531.5,205.5 531.8,205.4 532,205.4 532.3,205.4 532.5,205.4 532.8,205.4 533,205.4 533.3,205.3 533.5,205.3 533.8,205.3 534,205.3 534.3,205.3 534.5,205.2 534.8,205.2 535,205.2 535.3,205.2 535.5,205.1 535.8,205.1 536,205.1 536.3,205 536.5,205 536.8,204.9 537,204.9 537.3,204.8 537.5,204.7 537.8,204.6 538,204.4 538.3,204.3 538.5,204.2 538.8,204 539,203.9 539.3,203.7 539.5,203.6 539.8,203.4 540,203.3 540.3,203.1 540.5,203 540.8,202.9 541,202.7 541.3,202.6 541.5,202.4 541.8,202.2 542,202.1 542.3,201.9 542.5,201.8 542.8,201.6 543,201.4 543.3,201.3 543.5,201.1 543.8,200.9 544,200.8 544.3,200.6 544.5,200.4 544.8,200.3 545,200.1 545.3,200 545.5,199.8 545.8,199.6 546.1,199.4 546.4,199.2 546.6,199 546.9,198.8 547.2,198.6 547.5,198.4 547.8,198.2 548.2,197.9 548.5,197.7 548.8,197.4" stroke="none" marker-start="url(#mhk)" marker-mid="url(#mhk)" marker-end="url(#mhk)"/>
<polyline points="549.2,197.2 549.5,196.9 549.9,196.6 550.3,196.2 550.7,195.9 551,195.6 551.4,195.2 551.9,194.9 552.3,194.5 552.7,194.1 553.2,193.8 553.6,193.4 554.1,193.1 554.6,192.8 555,192.4 555.5,192.1 556.1,191.7 556.6,191.4 557.1,191.1 557.6,190.7 558.2,190.4 558.8,190 559.3,189.7 559.9,189.3 560.5,189 561.1,188.6" stroke="none" marker-start="url(#mhj)" marker-mid="url(#mhj)" marker-end="url(#mhj)"/>
<polyline points="561.8,188.3 562.4,187.9 563,187.6 563.7,187.2 564.4,186.9 565.1,186.5 565.8,186.1 566.5,185.8 567.1,185.4 567.8,185 568.5,184.7 569.2,184.4 569.9,184 570.5,183.7 571.2,183.4" stroke="none" marker-start="url(#mh)" marker-mid="url(#mh)" marker-end="url(#mh)"/>
<polyline points="571.9,183.1 572.5,182.8 573.2,182.5 573.8,182.2 574.4,181.9 575.1,181.6 575.7,181.4 576.3,181.1 577,180.9 577.6,180.6 578.2,180.4 578.8,180.2 579.4,180 580,179.8 580.6,179.6 581.2,179.4 581.8,179.2 582.4,179 583,178.8 583.6,178.7 584.2,178.5 584.8,178.3 585.4,178.2 586,178.1 586.6,177.9 587.2,177.8 587.8,177.7 588.4,177.6 589,177.5 589.6,177.3 590.2,177.2 590.8,177.1 591.4,177 592,176.9 592.6,176.9 593.2,176.8 593.8,176.7 594.4,176.6 595,176.5 595.6,176.5 596.2,176.4 596.8,176.3 597.4,176.3 598,176.2 598.6,176.1 599.2,176.1" stroke="none" marker-start="url(#mhj)" marker-mid="url(#mhj)" marker-end="url(#mhj)"/>
<polyline points="599.9,176 600.9,175.9 602.4,175.8 604.3,175.6 606.4,175.4 608.6,175.2 610.7,175.1 612.9,174.9 614.9,174.8 617,174.6 619,174.5" stroke="none" marker-start="url(#mh)" marker-mid="url(#mh)" marker-end="url(#mh)"/>
<polyline points="620.4,174.4 621,174.4 621.5,174.4 622,174.4 622.5,174.4 623,174.3 623.5,174.3 624,174.3 624.5,174.3 625,174.3 625.5,174.3 626,174.2 626.5,174.2 627,174.2 627.5,174.2 628,174.2 628.5,174.2 629,174.2" stroke="none" marker-start="url(#mhj)" marker-mid="url(#mhj)" marker-end="url(#mhj)"/>
<polyline points="629.5,174.2 630.7,174.1 635,174.1 640.8,174 652.1,173.9 663.9,174 675.8,174.3 689.7,174.6 703.5,174.9 715.2,175.2 725.9,175.5 738.7,175.8 750.7,176.2 761,176.5 769.5,176.8 777.3,177 784.5,177.1 790.5,177.2 801.5,177.4 809,177.5 814,177.4 818.5,177.2 822.5,176.9 826.5,176.4 831.6,175.4 834.4,174.7 837,174 839.3,173.4 840.7,173 842,172.6 843,172.3 844.5,171.8 846,171.4 847,171.1 848,170.8 849,170.5 850.1,170.3 851.1,170 852.2,169.7 853.2,169.5 854.3,169.2 855.3,168.9 856.4,168.7 857.4,168.4 858.5,168.1 859.5,167.9 860.6,167.6 861.6,167.3 862.7,167 863.7,166.8 864.8,166.5 865.8,166.2 866.9,165.9 867.9,165.7 869,165.4 870,165.2 871.1,164.9 872.1,164.7 873.2,164.5 874.2,164.2 875.3,164 876.3,163.8 877.4,163.6 878.4,163.4 879.5,163.2 880.5,163 881.6,162.8 882.6,162.6 883.7,162.5 884.7,162.3 885.8,162.1 886.8,161.9 887.9,161.8 888.9,161.6 890,161.4 891,161.3 892.1,161.1 893.1,161 894.2,160.9 895.7,160.7 897.5,160.4 900.1,160.2 903.7,159.9 909,159.5 915.6,159.6 922.5,160 929.4,160.3 936.3,160.8 943,161.2 949.7,161.6 956.3,162 962.8,162.3 969.2,162.7 975.4,163 981.3,163.3 987,163.6 992.5,163.9 997.8,164.1 1002.9,164.4 1007.8,164.6 1012.5,164.7 1017.2,164.9 1021.6,165 1026,165.2 1030.2,165.4 1034.3,165.6 1038.3,165.9 1042.1,166.1 1045.9,166.4 1049.6,166.6 1053.2,166.9 1056.7,167.1 1060.2,167.4 1063.6,167.7 1066.9,167.9 1070.2,168.2 1073.4,168.4 1076.5,168.6 1079.6,168.9 1082.6,169.1 1085.5,169.3 1088.4,169.5 1091.3,169.7 1094.1,169.9 1096.8,170.1 1099.5,170.3 1102.2,170.5 1104.8,170.7 1107.4,170.8 1109.9,171 1112.4,171.2 1114.8,171.4 1117.2,171.6 1119.6,171.8 1121.9,171.9 1124.1,172.1 1126.4,172.3 1128.5,172.5 1130.7,172.6 1132.8,172.8 1134.9,173 1136.9,173.1 1138.9,173.3 1140.9,173.5 1142.8,173.6 1144.7,173.8 1146.6,174 1148.4,174.1 1150.2,174.3 1152,174.5 1153.7,174.7 1155.5,174.8 1157.1,175 1158.8,175.2 1160.4,175.4 1162,175.5 1163.6,175.7 1165.2,175.9 1166.7,176.1 1168.3,176.3 1169.8,176.4 1171.3,176.6 1172.8,176.8 1174.3,177 1175.8,177.2 1177.2,177.4 1178.7,177.6 1180.1,177.8 1181.5,178 1182.9,178.2 1184.3,178.5 1185.7,178.7 1187.1,178.9 1188.5,179.2 1189.8,179.4 1191.2,179.6 1192.5,179.9 1193.8,180.1 1195.1,180.4 1196.4,180.6 1197.7,180.9 1198.9,181.2 1200.2,181.4 1201.5,181.7 1202.7,181.9 1203.9,182.2 1205.1,182.5 1206.3,182.7 1207.5,183 1208.7,183.3 1209.8,183.6 1211,183.8 1212.1,184.1 1213.3,184.4 1214.4,184.7 1215.5,185 1216.6,185.3 1217.7,185.6 1218.7,185.9 1219.8,186.2 1220.9,186.6 1221.9,186.9 1222.9,187.2 1224,187.5 1225,187.9 1226,188.2 1226.9,188.5 1227.9,188.9 1228.9,189.2 1229.8,189.6 1230.8,189.9 1231.7,190.3 1232.6,190.6 1233.5,191 1234.4,191.4 1235.3,191.8 1236.1,192.2 1237,192.5 1237.8,192.9 1238.6,193.3 1239.5,193.7 1240.3,194.2 1241.1,194.6 1241.8,195 1242.6,195.4 1243.4,195.8 1244.1,196.1 1244.8,196.5 1245.5,196.9 1246.2,197.3 1246.9,197.6 1247.5,198 1248.2,198.4" stroke="none" marker-start="url(#mh)" marker-mid="url(#mh)" marker-end="url(#mh)"/>
<polyline points="1248.8,198.7 1249.4,199" stroke="none" marker-start="url(#mhj)" marker-mid="url(#mhj)" marker-end="url(#mhj)"/>
<polyline points="1250.3,199.5 1250.6,199.7 1250.9,199.8 1251.1,199.9 1251.4,200.1 1251.6,200.2 1251.9,200.4 1252.2,200.5 1252.4,200.7 1252.7,200.8 1252.9,201 1253.2,201.1 1253.5,201.3 1253.7,201.5 1254,201.6 1254.2,201.8 1254.5,201.9 1254.7,202.1 1255,202.3 1255.2,202.5 1255.4,202.6 1255.7,202.8 1255.9,203 1256.2,203.2 1256.4,203.4 1256.6,203.5 1256.9,203.7 1257.1,203.9 1257.3,204.1 1257.5,204.3 1257.8,204.5 1258,204.7 1258.2,204.9 1258.4,205.1 1258.7,205.3 1258.9,205.5 1259.1,205.8 1259.3,206 1259.5,206.2 1259.7,206.4 1259.9,206.6 1260.1,206.8 1260.3,207.1 1260.5,207.3 1260.7,207.5 1260.9,207.7 1261.1,208 1261.3,208.2 1261.5,208.4 1261.7,208.7 1261.9,208.9 1262,209.2 1262.2,209.4 1262.4,209.6 1262.6,209.9 1262.7,210.1 1262.9,210.4 1263.1,210.6 1263.2,210.9 1263.4,211.1 1263.5,211.4 1263.7,211.6 1263.8,211.9 1264,212.2 1264.1,212.4 1264.3,212.7 1264.4,213 1264.6,213.2 1264.7,213.5 1264.8,213.8 1265,214 1265.1,214.3 1265.2,214.6 1265.4,214.8 1265.5,215.1 1265.6,215.4 1265.8,215.6 1265.9,215.9 1266,216.2 1266.1,216.5 1266.2,216.7 1266.4,217 1266.5,217.3 1266.6,217.6 1266.7,217.8 1266.9,218.1 1267,218.4 1267.1,218.7 1267.2,218.9 1267.3,219.2 1267.4,219.5 1267.6,219.8 1267.7,220 1267.8,220.3 1267.9,220.6 1268,220.9 1268.1,221.2 1268.2,221.4 1268.3,221.7 1268.4,222 1268.5,222.3 1268.6,222.6 1268.7,222.9 1268.8,223.2 1268.8,223.4 1268.9,223.7 1269,224 1269.1,224.3 1269.2,224.6 1269.2,224.9 1269.3,225.2 1269.4,225.5 1269.5,225.8 1269.5,226.1 1269.6,226.3 1269.7,226.6 1269.8,226.9 1269.8,227.2 1269.9,227.5 1270,227.8 1270,228.1 1270.1,228.4 1270.2,228.7 1270.2,229 1270.3,229.3 1270.4,229.6 1270.4,229.9 1270.5,230.1 1270.5,230.4 1270.6,230.7 1270.7,231 1270.7,231.3 1270.8,231.6 1270.8,231.9 1270.9,232.2 1270.9,232.5 1270.9,232.8 1271,233.1 1271,233.4 1271,233.7 1271.1,234 1271.1,234.3 1271.1,234.6 1271.1,234.9 1271.2,235.2 1271.2,235.5 1271.2,235.8 1271.2,236.1 1271.2,236.4 1271.2,236.7 1271.3,237 1271.3,237.3 1271.3,237.6 1271.3,237.9 1271.3,238.2 1271.3,238.5 1271.3,238.8 1271.3,239.1 1271.3,239.4 1271.3,239.7 1271.3,240 1271.3,240.3 1271.3,240.6 1271.3,240.9 1271.3,241.2 1271.3,241.5 1271.3,241.8 1271.3,242.1 1271.3,242.4 1271.3,242.7 1271.3,243 1271.3,243.3 1271.3,243.6 1271.3,243.9 1271.3,244.2 1271.3,244.5 1271.3,244.8 1271.3,245.1 1271.3,245.4 1271.3,245.7 1271.3,246 1271.3,246.3 1271.3,246.6 1271.3,246.9 1271.3,247.2 1271.3,247.5 1271.3,247.8 1271.3,248.1 1271.3,248.4 1271.3,248.7 1271.3,249 1271.3,249.3 1271.3,249.6 1271.3,249.9 1271.3,250.2 1271.3,250.5 1271.3,250.8 1271.3,251.1 1271.3,251.4 1271.3,251.7 1271.3,252 1271.3,252.3 1271.3,252.6 1271.3,252.9 1271.3,253.2 1271.3,253.5 1271.3,253.8 1271.3,254.1 1271.3,254.4 1271.3,254.7 1271.3,255 1271.3,255.3 1271.3,255.6 1271.3,255.9 1271.3,256.2 1271.3,256.5 1271.3,256.8 1271.3,257.1 1271.3,257.4 1271.3,257.7 1271.3,258 1271.3,258.3 1271.3,258.6 1271.3,258.9 1271.3,259.2 1271.3,259.5 1271.3,259.8 1271.3,260.1 1271.3,260.4 1271.3,260.7 1271.3,261 1271.3,261.3 1271.3,261.6 1271.3,261.9 1271.3,262.2 1271.3,262.5 1271.3,262.8 1271.3,263.1 1271.3,263.4 1271.3,263.7 1271.3,264 1271.3,264.3 1271.3,264.6 1271.3,264.9 1271.3,265.2 1271.3,265.5 1271.3,265.8 1271.3,266.1 1271.3,266.4 1271.3,266.7 1271.3,267 1271.3,267.3 1271.3,267.6 1271.3,267.9 1271.3,268.2 1271.3,268.5 1271.3,268.8 1271.3,269.1 1271.3,269.4 1271.3,269.7 1271.3,270 1271.3,270.3 1271.3,270.6 1271.3,270.9 1271.3,271.2 1271.3,271.5 1271.3,271.8 1271.3,272.1 1271.3,272.4 1271.3,272.7 1271.3,273 1271.3,273.3 1271.3,273.6 1271.3,273.9 1271.3,274.2 1271.3,274.5 1271.3,274.8 1271.3,275.1 1271.3,275.4 1271.3,275.7 1271.3,276 1271.3,276.3 1271.3,276.6 1271.3,276.9 1271.3,277.2 1271.3,277.5 1271.3,277.8 1271.3,278.1 1271.3,278.4 1271.3,278.7 1271.3,279 1271.3,279.3 1271.3,279.6 1271.3,279.9 1271.3,280.2 1271.3,280.5 1271.3,280.8 1271.3,281.1 1271.3,281.4 1271.3,281.7 1271.3,282 1271.3,282.3 1271.3,282.6 1271.3,282.9 1271.3,283.2 1271.3,283.5 1271.3,283.8 1271.3,284.1 1271.3,284.4 1271.3,284.7 1271.3,285 1271.3,285.3 1271.3,285.6 1271.3,285.9 1271.3,286.2 1271.3,286.5 1271.3,286.8 1271.3,287.1 1271.3,287.4 1271.3,287.7 1271.3,288 1271.3,288.3 1271.3,288.6 1271.3,288.9 1271.3,289.2 1271.3,289.5 1271.3,289.8 1271.3,290.1 1271.3,290.4 1271.3,290.7 1271.3,291 1271.3,291.3 1271.3,291.6 1271.3,291.9 1271.3,292.2 1271.3,292.5 1271.3,292.8 1271.3,293.1 1271.3,293.4 1271.3,293.7 1271.3,294 1271.3,294.3 1271.3,294.6 1271.3,294.9 1271.3,295.2 1271.3,295.5 1271.3,295.8 1271.3,296.1 1271.3,296.4 1271.3,296.7 1271.3,297 1271.3,297.3 1271.3,297.6 1271.3,297.9 1271.3,298.2 1271.3,298.5 1271.3,298.8 1271.3,299.1 1271.3,299.4 1271.3,299.7 1271.3,300 1271.3,300.3 1271.3,300.6 1271.3,300.9 1271.3,301.2 1271.3,301.5 1271.3,301.8 1271.3,302.1 1271.3,302.4 1271.3,302.7 1271.3,303 1271.3,303.3 1271.3,303.6 1271.3,303.9 1271.3,304.2 1271.3,304.5 1271.3,304.8 1271.3,305.1 1271.3,305.4 1271.3,305.7 1271.3,306 1271.3,306.3 1271.3,306.6 1271.3,306.9 1271.3,307.2 1271.3,307.5 1271.3,307.8 1271.3,308.1 1271.3,308.4 1271.3,308.7 1271.3,309 1271.3,309.3 1271.3,309.6 1271.3,309.9 1271.3,310.2 1271.3,310.5 1271.3,310.8 1271.3,311.1 1271.3,311.4 1271.3,311.7 1271.3,312 1271.3,312.3 1271.3,312.6 1271.3,312.9 1271.3,313.2 1271.3,313.5 1271.3,313.8 1271.3,314.1 1271.3,314.4 1271.3,314.7 1271.3,315 1271.3,315.3 1271.3,315.6 1271.3,315.9 1271.3,316.2 1271.3,316.5 1271.3,316.8 1271.3,317.1 1271.3,317.4 1271.3,317.7 1271.3,318 1271.3,318.3 1271.3,318.6 1271.3,318.9 1271.3,319.2 1271.3,319.5 1271.3,319.8 1271.3,320.1 1271.3,320.4 1271.3,320.7 1271.3,321 1271.3,321.3 1271.3,321.6 1271.3,321.9 1271.3,322.2 1271.3,322.5 1271.3,322.8 1271.3,323.1 1271.3,323.4 1271.3,323.7 1271.3,324 1271.3,324.3 1271.3,324.6 1271.3,324.9 1271.3,325.2 1271.3,325.5 1271.3,325.8 1271.3,326.1 1271.3,326.4 1271.3,326.7 1271.3,327 1271.3,327.3 1271.3,327.6 1271.3,327.9 1271.3,328.2 1271.3,328.5 1271.3,328.8 1271.3,329.1 1271.3,329.4 1271.3,329.7 1271.3,330 1271.3,330.3" stroke="none" marker-start="url(#mhk)" marker-mid="url(#mhk)" marker-end="url(#mhk)"/>
<polyline points="249,428 267,428 288.7,428 307,428 319.5,428 331.5,428 342.5,428 350,428 356.5,428 362,428 366.8,428 371.1,428 375,428 378.5,428 381.7,428 384.5,428 387.2,428 389.6,428 391.8,428 393.9,428 395.9,428 397.7,428 399.5,428 401.1,428 402.6,428 404.1,428 405.5,428 406.8,428 408.1,428 409.2,428 410.2,428 411.2,428 412.1,428" stroke="none" marker-start="url(#mu)" marker-mid="url(#mu)" marker-end="url(#mu)"/>
<polyline points="412.8,428 413.5,428 414.1,428 414.6,428" stroke="none" marker-start="url(#muj)" marker-mid="url(#muj)" marker-end="url(#muj)"/>
<polyline points="415,428 415.4,428 415.8,428 416.2,428 416.5,428 416.8,428 417,428 417.3,428 417.5,428 417.8,428 418,428 418.3,428 418.5,428 418.8,428 419,428 419.3,428 419.5,428 419.8,428 420,428 420.3,428 420.5,428 420.8,428 421,428 421.3,428 421.5,428 421.8,428 422,428 422.3,428 422.5,428 422.8,428 423,428 423.3,428 423.5,428 423.8,428 424,428 424.3,428 424.5,428 424.8,428 425,428 425.3,428 425.5,428 425.8,428 426,428 426.3,428 426.5,428 426.8,428 427,428 427.3,428 427.5,428 427.8,428 428,428 428.3,428 428.5,428 428.8,428 429,428 429.3,428 429.5,428 429.8,428 430,428 430.3,428 430.5,428 430.8,428 431,428 431.3,428 431.5,428 431.8,428 432,428 432.3,428 432.5,428 432.8,428 433,428 433.3,428 433.5,428 433.8,428 434,428 434.3,428 434.5,428 434.8,428 435,428 435.3,428 435.5,428 435.8,428 436,428 436.3,428 436.5,428 436.8,428 437,428 437.3,428 437.5,428 437.8,428 438,428 438.3,428 438.5,428 438.8,428 439,428 439.3,428 439.5,428 439.8,428 440,428 440.3,428 440.5,428 440.8,428 441,428 441.3,428 441.5,428 441.8,428 442,428 442.3,428 442.5,428 442.8,428 443,428 443.3,428 443.5,428 443.8,428 444,428 444.3,428 444.5,428 444.8,428 445,428 445.3,428 445.5,428 445.8,428 446,428 446.3,428 446.5,428 446.8,428 447,428 447.3,428 447.5,428 447.8,428 448,428 448.3,428 448.5,428 448.8,428 449,428 449.3,428 449.5,428 449.8,428 450,428 450.3,428 450.5,428 450.8,428 451,428 451.3,428 451.5,428 451.8,428 452,428 452.3,428 452.5,428 452.8,428 453,428 453.3,428 453.5,428 453.8,428 454,428 454.3,428 454.5,428 454.8,428 455,428 455.3,428 455.5,428 455.8,428 456,428 456.3,428 456.5,428 456.8,428 457,428 457.3,428 457.5,428 457.8,428 458,428 458.3,428 458.5,428 458.8,428 459,428 459.3,428 459.5,428 459.8,428 460,428 460.3,428 460.5,428 460.8,428 461,428 461.3,428 461.5,428 461.8,428 462,428 462.3,428 462.5,428 462.8,428 463,428 463.3,428 463.5,428 463.8,428 464,428 464.3,428 464.5,428 464.8,428 465,428 465.3,428 465.5,428 465.8,428 466,428 466.3,428 466.5,428 466.8,428 467,428 467.3,428 467.5,428 467.8,428 468,428 468.3,428 468.5,428 468.8,428 469,428 469.3,428 469.5,428 469.8,428 470,428 470.3,428 470.5,428 470.8,428 471,428 471.3,428 471.5,428 471.8,428 472,428 472.3,428 472.5,428 472.8,428 473,428 473.3,428 473.5,428 473.8,428 474,428 474.3,428 474.5,428 474.8,428 475,428 475.3,428 475.5,428 475.8,428 476,428 476.3,428 476.5,428 476.8,428 477,428 477.3,428 477.5,428 477.8,428 478,428 478.3,428 478.5,428 478.8,428 479,428 479.3,428 479.5,428 479.8,428 480,428 480.3,428 480.5,428 480.8,428 481,428 481.3,428 481.5,428 481.8,428 482,428 482.3,428 482.5,428 482.8,428 483,428 483.3,428 483.5,428 483.8,428 484,428 484.3,428 484.5,428 484.8,428 485,428 485.3,428 485.5,428 485.8,428 486,428 486.3,428 486.5,428 486.8,428 487,428 487.3,428 487.5,428 487.8,428 488,428 488.3,428 488.5,428 488.8,428 489,428 489.3,428 489.5,428 489.8,428 490,428 490.3,428 490.5,428 490.8,428 491,428 491.3,428 491.5,428 491.8,428 492,428 492.3,428 492.5,428 492.8,428 493,428 493.3,428 493.5,428 493.8,428 494,428 494.3,428 494.5,428 494.8,428 495,428 495.3,428 495.5,428 495.8,428 496,428 496.3,428 496.5,428 496.8,428 497,428 497.3,428 497.5,428 497.8,428 498,428 498.3,428 498.5,428 498.8,428 499,428 499.3,428 499.5,428 499.8,428 500,428 500.3,428 500.5,428 500.8,428 501,428 501.3,428 501.5,428 501.8,428 502,428 502.3,428 502.5,428 502.8,428 503,428 503.3,428 503.5,428 503.8,428 504,428 504.3,428 504.5,428 504.8,428 505,428 505.3,428 505.5,428 505.8,428 506,428 506.3,428 506.5,428 506.8,428 507,428 507.3,428 507.5,428 507.8,428 508,428 508.3,428 508.5,428 508.8,428 509,428 509.3,428 509.5,428 509.8,428 510,428 510.3,428 510.5,428 510.8,428 511,428 511.3,428 511.5,428 511.8,428 512,428 512.3,428 512.5,428 512.8,428 513,428 513.3,428 513.5,428 513.8,428 514,428 514.3,428 514.5,428 514.8,428 515,428 515.3,428 515.5,428 515.8,428 516,428 516.3,428 516.5,428 516.8,428 517,428 517.3,428 517.5,428 517.8,428 518,428 518.3,428 518.5,428 518.8,428 519,428 519.3,428 519.5,428 519.8,428 520,428 520.3,428 520.5,428 520.8,428 521,428 521.3,428 521.5,428 521.8,428 522,428 522.3,428 522.5,428 522.8,428 523,428 523.3,428 523.5,428 523.8,428 524,428 524.3,428 524.5,428 524.8,428 525,428 525.3,428 525.5,428 525.8,428 526,428 526.3,428 526.5,428 526.8,428 527,428 527.3,428 527.5,428 527.8,428 528,428 528.3,428 528.5,428 528.8,428 529,428 529.3,428 529.5,428 529.8,428 530,428 530.3,428 530.5,428 530.8,428 531,428 531.3,428 531.5,428 531.8,428 532,428 532.3,428 532.5,428 532.8,428 533,428 533.3,428 533.5,428 533.8,428 534,428 534.3,428 534.5,428 534.8,428 535,428 535.3,428 535.5,428 535.8,428 536,428 536.3,428 536.5,428 536.8,428 537,428 537.3,428 537.5,428 537.8,428 538,428 538.3,428 538.5,428 538.8,428 539,428 539.3,428 539.5,428 539.8,428 540,428 540.3,428 540.5,428 540.8,428 541,428 541.3,428 541.5,428 541.8,428 542,428 542.3,428 542.5,428 542.8,428 543,428 543.3,428 543.5,428 543.8,428 544,428 544.3,428 544.5,428 544.8,428 545,428 545.3,428 545.5,428 545.8,428 546.1,428 546.4,428 546.6,428 546.9,428 547.2,428 547.5,428 547.8,428 548.2,428 548.5,428 548.8,428 549.2,428 549.5,428 549.9,428 550.3,428 550.7,428 551,428 551.4,428 551.9,428 552.3,428 552.7,428" stroke="none" marker-start="url(#muk)" marker-mid="url(#muk)" marker-end="url(#muk)"/>
<polyline points="553.2,428 553.6,428 554.1,428 554.6,428 555,428 555.5,428 556.1,428 556.6,428 557.1,428 557.6,428 558.2,428 558.8,428 559.3,428 559.9,428 560.5,428 561.1,428 561.8,428 562.4,428 563,428 563.7,428 564.4,428 565.1,428 565.8,428 566.5,428 567.1,428 567.8,428 568.5,428 569.2,428 569.9,428 570.5,428 571.2,428 571.9,428 572.5,428 573.2,428 573.8,428 574.4,428 575.1,428 575.7,428 576.3,428 577,428 577.6,428 578.2,428 578.8,428 579.4,428 580,428 580.6,428 581.2,428 581.8,428 582.4,428 583,428 583.6,428 584.2,428 584.8,428 585.4,428 586,428 586.6,428 587.2,428 587.8,428 588.4,428 589,428 589.6,428 590.2,428 590.8,428 591.4,428 592,428 592.6,428 593.2,428 593.8,428 594.4,428 595,428 595.6,428 596.2,428 596.8,428 597.4,428 598,428 598.6,428 599.2,428" stroke="none" marker-start="url(#muj)" marker-mid="url(#muj)" marker-end="url(#muj)"/>
<polyline points="599.9,428 600.9,428 602.4,428 604.3,428 606.4,428 608.6,428 610.7,428 612.9,428 614.9,428 617,428 619,428" stroke="none" marker-start="url(#mu)" marker-mid="url(#mu)" marker-end="url(#mu)"/>
<polyline points="620.4,428 621,428 621.5,428 622,428 622.5,428 623,428 623.5,428 624,428 624.5,428 625,428 625.5,428 626,428 626.5,428 627,428 627.5,428 628,428 628.5,428 629,428" stroke="none" marker-start="url(#muj)" marker-mid="url(#muj)" marker-end="url(#muj)"/>
<polyline points="629.5,428 630.7,428 635,428 640.8,428 652.1,428 663.9,428 675.8,428 689.7,428 703.5,428 715.2,428 725.9,428 738.7,428 750.7,428 761,428 769.5,428 777.3,428 784.5,428 790.5,428 801.5,428 809,428 814,428 818.5,428 822.5,428 826.5,428 831.6,428 834.4,428 837,428 839.3,428 840.7,428 842,428 843,428 844.5,428 846,428 847,428 848,428 849,428 850.1,428 851.1,428 852.2,428 853.2,428 854.3,428 855.3,428 856.4,428 857.4,428 858.5,428 859.5,428 860.6,428 861.6,428 862.7,428 863.7,428 864.8,428 865.8,428 866.9,428 867.9,428 869,428 870,428 871.1,428 872.1,428 873.2,428 874.2,428 875.3,428 876.3,428 877.4,428 878.4,428 879.5,428 880.5,428 881.6,428 882.6,428 883.7,428 884.7,428 885.8,428 886.8,428 887.9,428 888.9,428 890,428 891,428 892.1,428 893.1,428 894.2,428 895.7,428 897.5,428 900.1,428 903.7,428 909,428 915.6,428 922.5,428 929.4,428 936.3,428 943,428 949.7,428 956.3,428 962.8,428 969.2,428 975.4,428 981.3,428 987,428 992.5,428 997.8,428 1002.9,428 1007.8,428 1012.5,428 1017.2,428 1021.6,428 1026,428 1030.2,428 1034.3,428 1038.3,428 1042.1,428 1045.9,428 1049.6,428 1053.2,428 1056.7,428 1060.2,428 1063.6,428 1066.9,428 1070.2,428 1073.4,428 1076.5,428 1079.6,428 1082.6,428 1085.5,428 1088.4,428 1091.3,428 1094.1,428 1096.8,428 1099.5,428 1102.2,428 1104.8,428 1107.4,428 1109.9,428 1112.4,428 1114.8,428 1117.2,428 1119.6,428 1121.9,428 1124.1,428 1126.4,428 1128.5,428 1130.7,428 1132.8,428 1134.9,428 1136.9,428 1138.9,428 1140.9,428 1142.8,428 1144.7,428 1146.6,428 1148.4,428 1150.2,428 1152,428 1153.7,428 1155.5,428 1157.1,428 1158.8,428 1160.4,428 1162,428 1163.6,428 1165.2,428 1166.7,428 1168.3,428 1169.8,428 1171.3,428 1172.8,428 1174.3,428 1175.8,428 1177.2,428 1178.7,428 1180.1,428 1181.5,428 1182.9,428 1184.3,428 1185.7,428 1187.1,428 1188.5,428 1189.8,428 1191.2,428 1192.5,428 1193.8,428 1195.1,428 1196.4,428 1197.7,428 1198.9,428 1200.2,428 1201.5,428 1202.7,428 1203.9,428 1205.1,428 1206.3,428 1207.5,428 1208.7,428 1209.8,428 1211,428 1212.1,428 1213.3,428 1214.4,428 1215.5,428 1216.6,428 1217.7,428 1218.7,428 1219.8,428 1220.9,428 1221.9,428 1222.9,428 1224,428 1225,428 1226,428 1226.9,428 1227.9,428 1228.9,428 1229.8,428 1230.8,428 1231.7,428 1232.6,428 1233.5,428 1234.4,428 1235.3,428 1236.1,428 1237,428 1237.8,428 1238.6,428 1239.5,428 1240.3,428 1241.1,428 1241.8,428 1242.6,428 1243.4,428" stroke="none" marker-start="url(#mu)" marker-mid="url(#mu)" marker-end="url(#mu)"/>
<polyline points="1244.1,428 1244.8,428 1245.5,428 1246.2,428 1246.9,428 1247.5,428 1248.2,428 1248.8,428 1249.4,428 1250.1,428 1250.7,428 1251.2,428 1251.8,428 1252.3,428 1252.8,428 1253.3,428" stroke="none" marker-start="url(#muj)" marker-mid="url(#muj)" marker-end="url(#muj)"/>
<polyline points="1253.8,428 1254.2,428 1254.6,428 1255,428 1255.4,428 1255.8,428 1256.2,428 1256.5,428 1256.8,428 1257.2,428 1257.5,428 1257.8,428 1258.2,428 1258.5,428 1258.8,428 1259.1,428 1259.4,428 1259.7,428 1260,428 1260.2,428 1260.5,428 1260.8,428 1261.1,428 1261.3,428 1261.6,428 1261.9,428 1262.1,428 1262.4,428 1262.6,428 1262.8,428 1263.1,428 1263.3,428 1263.6,428 1263.8,428 1264.1,428 1264.3,428 1264.5,428 1264.8,428 1265,428 1265.2,428 1265.5,428 1265.7,428 1265.9,428 1266.2,428 1266.4,428 1266.6,428 1266.8,428 1267.1,428 1267.3,428 1267.5,428 1267.7,428 1268,428 1268.2,428 1268.4,428 1268.6,428 1268.8,428 1269,428 1269.2,428 1269.5,428 1269.7,428 1269.9,428 1270.1,428 1270.3,428 1270.5,428 1270.7,428 1270.9,428 1271.1,428 1271.3,428" stroke="none" marker-start="url(#muk)" marker-mid="url(#muk)" marker-end="url(#muk)"/>
</g>
<g stroke="#000" fill="none">
<rect x="240.5" y="105.2" width="1486.7" height="842.3" stroke-width="1.39"/>
<path d="M247 947.5v-35M247 105.2v35" stroke-width="4.1"/>
<path d="M615.4 947.5v-35M615.4 105.2v35" stroke-width="4.1"/>
<path d="M983.9 947.5v-35M983.9 105.2v35" stroke-width="4.1"/>
<path d="M1352.4 947.5v-35M1352.4 105.2v35" stroke-width="4.1"/>
<path d="M1720.9 947.5v-35M1720.9 105.2v35" stroke-width="4.1"/>
<path d="M240.5 104.9h35" stroke-width="4.1"/>
<path d="M240.5 206.5h35" stroke-width="4.1"/>
<path d="M240.5 308.1h35" stroke-width="4.1"/>
<path d="M240.5 409.8h35" stroke-width="4.1"/>
<path d="M240.5 511.4h35" stroke-width="4.1"/>
<path d="M240.5 613h35" stroke-width="4.1"/>
<path d="M240.5 714.6h35" stroke-width="4.1"/>
<path d="M240.5 816.3h35" stroke-width="4.1"/>
<path d="M240.5 917.9h35" stroke-width="4.1"/>
<path d="M240.5 176.4h14M240.5 145.8h14M240.5 127.9h14M240.5 115.2h14M240.5 278.1h14M240.5 247.5h14M240.5 229.6h14M240.5 216.9h14M240.5 379.7h14M240.5 349.1h14M240.5 331.2h14M240.5 318.5h14M240.5 481.3h14M240.5 450.7h14M240.5 432.8h14M240.5 420.1h14M240.5 582.9h14M240.5 552.3h14M240.5 534.4h14M240.5 521.7h14M240.5 684.6h14M240.5 654h14M240.5 636.1h14M240.5 623.4h14M240.5 786.2h14M240.5 755.6h14M240.5 737.7h14M240.5 725h14M240.5 887.8h14M240.5 857.2h14M240.5 839.3h14M240.5 826.6h14M240.5 940.9h14M240.5 928.2h14" stroke-width="2.9"/>
</g>
<g>
<text transform="translate(158.60,981.20) scale(1.0799,1)" font-size="39.29" fill="#000">0.000001</text>
<text transform="translate(527.00,981.20) scale(1.0812,1)" font-size="39.29" fill="#000">0.000002</text>
<text transform="translate(895.51,981.20) scale(1.0786,1)" font-size="39.29" fill="#000">0.000003</text>
<text transform="translate(1264.01,981.20) scale(1.0759,1)" font-size="39.29" fill="#000">0.000004</text>
<text transform="translate(1632.51,981.20) scale(1.0786,1)" font-size="39.29" fill="#000">0.000005</text>
<text transform="translate(1636.74,1005.20) scale(1.1068,1)" font-size="17.39" fill="#000">+1.376171</text>
<text transform="translate(171.42,119.40) scale(1.0424,1)" font-size="39.43" fill="#000">10</text>
<text transform="translate(218.46,97.80) scale(1.0193,1)" font-size="28.00" fill="#000">0</text>
<text transform="translate(161.62,221.93) scale(1.0424,1)" font-size="39.43" fill="#000">10</text>
<rect x="209" y="193.1" width="7" height="2.2" fill="#000"/>
<text transform="translate(219.60,200.33) scale(0.9031,1)" font-size="28.00" fill="#000">1</text>
<text transform="translate(161.62,323.55) scale(1.0424,1)" font-size="39.43" fill="#000">10</text>
<rect x="209" y="294.7" width="7" height="2.2" fill="#000"/>
<text transform="translate(218.45,301.95) scale(1.0361,1)" font-size="28.00" fill="#000">2</text>
<text transform="translate(161.62,425.17) scale(1.0424,1)" font-size="39.43" fill="#000">10</text>
<rect x="209" y="396.4" width="7" height="2.2" fill="#000"/>
<text transform="translate(218.79,403.57) scale(0.9925,1)" font-size="28.00" fill="#000">3</text>
<text transform="translate(161.62,526.80) scale(1.0424,1)" font-size="39.43" fill="#000">10</text>
<rect x="209" y="498.0" width="7" height="2.2" fill="#000"/>
<text transform="translate(219.38,505.20) scale(0.9335,1)" font-size="28.00" fill="#000">4</text>
<text transform="translate(161.62,628.42) scale(1.0424,1)" font-size="39.43" fill="#000">10</text>
<rect x="209" y="599.6" width="7" height="2.2" fill="#000"/>
<text transform="translate(218.79,606.82) scale(0.9925,1)" font-size="28.00" fill="#000">5</text>
<text transform="translate(161.62,730.05) scale(1.0424,1)" font-size="39.43" fill="#000">10</text>
<rect x="209" y="701.2" width="7" height="2.2" fill="#000"/>
<text transform="translate(218.48,708.45) scale(1.0138,1)" font-size="28.00" fill="#000">6</text>
<text transform="translate(161.62,831.67) scale(1.0424,1)" font-size="39.43" fill="#000">10</text>
<rect x="209" y="802.9" width="7" height="2.2" fill="#000"/>
<text transform="translate(218.45,810.07) scale(1.0361,1)" font-size="28.00" fill="#000">7</text>
<text transform="translate(161.62,933.30) scale(1.0424,1)" font-size="39.43" fill="#000">10</text>
<rect x="209" y="904.5" width="7" height="2.2" fill="#000"/>
<text transform="translate(218.64,911.70) scale(1.0030,1)" font-size="28.00" fill="#000">8</text>
</g>
<g transform="translate(140.9,741) rotate(-90)"><text transform="translate(-4.28,0.00) scale(0.9731,1)" font-size="54.93" fill="#000">Mass</text><text transform="translate(141.18,0.00) scale(1.0293,1)" font-size="54.93" fill="#000">Fraction</text><text transform="translate(363.94,0.00) scale(0.9885,1)" font-size="54.93" fill="#000">(X)</text></g>
<text transform="translate(703.21,1035.70) scale(0.9841,1)" font-size="54.49" fill="#000">Mass</text>
<text transform="translate(847.61,1035.70) scale(1.0613,1)" font-size="54.49" fill="#000">Coordinate</text>
<text transform="translate(1148.05,1035.70) scale(0.9936,1)" font-size="54.49" fill="#000">(M</text>
<circle cx="1232" cy="1039.8" r="11.4" fill="none" stroke="#000" stroke-width="1.3"/><circle cx="1232" cy="1039.8" r="2.3" fill="#000"/>
<text transform="translate(1251.98,1035.70) scale(0.8102,1)" font-size="54.49" fill="#000">)</text>
<rect x="1374.5" y="119.4" width="339.0999999999999" height="552.8000000000001" fill="#fff" stroke="#000" stroke-width="1.39"/>
<g fill="none">
<line x1="1392.6" y1="142.1" x2="1431.5" y2="142.1" stroke="#000" stroke-width="6.5" stroke-dasharray="1.39 4.17"/>
<line x1="1390.3" y1="184" x2="1434.8" y2="184" stroke="#f00" stroke-width="4.17"/>
<line x1="1392.8" y1="225.8" x2="1431.5" y2="225.8" stroke="#bf00bf" stroke-width="4.17" stroke-dasharray="4.17 6.94 1.39 6.94"/>
<line x1="1392.8" y1="267.7" x2="1432.8" y2="267.7" stroke="#008000" stroke-width="4.17" stroke-dasharray="8.33 8.33"/>
<line x1="1392.8" y1="309.6" x2="1431.5" y2="309.6" stroke="#00f" stroke-width="4.17" stroke-dasharray="4.17 6.94 1.39 6.94"/>
<polyline points="1393.3,351.4 1432.5,351.4" stroke="none" marker-start="url(#mo)" marker-mid="url(#mo)" marker-end="url(#mo)"/>
<line x1="1392.8" y1="393.3" x2="1431.5" y2="393.3" stroke="#f00" stroke-width="1.39" stroke-dasharray="4.17 6.94 1.39 6.94"/>
<polyline points="1393.3,435.2 1432.5,435.2" stroke="none" marker-start="url(#mD)" marker-mid="url(#mD)" marker-end="url(#mD)"/>
<polygon points="1393.3,470.7 1397.2,477.1 1393.3,483.5 1389.4,477.1" fill="#bf00bf" stroke="#000" stroke-width="0.70"/>
<polygon points="1432.5,470.7 1436.4,477.1 1432.5,483.5 1428.6,477.1" fill="#bf00bf" stroke="#000" stroke-width="0.70"/>
<polygon points="1393.30,514.43 1397.58,517.54 1395.95,522.57 1390.65,522.57 1389.02,517.54" fill="#008000" stroke="#000" stroke-width="0.70"/>
<polygon points="1432.50,514.43 1436.78,517.54 1435.15,522.57 1429.85,522.57 1428.22,517.54" fill="#008000" stroke="#000" stroke-width="0.70"/>
<line x1="1391.3" y1="560.8" x2="1433.8" y2="560.8" stroke="#000" stroke-width="4.17"/>
<path d="M1388.8 556.3l9 9M1388.8 565.3l9 -9" stroke="#000" stroke-width="0.70"/>
<path d="M1428.0 556.3l9 9M1428.0 565.3l9 -9" stroke="#000" stroke-width="0.70"/>
<line x1="1393.3" y1="603.1" x2="1432.5" y2="603.1" stroke="#f00" stroke-width="2.78"/>
<polyline points="1393.3,603.1 1432.5,603.1" stroke="none" marker-start="url(#mh)" marker-mid="url(#mh)" marker-end="url(#mh)"/>
<polyline points="1393.3,645.5 1432.5,645.5" stroke="none" marker-start="url(#mu)" marker-mid="url(#mu)" marker-end="url(#mu)"/>
</g>
<text transform="translate(1460.59,151.60) scale(0.9717,1)" font-size="29.71" fill="#000">H1</text>
<text transform="translate(1460.53,193.47) scale(0.9971,1)" font-size="29.71" fill="#000">He4</text>
<text transform="translate(1461.44,235.34) scale(0.9856,1)" font-size="29.71" fill="#000">C13</text>
<text transform="translate(1461.44,277.21) scale(0.9797,1)" font-size="29.71" fill="#000">C12</text>
<text transform="translate(1461.56,319.08) scale(0.9995,1)" font-size="29.71" fill="#000">O16</text>
<text transform="translate(1461.54,360.95) scale(1.0156,1)" font-size="29.71" fill="#000">Sr88</text>
<text transform="translate(1460.46,402.82) scale(1.0280,1)" font-size="29.71" fill="#000">Ba138</text>
<text transform="translate(1460.48,444.69) scale(1.0172,1)" font-size="29.71" fill="#000">Ne22</text>
<text transform="translate(1460.51,486.56) scale(1.0038,1)" font-size="29.71" fill="#000">Rb87</text>
<text transform="translate(1460.50,528.43) scale(1.0098,1)" font-size="29.71" fill="#000">Pb208</text>
<text transform="translate(1461.95,570.30) scale(1.0632,1)" font-size="29.71" fill="#000">Zr96</text>
<text transform="translate(1464.18,612.17) scale(1.0455,1)" font-size="29.71" fill="#000">Temperature</text>
<text transform="translate(1647.34,612.17) scale(1.1354,1)" font-size="29.71" fill="#000">[T9]</text>
<text transform="translate(1460.58,654.04) scale(0.9770,1)" font-size="29.71" fill="#000">Fe56</text>
<g stroke="#000" fill="none">
<rect x="240.5" y="105.2" width="1486.7" height="842.3" stroke-width="1.39"/>
<path d="M1727.2 890.7h-28.3" stroke-width="5.5"/>
<path d="M1727.2 830.3h-28.3" stroke-width="5.5"/>
<path d="M1727.2 769.8h-28.3" stroke-width="5.5"/>
<path d="M1727.2 709.4h-28.3" stroke-width="5.5"/>
<path d="M1727.2 648.9h-28.3" stroke-width="5.5"/>
<path d="M1727.2 588.5h-28.3" stroke-width="5.5"/>
<path d="M1727.2 528h-28.3" stroke-width="5.5"/>
<path d="M1727.2 467.6h-28.3" stroke-width="5.5"/>
<path d="M1727.2 407.1h-28.3" stroke-width="5.5"/>
<path d="M1727.2 346.7h-28.3" stroke-width="5.5"/>
<path d="M1727.2 286.2h-28.3" stroke-width="5.5"/>
<path d="M1727.2 225.8h-28.3" stroke-width="5.5"/>
<path d="M1727.2 165.3h-28.3" stroke-width="5.5"/>
<path d="M1727.2 104.9h-28.3" stroke-width="5.5"/>
</g>
<g clip-path="url(#ax)" fill="none">
<polyline points="888.9,962 890.3,944.5 891.4,933.4 892.5,916 894,899 896.3,881 898.3,850 901.3,807.5 905,751.6 912.2,601.5 919.8,506 925,445.3 929.4,359.5 937,345.3 944.6,343.4 949.5,342.6 957.5,342.5 964.4,342.5 969.7,342.6 972.4,342.8 977.7,343.7 982.6,344.7 986.4,345.6 990.6,346.7 994.4,347.9 998.6,349.4 1001.6,350.5 1004.7,352.4 1010.4,356.6 1016.5,364.3 1020.9,435 1024.9,488.4 1028,592.7 1032,655.5 1035,721 1039,813.6" stroke="#00f" stroke-width="2.78" stroke-linejoin="round" marker-start="url(#mv)" marker-mid="url(#mv)" marker-end="url(#mv)"/>
<polyline points="1271.3,328.8 1271.3,329.5 1271.3,330.2 1271.3,330.9 1271.3,331.6 1271.3,332.3 1271.3,333 1271.3,333.7 1271.3,334.4 1271.3,335.1 1271.3,335.8 1271.3,338.3 1271.3,345 1271.3,351.5 1271.3,358.3 1271.3,364.9 1271.3,371.5 1271.3,378.2 1271.3,384.2 1271.3,392.1 1271.3,401.5 1271.3,412.1 1271.3,428.1 1271.3,434.7 1271.3,454.7 1271.3,477.3 1271.3,490.6 1271.3,497.3 1271.3,502.5 1271.3,511.9 1271.3,526.5 1271.3,538.5 1271.3,547.8 1271.3,559.8 1271.3,575.8 1271.3,586.4 1271.3,594.4 1271.3,602.4 1271.3,613 1271.3,634.3 1271.3,652.9 1271.3,666.5 1271.3,680.8 1271.3,697.3 1271.3,712.5 1271.3,720.7 1271.3,730.4 1271.3,744.1 1271.3,762 1271.3,771.7 1271.3,782.7 1271.3,791 1271.3,806.1 1271.3,814.4 1271.3,826.8 1271.3,839.2 1271.3,857.1 1271.3,870.9 1271.3,884.6 1271.3,901.2 1271.3,906.7 1271.3,914.9 1271.3,923.2 1271.3,932.8 1271.3,939.7 1271.3,945.2 1271.3,950.5" stroke="#00f" stroke-width="2.78" marker-start="url(#mv)" marker-mid="url(#mv)" marker-end="url(#mv)"/>
</g>
<rect x="1474.2" y="883.4" width="239.3" height="49.8" fill="#fff" stroke="#000" stroke-width="1.39"/>
<g fill="none"><polyline points="1494.8,906.5 1533.7,906.5" stroke="#00f" stroke-width="2.78" marker-start="url(#mv)" marker-end="url(#mv)"/></g>
<text transform="translate(1560.39,916.00) scale(1.0706,1)" font-size="29.28" fill="#000">Log(Dmix)</text>
<text transform="translate(1733.53,905.10) scale(1.0373,1)" font-size="39.43" fill="#000">10</text>
<text transform="translate(1781.10,883.60) scale(0.9750,1)" font-size="28.29" fill="#000">3</text>
<text transform="translate(1733.53,844.65) scale(1.0373,1)" font-size="39.43" fill="#000">10</text>
<text transform="translate(1781.68,823.15) scale(0.9171,1)" font-size="28.29" fill="#000">4</text>
<text transform="translate(1733.53,784.21) scale(1.0373,1)" font-size="39.43" fill="#000">10</text>
<text transform="translate(1781.10,762.71) scale(0.9750,1)" font-size="28.29" fill="#000">5</text>
<text transform="translate(1733.53,723.76) scale(1.0373,1)" font-size="39.43" fill="#000">10</text>
<text transform="translate(1780.79,702.26) scale(0.9960,1)" font-size="28.29" fill="#000">6</text>
<text transform="translate(1733.53,663.31) scale(1.0373,1)" font-size="39.43" fill="#000">10</text>
<text transform="translate(1780.76,641.81) scale(1.0179,1)" font-size="28.29" fill="#000">7</text>
<text transform="translate(1733.53,602.87) scale(1.0373,1)" font-size="39.43" fill="#000">10</text>
<text transform="translate(1780.95,581.37) scale(0.9854,1)" font-size="28.29" fill="#000">8</text>
<text transform="translate(1733.53,542.42) scale(1.0373,1)" font-size="39.43" fill="#000">10</text>
<text transform="translate(1780.93,520.92) scale(0.9960,1)" font-size="28.29" fill="#000">9</text>
<text transform="translate(1733.53,481.98) scale(1.0373,1)" font-size="39.43" fill="#000">10</text>
<text transform="translate(1782.20,460.48) scale(0.9899,1)" font-size="28.29" fill="#000">10</text>
<text transform="translate(1733.53,421.53) scale(1.0373,1)" font-size="39.43" fill="#000">10</text>
<text transform="translate(1782.00,400.03) scale(1.0819,1)" font-size="28.29" fill="#000">11</text>
<text transform="translate(1733.53,361.08) scale(1.0373,1)" font-size="39.43" fill="#000">10</text>
<text transform="translate(1782.17,339.58) scale(1.0050,1)" font-size="28.29" fill="#000">12</text>
<text transform="translate(1733.53,300.64) scale(1.0373,1)" font-size="39.43" fill="#000">10</text>
<text transform="translate(1782.19,279.14) scale(0.9949,1)" font-size="28.29" fill="#000">13</text>
<text transform="translate(1733.53,240.19) scale(1.0373,1)" font-size="39.43" fill="#000">10</text>
<text transform="translate(1782.21,218.69) scale(0.9850,1)" font-size="28.29" fill="#000">14</text>
<text transform="translate(1733.53,179.75) scale(1.0373,1)" font-size="39.43" fill="#000">10</text>
<text transform="translate(1782.19,158.25) scale(0.9949,1)" font-size="28.29" fill="#000">15</text>
<text transform="translate(1733.53,119.30) scale(1.0373,1)" font-size="39.43" fill="#000">10</text>
<text transform="translate(1782.19,97.80) scale(0.9949,1)" font-size="28.29" fill="#000">16</text>
<g transform="translate(1859.3,655.8) rotate(-90)"><text transform="translate(-4.60,0.00) scale(1.0480,1)" font-size="54.93" fill="#000">Log(Dmix)</text></g>
</svg>
</body></html>
